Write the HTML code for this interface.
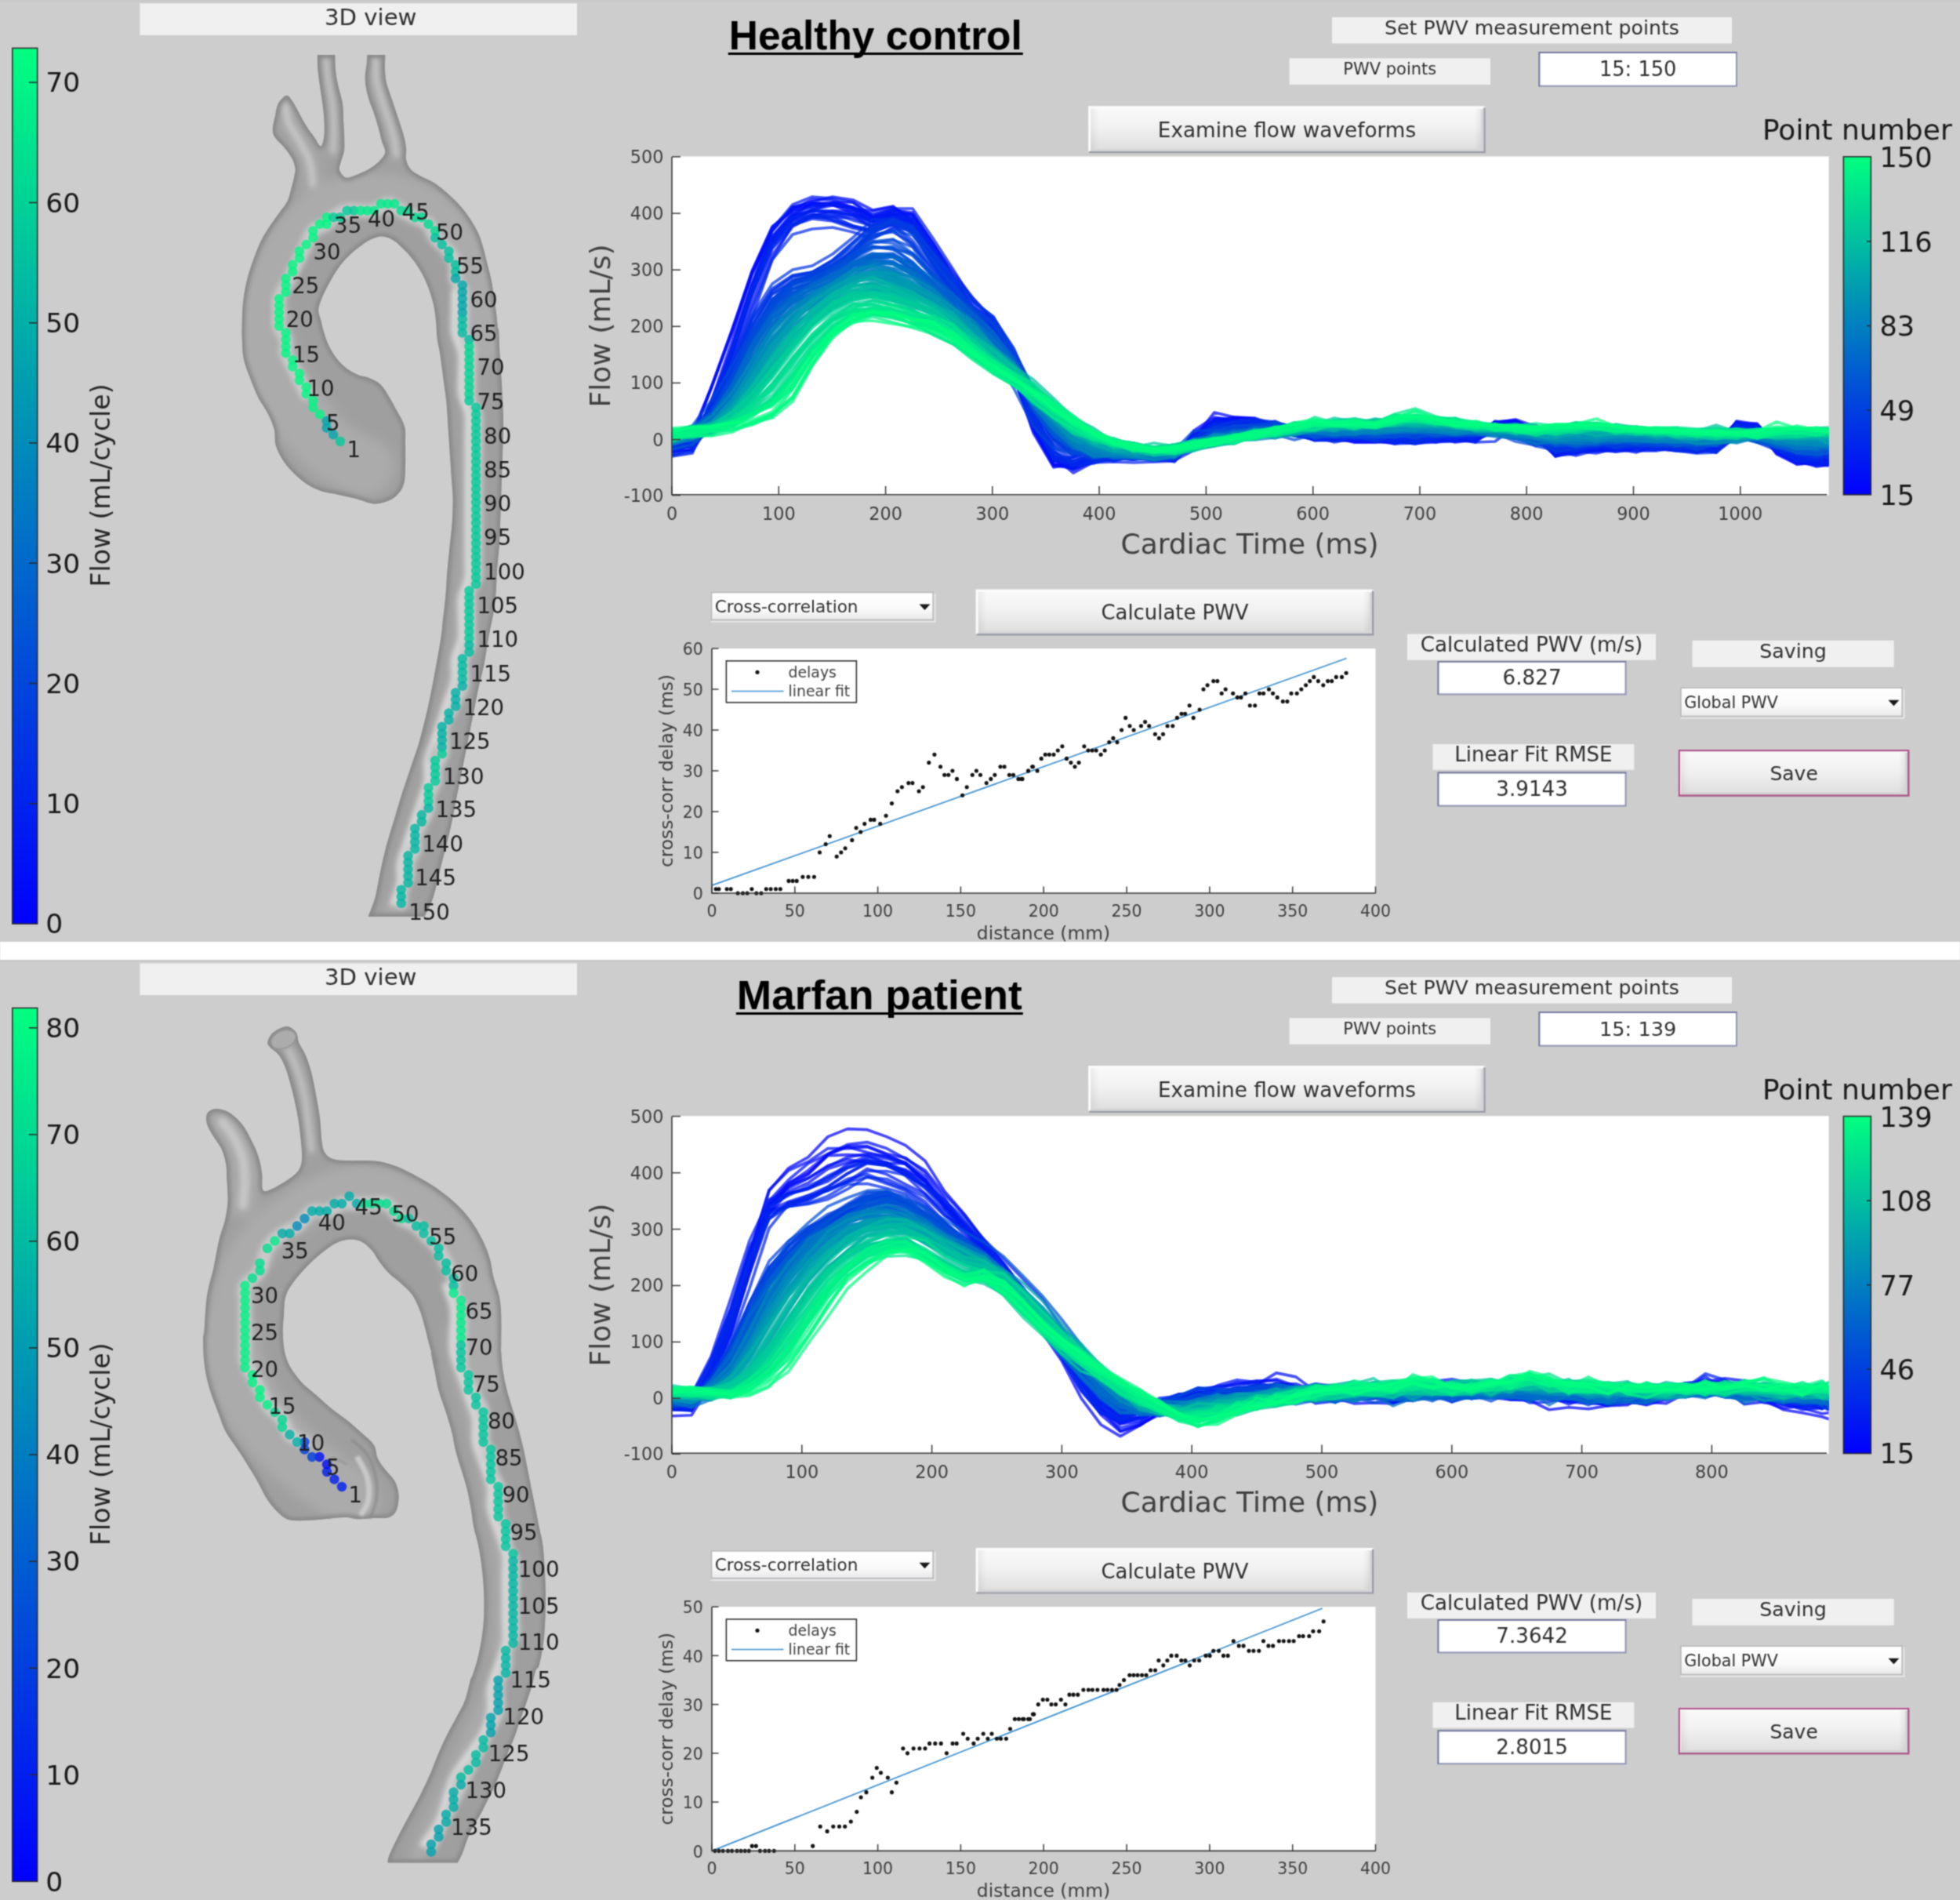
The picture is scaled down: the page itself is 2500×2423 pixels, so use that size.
<!DOCTYPE html>
<html><head><meta charset="utf-8"><title>PWV analysis</title>
<style>html,body{margin:0;padding:0;background:#cdcdcd}svg{display:block}text{font-family:"DejaVu Sans","Liberation Sans",sans-serif}</style></head><body>
<svg width="2500" height="2423" viewBox="0 0 2500 2423">
<defs>
<linearGradient id="winter" x1="0" y1="1" x2="0" y2="0"><stop offset="0" stop-color="#0000ff"/><stop offset="1" stop-color="#00ff80"/></linearGradient>
<linearGradient id="btn" x1="0" y1="0" x2="0" y2="1"><stop offset="0" stop-color="#fafafa"/><stop offset="0.45" stop-color="#f1f1f1"/><stop offset="1" stop-color="#dcdcdc"/></linearGradient>
<linearGradient id="btnl" x1="0" y1="0" x2="1" y2="0"><stop offset="0" stop-color="#000" stop-opacity="0.07"/><stop offset="1" stop-color="#000" stop-opacity="0"/></linearGradient>
<linearGradient id="btnr" x1="0" y1="0" x2="1" y2="0"><stop offset="0" stop-color="#000" stop-opacity="0"/><stop offset="1" stop-color="#000" stop-opacity="0.1"/></linearGradient>
<linearGradient id="pop" x1="0" y1="0" x2="0" y2="1"><stop offset="0" stop-color="#ffffff"/><stop offset="0.6" stop-color="#fafafa"/><stop offset="1" stop-color="#e9e9e9"/></linearGradient>
<filter id="blur6" x="-20%" y="-20%" width="140%" height="140%"><feGaussianBlur stdDeviation="7"/></filter>
<filter id="blur4" x="-20%" y="-20%" width="140%" height="140%"><feGaussianBlur stdDeviation="4"/></filter>
<filter id="blur3" x="-20%" y="-20%" width="140%" height="140%"><feGaussianBlur stdDeviation="3"/></filter>
<filter id="blur1" x="-20%" y="-20%" width="140%" height="140%"><feGaussianBlur stdDeviation="1.6"/></filter>
<filter id="blur2" x="-20%" y="-20%" width="140%" height="140%"><feGaussianBlur stdDeviation="2.5"/></filter>
<clipPath id="clipA"><rect x="856.5" y="199.5" width="1476.1" height="431"/></clipPath>
<filter id="soft" filterUnits="userSpaceOnUse" x="-10" y="-10" width="2520" height="2443" color-interpolation-filters="sRGB"><feConvolveMatrix order="3" kernelMatrix="0.0484 0.1232 0.0484 0.1232 0.3136 0.1232 0.0484 0.1232 0.0484" edgeMode="duplicate" preserveAlpha="true"/></filter>
</defs>
<g filter="url(#soft)">
<rect x="-10" y="-10" width="2520" height="2443" fill="#cdcdcd"/>
<rect width="2500" height="2423" fill="#fff"/>
<rect x="0" y="0" width="2500" height="1201" fill="#cdcdcd"/>
<rect x="0" y="0" width="2500" height="2.2" fill="#c8c8c8"/>
<rect x="0" y="1224.2" width="2500" height="1200" fill="#cdcdcd"/>
<rect x="0" y="1224.2" width="2500" height="2.2" fill="#c6c6c6"/>
<clipPath id="ac1"><path d="M541.4 1169C543.3 1164.9 548.8 1156.1 552.5 1144.6C556.2 1133.2 559.9 1115.2 563.5 1100.4C567.2 1085.7 571.3 1071 574.6 1056.2C577.9 1041.5 580.5 1026.8 583.4 1012C586.4 997.3 589.3 982.6 592.3 967.8C595.2 953.1 598.2 938.4 601.1 923.6C604.1 908.9 607.2 892.3 609.9 879.4C612.7 866.6 615.5 857.3 617.7 846.3C619.9 835.2 620.9 826 623.2 813.1C625.5 800.3 629.6 783.5 631.4 769.4C633.2 755.3 633.1 740.3 634 728.4C634.9 716.4 636 707.9 636.7 697.6C637.4 687.3 637.7 677.1 638.1 666.8C638.5 656.5 638.8 646.3 639.2 636C639.5 625.8 639.8 615.5 640.2 605.2C640.5 595 640.9 584.7 641.2 574.4C641.6 564.2 642.2 553.9 642.2 543.7C642.2 533.4 641.7 523.1 641.2 512.9C640.8 502.6 640.2 492.4 639.6 482.1C639 471.8 638.1 461.6 637.5 451.3C636.9 441 636.5 425.8 636.1 420.5C635.7 415.2 635.6 423 635.1 419.4C634.5 415.8 633.9 405.7 633 398.9C632.1 392.1 630.9 385.2 629.9 378.4C628.9 371.5 628.2 364.7 626.8 357.9C625.5 351 623.4 344.2 621.7 337.3C620 330.5 618.5 323.3 616.6 316.8C614.7 310.3 613.2 304.5 610.4 298.3C607.7 292.2 603.9 285.7 600.2 279.9C596.4 274 592.6 268.9 587.9 263.4C583.1 258 577.2 252.2 571.4 247C565.6 241.9 558.8 236.4 553 232.7C547.1 228.9 541.3 227.2 536.5 224.4C531.8 221.7 527.3 219.7 524.2 216.2C521.1 212.8 519.1 208.4 518.1 203.9C517 199.5 518.6 194.7 518.1 189.6C517.6 184.4 516.4 178.6 515 173.1C513.6 167.7 511.7 162.5 509.9 156.7C508 150.9 505.8 144.4 503.7 138.3C501.7 132.1 499.4 125.6 497.5 119.8C495.7 114 493.5 108.8 492.4 103.4C491.3 97.9 491.2 92.5 491 86.9C490.8 81.4 491.3 72.7 491.4 69.9L468.4 69.9C468.3 71.7 468.2 76.2 467.8 80.8C467.3 85.3 465.9 92.1 465.7 97.2C465.6 102.3 465.9 106.4 466.8 111.6C467.6 116.7 469.2 122.5 470.9 128C472.6 133.5 475 138.3 477 144.4C479.1 150.6 481.5 158.8 483.2 164.9C484.9 171.1 485.9 176.6 487.3 181.3C488.7 186.1 491.7 189.9 491.4 193.7C491 197.4 488.3 200.5 485.2 203.9C482.2 207.3 477.4 211.3 472.9 214.2C468.5 217.1 463.3 219.3 458.6 221.4C453.8 223.4 447.6 226 444.2 226.5C440.8 227 439.9 226.2 438 224.4C436.1 222.7 433.4 219.3 432.9 216.2C432.4 213.2 433.9 210.1 435 206C436 201.9 438.4 197.1 439.1 191.6C439.7 186.1 439.2 179.6 439.1 173.1C438.9 166.6 438.4 159.5 438 152.6C437.7 145.8 438 138.9 437 132.1C436 125.3 433.3 118.4 431.9 111.6C430.4 104.7 428.9 98 428.2 91C427.4 84.1 427.5 73.4 427.4 69.9L404.8 69.9C404.9 73.4 405 84.1 405.6 91C406.2 98 407.3 104.7 408.3 111.6C409.2 118.4 410.5 125.3 411.3 132.1C412.2 138.9 413.1 145.8 413.4 152.6C413.7 159.5 414.1 167.5 413.4 173.1C412.7 178.8 411.3 186.1 409.3 186.5C407.2 186.8 404.2 179.5 401.1 175.2C398 170.9 394.2 166.3 390.8 160.8C387.4 155.4 383.6 147.8 380.6 142.4C377.5 136.9 374.9 131.4 372.4 128C369.8 124.6 368.1 121.1 365.2 121.8C362.3 122.5 357.3 127.6 354.9 132.1C352.5 136.5 352 143 350.8 148.5C349.6 154 347.7 160.5 347.7 164.9C347.7 169.4 348.4 171.4 350.8 175.2C353.2 179 358.5 183.1 362.1 187.5C365.7 192 370 197.4 372.4 201.9C374.7 206.3 375.9 210.4 376.5 214.2C377 217.9 376.3 220 375.4 224.4C374.6 228.9 372.9 235.4 371.3 240.9C369.8 246.3 368.8 252.2 366.2 257.3C363.6 262.4 360 265.8 355.9 271.7C351.8 277.5 345.7 285.7 341.6 292.2C337.5 298.7 334.7 303.1 331.3 310.6C327.9 318.2 324 328.8 321 337.3C318.1 345.9 315.7 353.4 313.9 362C312 370.5 310.6 379.7 309.8 388.6C308.9 397.5 308.9 408.3 308.7 415.3C308.6 422.3 308.4 423.8 308.7 430.8C309.1 437.8 309.1 448.9 310.8 457.5C312.5 466 315.9 473.9 319 482.1C322.1 490.3 325.5 499.2 329.3 506.7C333 514.2 338.1 520.4 341.6 527.2C345 534.1 348.1 540.9 349.8 547.8C351.5 554.6 349.8 561.5 351.8 568.3C353.9 575.1 357.6 582.3 362.1 588.8C366.5 595.3 373 602.2 378.5 607.3C384 612.4 389.5 616.4 394.9 619.6C400.4 622.8 405.2 624.9 411.3 626.8C417.5 628.7 424.7 629.3 431.9 630.9C439.1 632.4 447.3 634.1 454.4 636C461.6 637.9 468.8 641.5 475 642.2C481.1 642.9 486.3 641.8 491.4 640.1C496.5 638.4 501.8 635.7 505.8 631.9C509.7 628.2 513.1 623.7 515 617.5C516.9 611.4 516.7 603.9 517 595C517.4 586.1 517.2 572.7 517 564.2C516.9 555.6 517.9 550.5 516 543.7C514.1 536.8 509.2 529.6 505.8 523.1C502.3 516.6 498.9 510.1 495.5 504.7C492.1 499.2 489.3 494.1 485.2 490.3C481.1 486.5 475.7 484.1 470.9 482.1C466.1 480 461.3 480 456.5 478C451.7 475.9 446.6 473.2 442.1 469.8C437.7 466.4 433.6 462.3 429.8 457.5C426.1 452.7 422.3 446.5 419.6 441C416.8 435.6 415.1 430.1 413.4 424.6C411.7 419.2 410.5 413.2 409.3 408.2C408.1 403.2 405.9 399.8 406.2 394.8C406.6 389.8 408.8 384.5 411.3 378.4C413.9 372.2 418.2 364 421.6 357.9C425 351.7 428.1 346.6 431.9 341.4C435.6 336.3 439.7 331.5 444.2 327.1C448.6 322.6 453.8 318.3 458.6 314.8C463.3 311.2 468.1 307.7 472.9 305.5C477.7 303.3 482.5 301.2 487.3 301.4C492.1 301.6 496.9 303.6 501.7 306.5C506.4 309.4 511.6 314.4 516 318.9C520.5 323.3 524.6 328.1 528.3 333.2C532.1 338.4 535.5 343.8 538.6 349.6C541.7 355.5 544.4 361.6 546.8 368.1C549.2 374.6 551.4 381.8 553 388.6C554.5 395.5 555.3 402.1 556 409.2C556.8 416.2 556.6 423.8 557.5 430.8C558.3 437.8 559.9 442.8 561.2 451.3C562.5 459.9 563.9 471.8 565.3 482.1C566.6 492.4 568.4 502.6 569.4 512.9C570.4 523.1 570.7 533.4 571.4 543.7C572.1 553.9 572.8 564.2 573.5 574.4C574.2 584.7 574.9 595 575.5 605.2C576.2 615.5 577.4 625.8 577.6 636C577.8 646.3 577.2 656.5 576.6 666.8C575.9 677.1 574.5 687.3 573.5 697.6C572.5 707.9 571.3 718.1 570.4 728.4C569.6 738.6 569.3 748.3 568.4 759.2C567.4 770 565.6 784.3 564.6 793.3C563.7 802.3 564.1 802.5 562.4 813.1C560.8 823.8 557.5 842.6 554.7 857.3C551.9 872.1 549.2 886.8 545.9 901.5C542.5 916.3 538.5 932.9 534.8 945.7C531.1 958.6 527.4 967.8 523.8 978.9C520.1 989.9 516.2 1001 512.7 1012C509.2 1023.1 506.1 1034.1 502.8 1045.2C499.4 1056.2 495.8 1067.3 492.8 1078.3C489.9 1089.4 487.5 1100.4 485.1 1111.5C482.7 1122.5 481 1135.1 478.5 1144.6C475.9 1154.2 471.1 1164.9 469.6 1169Z"/></clipPath>
<g clip-path="url(#ac1)">
<path d="M541.4 1169C543.3 1164.9 548.8 1156.1 552.5 1144.6C556.2 1133.2 559.9 1115.2 563.5 1100.4C567.2 1085.7 571.3 1071 574.6 1056.2C577.9 1041.5 580.5 1026.8 583.4 1012C586.4 997.3 589.3 982.6 592.3 967.8C595.2 953.1 598.2 938.4 601.1 923.6C604.1 908.9 607.2 892.3 609.9 879.4C612.7 866.6 615.5 857.3 617.7 846.3C619.9 835.2 620.9 826 623.2 813.1C625.5 800.3 629.6 783.5 631.4 769.4C633.2 755.3 633.1 740.3 634 728.4C634.9 716.4 636 707.9 636.7 697.6C637.4 687.3 637.7 677.1 638.1 666.8C638.5 656.5 638.8 646.3 639.2 636C639.5 625.8 639.8 615.5 640.2 605.2C640.5 595 640.9 584.7 641.2 574.4C641.6 564.2 642.2 553.9 642.2 543.7C642.2 533.4 641.7 523.1 641.2 512.9C640.8 502.6 640.2 492.4 639.6 482.1C639 471.8 638.1 461.6 637.5 451.3C636.9 441 636.5 425.8 636.1 420.5C635.7 415.2 635.6 423 635.1 419.4C634.5 415.8 633.9 405.7 633 398.9C632.1 392.1 630.9 385.2 629.9 378.4C628.9 371.5 628.2 364.7 626.8 357.9C625.5 351 623.4 344.2 621.7 337.3C620 330.5 618.5 323.3 616.6 316.8C614.7 310.3 613.2 304.5 610.4 298.3C607.7 292.2 603.9 285.7 600.2 279.9C596.4 274 592.6 268.9 587.9 263.4C583.1 258 577.2 252.2 571.4 247C565.6 241.9 558.8 236.4 553 232.7C547.1 228.9 541.3 227.2 536.5 224.4C531.8 221.7 527.3 219.7 524.2 216.2C521.1 212.8 519.1 208.4 518.1 203.9C517 199.5 518.6 194.7 518.1 189.6C517.6 184.4 516.4 178.6 515 173.1C513.6 167.7 511.7 162.5 509.9 156.7C508 150.9 505.8 144.4 503.7 138.3C501.7 132.1 499.4 125.6 497.5 119.8C495.7 114 493.5 108.8 492.4 103.4C491.3 97.9 491.2 92.5 491 86.9C490.8 81.4 491.3 72.7 491.4 69.9L468.4 69.9C468.3 71.7 468.2 76.2 467.8 80.8C467.3 85.3 465.9 92.1 465.7 97.2C465.6 102.3 465.9 106.4 466.8 111.6C467.6 116.7 469.2 122.5 470.9 128C472.6 133.5 475 138.3 477 144.4C479.1 150.6 481.5 158.8 483.2 164.9C484.9 171.1 485.9 176.6 487.3 181.3C488.7 186.1 491.7 189.9 491.4 193.7C491 197.4 488.3 200.5 485.2 203.9C482.2 207.3 477.4 211.3 472.9 214.2C468.5 217.1 463.3 219.3 458.6 221.4C453.8 223.4 447.6 226 444.2 226.5C440.8 227 439.9 226.2 438 224.4C436.1 222.7 433.4 219.3 432.9 216.2C432.4 213.2 433.9 210.1 435 206C436 201.9 438.4 197.1 439.1 191.6C439.7 186.1 439.2 179.6 439.1 173.1C438.9 166.6 438.4 159.5 438 152.6C437.7 145.8 438 138.9 437 132.1C436 125.3 433.3 118.4 431.9 111.6C430.4 104.7 428.9 98 428.2 91C427.4 84.1 427.5 73.4 427.4 69.9L404.8 69.9C404.9 73.4 405 84.1 405.6 91C406.2 98 407.3 104.7 408.3 111.6C409.2 118.4 410.5 125.3 411.3 132.1C412.2 138.9 413.1 145.8 413.4 152.6C413.7 159.5 414.1 167.5 413.4 173.1C412.7 178.8 411.3 186.1 409.3 186.5C407.2 186.8 404.2 179.5 401.1 175.2C398 170.9 394.2 166.3 390.8 160.8C387.4 155.4 383.6 147.8 380.6 142.4C377.5 136.9 374.9 131.4 372.4 128C369.8 124.6 368.1 121.1 365.2 121.8C362.3 122.5 357.3 127.6 354.9 132.1C352.5 136.5 352 143 350.8 148.5C349.6 154 347.7 160.5 347.7 164.9C347.7 169.4 348.4 171.4 350.8 175.2C353.2 179 358.5 183.1 362.1 187.5C365.7 192 370 197.4 372.4 201.9C374.7 206.3 375.9 210.4 376.5 214.2C377 217.9 376.3 220 375.4 224.4C374.6 228.9 372.9 235.4 371.3 240.9C369.8 246.3 368.8 252.2 366.2 257.3C363.6 262.4 360 265.8 355.9 271.7C351.8 277.5 345.7 285.7 341.6 292.2C337.5 298.7 334.7 303.1 331.3 310.6C327.9 318.2 324 328.8 321 337.3C318.1 345.9 315.7 353.4 313.9 362C312 370.5 310.6 379.7 309.8 388.6C308.9 397.5 308.9 408.3 308.7 415.3C308.6 422.3 308.4 423.8 308.7 430.8C309.1 437.8 309.1 448.9 310.8 457.5C312.5 466 315.9 473.9 319 482.1C322.1 490.3 325.5 499.2 329.3 506.7C333 514.2 338.1 520.4 341.6 527.2C345 534.1 348.1 540.9 349.8 547.8C351.5 554.6 349.8 561.5 351.8 568.3C353.9 575.1 357.6 582.3 362.1 588.8C366.5 595.3 373 602.2 378.5 607.3C384 612.4 389.5 616.4 394.9 619.6C400.4 622.8 405.2 624.9 411.3 626.8C417.5 628.7 424.7 629.3 431.9 630.9C439.1 632.4 447.3 634.1 454.4 636C461.6 637.9 468.8 641.5 475 642.2C481.1 642.9 486.3 641.8 491.4 640.1C496.5 638.4 501.8 635.7 505.8 631.9C509.7 628.2 513.1 623.7 515 617.5C516.9 611.4 516.7 603.9 517 595C517.4 586.1 517.2 572.7 517 564.2C516.9 555.6 517.9 550.5 516 543.7C514.1 536.8 509.2 529.6 505.8 523.1C502.3 516.6 498.9 510.1 495.5 504.7C492.1 499.2 489.3 494.1 485.2 490.3C481.1 486.5 475.7 484.1 470.9 482.1C466.1 480 461.3 480 456.5 478C451.7 475.9 446.6 473.2 442.1 469.8C437.7 466.4 433.6 462.3 429.8 457.5C426.1 452.7 422.3 446.5 419.6 441C416.8 435.6 415.1 430.1 413.4 424.6C411.7 419.2 410.5 413.2 409.3 408.2C408.1 403.2 405.9 399.8 406.2 394.8C406.6 389.8 408.8 384.5 411.3 378.4C413.9 372.2 418.2 364 421.6 357.9C425 351.7 428.1 346.6 431.9 341.4C435.6 336.3 439.7 331.5 444.2 327.1C448.6 322.6 453.8 318.3 458.6 314.8C463.3 311.2 468.1 307.7 472.9 305.5C477.7 303.3 482.5 301.2 487.3 301.4C492.1 301.6 496.9 303.6 501.7 306.5C506.4 309.4 511.6 314.4 516 318.9C520.5 323.3 524.6 328.1 528.3 333.2C532.1 338.4 535.5 343.8 538.6 349.6C541.7 355.5 544.4 361.6 546.8 368.1C549.2 374.6 551.4 381.8 553 388.6C554.5 395.5 555.3 402.1 556 409.2C556.8 416.2 556.6 423.8 557.5 430.8C558.3 437.8 559.9 442.8 561.2 451.3C562.5 459.9 563.9 471.8 565.3 482.1C566.6 492.4 568.4 502.6 569.4 512.9C570.4 523.1 570.7 533.4 571.4 543.7C572.1 553.9 572.8 564.2 573.5 574.4C574.2 584.7 574.9 595 575.5 605.2C576.2 615.5 577.4 625.8 577.6 636C577.8 646.3 577.2 656.5 576.6 666.8C575.9 677.1 574.5 687.3 573.5 697.6C572.5 707.9 571.3 718.1 570.4 728.4C569.6 738.6 569.3 748.3 568.4 759.2C567.4 770 565.6 784.3 564.6 793.3C563.7 802.3 564.1 802.5 562.4 813.1C560.8 823.8 557.5 842.6 554.7 857.3C551.9 872.1 549.2 886.8 545.9 901.5C542.5 916.3 538.5 932.9 534.8 945.7C531.1 958.6 527.4 967.8 523.8 978.9C520.1 989.9 516.2 1001 512.7 1012C509.2 1023.1 506.1 1034.1 502.8 1045.2C499.4 1056.2 495.8 1067.3 492.8 1078.3C489.9 1089.4 487.5 1100.4 485.1 1111.5C482.7 1122.5 481 1135.1 478.5 1144.6C475.9 1154.2 471.1 1164.9 469.6 1169Z" fill="#9f9f9f"/>
<g filter="url(#blur6)" fill="none" stroke-linecap="round" stroke-linejoin="round">
<path d="M587.9 400C589.2 410.3 594 441 596.1 461.6C598.1 482.1 599.3 502.6 600.2 523.1C601 543.7 601.2 564.2 601.2 584.7C601.2 605.2 600.8 625.8 600.2 646.3C599.5 666.8 598.5 687.3 597.1 707.9C595.7 728.4 593.5 751.9 592 769.4C590.4 787 590.4 794.8 587.8 813.1C585.3 831.5 581.2 857.3 576.8 879.4C572.4 901.5 566.9 923.6 561.3 945.7C555.8 967.8 549.9 989.9 543.6 1012C537.4 1034.1 530 1056.2 523.8 1078.3C517.5 1100.4 510.5 1129.5 506.1 1144.6C501.7 1159.7 498.7 1164.9 497.2 1169" stroke="#ababab" stroke-width="20"/>
<path d="M331.3 439.9C331.7 433.1 331.7 412.6 333.4 398.9C335.1 385.2 337.5 370.8 341.6 357.9C345.7 344.9 351.8 331.9 358 320.9C364.1 310 371 301.1 378.5 292.2C386 283.3 393.6 274.4 403.1 267.5C412.7 260.7 424 254.9 436 251.1C447.9 247.4 461.6 245 475 245C488.3 245 503.4 247.4 516 251.1C528.7 254.9 541 260.7 550.9 267.5C560.8 274.4 568.7 283.3 575.5 292.2C582.4 301.1 587.2 310 592 320.9C596.7 331.9 600.8 344.9 604.3 357.9C607.7 370.8 610.4 385.2 612.5 398.9C614.5 412.6 615.9 433.1 616.6 439.9" stroke="#ababab" stroke-width="50"/>
<path d="M331.3 400C332.3 406.8 333 425.7 337.5 441C341.9 456.4 349.8 477 358 492.4C366.2 507.7 375.8 519.7 386.7 533.4C397.7 547.1 410.7 564.2 423.7 574.4C436.7 584.7 457.9 591.6 464.7 595" stroke="#ababab" stroke-width="75"/>
<path d="M415.9 72.6C416.3 77.4 417.2 91.4 418.5 101.3C419.8 111.2 422.5 121.8 423.7 132.1C424.9 142.4 425.5 152.6 425.7 162.9C425.9 173.1 424.9 188.5 424.7 193.7" stroke="#ababab" stroke-width="15"/>
<path d="M479.1 72.6C479.2 77.4 478.7 92.1 480.1 101.3C481.5 110.5 484.7 119.4 487.3 128C489.9 136.5 492.9 144.4 495.5 152.6C498.1 160.8 501 169.7 502.7 177.2C504.4 184.8 505.2 194.3 505.8 197.8" stroke="#ababab" stroke-width="17.5"/>
<path d="M364.1 136.2C364.8 139.6 365.2 149.2 368.3 156.7C371.3 164.2 378.2 173.1 382.6 181.3C387.1 189.6 392.2 197.1 394.9 206C397.7 214.9 398.4 229.9 399 234.7" stroke="#ababab" stroke-width="22.5"/>
</g>
<g filter="url(#blur3)" fill="none" stroke-linecap="round" stroke-linejoin="round">
<path d="M415.9 72.6C416.3 77.4 417.2 91.4 418.5 101.3C419.8 111.2 422.5 121.8 423.7 132.1C424.9 142.4 425.5 152.6 425.7 162.9C425.9 173.1 424.9 188.5 424.7 193.7" stroke="#c6c6c6" stroke-width="5.4"/>
<path d="M479.1 72.6C479.2 77.4 478.7 92.1 480.1 101.3C481.5 110.5 484.7 119.4 487.3 128C489.9 136.5 492.9 144.4 495.5 152.6C498.1 160.8 501 169.7 502.7 177.2C504.4 184.8 505.2 194.3 505.8 197.8" stroke="#c6c6c6" stroke-width="6.3"/>
<path d="M364.1 136.2C364.8 139.6 365.2 149.2 368.3 156.7C371.3 164.2 378.2 173.1 382.6 181.3C387.1 189.6 392.2 197.1 394.9 206C397.7 214.9 398.4 229.9 399 234.7" stroke="#c6c6c6" stroke-width="8.1"/>
<path d="M390.6 502.4C389.2 499.5 384.8 490.8 381.9 485.1C379.1 479.3 376.2 473.5 373.3 467.7C370.4 462 366.1 456.2 364.6 450.4C363.2 444.6 366.1 438.9 364.6 433.1C363.2 427.3 357.4 421.6 356 415.8C354.5 410 356 404.2 356 398.5C356 392.7 354.5 386.9 356 381.1C357.4 375.4 361.7 369.6 364.6 363.8C367.5 358 370.4 352.3 373.3 346.5C376.2 340.7 379.1 335 381.9 329.2C384.8 323.4 387.7 317.6 390.6 311.9C393.5 306.1 394.9 298.9 399.3 294.5C403.6 290.2 412.2 288.8 416.6 285.9C420.9 283 420.9 280.1 425.2 277.2C429.6 274.3 436.8 270 442.6 268.6C448.3 267.1 454.1 268.6 459.9 268.6C465.7 268.6 471.4 270 477.2 268.6C483 267.1 488.7 259.9 494.5 259.9C500.3 259.9 506.1 265.7 511.8 268.6C517.6 271.4 523.4 274.3 529.2 277.2C534.9 280.1 542.1 281.6 546.5 285.9C550.8 290.2 550.8 297.4 555.1 303.2C559.5 309 568.1 314.7 572.5 320.5C576.8 326.3 579.7 332.1 581.1 337.8C582.6 343.6 579.7 349.4 581.1 355.2C582.6 360.9 588.3 366.7 589.8 372.5C591.2 378.3 589.8 384 589.8 389.8C589.8 395.6 589.8 401.3 589.8 407.1C589.8 412.9 588.3 418.7 589.8 424.4C591.2 430.2 597 436 598.4 441.8C599.9 447.5 598.4 453.3 598.4 459.1C598.4 464.9 598.4 470.6 598.4 476.4C598.4 482.2 598.4 487.9 598.4 493.7C598.4 499.5 597 505.3 598.4 511C599.9 516.8 605.7 522.6 607.1 528.4C608.5 534.1 607.1 539.9 607.1 545.7C607.1 551.5 607.1 557.2 607.1 563C607.1 568.8 607.1 574.5 607.1 580.3C607.1 586.1 607.1 591.9 607.1 597.6C607.1 603.4 607.1 609.2 607.1 615C607.1 620.7 607.1 626.5 607.1 632.3C607.1 638.1 607.1 643.8 607.1 649.6C607.1 655.4 607.1 661.1 607.1 666.9C607.1 672.7 607.1 678.5 607.1 684.2C607.1 690 607.1 695.8 607.1 701.6C607.1 707.3 607.1 713.1 607.1 718.9C607.1 724.7 608.5 730.4 607.1 736.2C605.7 742 599.9 747.7 598.4 753.5C597 759.3 598.4 765.1 598.4 770.8C598.4 776.6 598.4 782.4 598.4 788.2C598.4 793.9 598.4 799.7 598.4 805.5C598.4 811.3 599.9 817 598.4 822.8C597 828.6 591.2 834.3 589.8 840.1C588.3 845.9 589.8 851.7 589.8 857.4C589.8 863.2 591.2 869 589.8 874.8C588.3 880.5 584 886.3 581.1 892.1C578.2 897.9 575.3 903.6 572.5 909.4C569.6 915.2 565.2 920.9 563.8 926.7C562.4 932.5 563.8 938.3 563.8 944C563.8 949.8 565.2 955.6 563.8 961.4C562.4 967.1 556.6 972.9 555.1 978.7C553.7 984.5 556.6 990.2 555.1 996C553.7 1001.8 547.9 1007.5 546.5 1013.3C545 1019.1 547.9 1024.9 546.5 1030.6C545 1036.4 540.7 1042.2 537.8 1048C534.9 1053.7 530.6 1059.5 529.2 1065.3C527.7 1071.1 530.6 1076.8 529.2 1082.6C527.7 1088.4 521.9 1094.1 520.5 1099.9C519.1 1105.7 521.9 1111.5 520.5 1117.2C519.1 1123 513.3 1128.8 511.8 1134.6C510.4 1140.3 511.8 1149 511.8 1151.9" stroke="#c9c9c9" stroke-width="17"/>
<path d="M578.8 372.5C578.8 376.8 578.8 389.8 578.8 398.5C578.8 407.1 577.3 415.8 578.8 424.4C580.2 433.1 586 441.8 587.4 450.4C588.9 459.1 587.4 467.7 587.4 476.4C587.4 485.1 586 493.7 587.4 502.4C588.9 511 594.7 519.7 596.1 528.4C597.5 537 596.1 545.7 596.1 554.3C596.1 563 596.1 571.7 596.1 580.3C596.1 589 596.1 597.6 596.1 606.3C596.1 615 596.1 623.6 596.1 632.3C596.1 640.9 596.1 649.6 596.1 658.3C596.1 666.9 596.1 675.6 596.1 684.2C596.1 692.9 596.1 701.6 596.1 710.2C596.1 718.9 597.5 727.5 596.1 736.2C594.7 744.9 588.9 753.5 587.4 762.2C586 770.8 587.4 779.5 587.4 788.2C587.4 796.8 588.9 805.5 587.4 814.1C586 822.8 580.2 831.5 578.8 840.1C577.3 848.8 580.2 857.4 578.8 866.1C577.3 874.8 573 883.4 570.1 892.1C567.2 900.7 564.3 909.4 561.5 918.1C558.6 926.7 555.7 935.4 552.8 944C549.9 952.7 545.6 961.4 544.1 970C542.7 978.7 545.6 987.3 544.1 996C542.7 1004.7 538.4 1013.3 535.5 1022C532.6 1030.6 529.7 1039.3 526.8 1048C523.9 1056.6 521 1065.3 518.2 1073.9C515.3 1082.6 510.9 1091.3 509.5 1099.9C508.1 1108.6 510.9 1117.2 509.5 1125.9C508.1 1134.6 502.3 1147.6 500.8 1151.9" stroke="#dadada" stroke-width="7"/>
</g>
<path d="M541.4 1169C543.3 1164.9 548.8 1156.1 552.5 1144.6C556.2 1133.2 559.9 1115.2 563.5 1100.4C567.2 1085.7 571.3 1071 574.6 1056.2C577.9 1041.5 580.5 1026.8 583.4 1012C586.4 997.3 589.3 982.6 592.3 967.8C595.2 953.1 598.2 938.4 601.1 923.6C604.1 908.9 607.2 892.3 609.9 879.4C612.7 866.6 615.5 857.3 617.7 846.3C619.9 835.2 620.9 826 623.2 813.1C625.5 800.3 629.6 783.5 631.4 769.4C633.2 755.3 633.1 740.3 634 728.4C634.9 716.4 636 707.9 636.7 697.6C637.4 687.3 637.7 677.1 638.1 666.8C638.5 656.5 638.8 646.3 639.2 636C639.5 625.8 639.8 615.5 640.2 605.2C640.5 595 640.9 584.7 641.2 574.4C641.6 564.2 642.2 553.9 642.2 543.7C642.2 533.4 641.7 523.1 641.2 512.9C640.8 502.6 640.2 492.4 639.6 482.1C639 471.8 638.1 461.6 637.5 451.3C636.9 441 636.5 425.8 636.1 420.5C635.7 415.2 635.6 423 635.1 419.4C634.5 415.8 633.9 405.7 633 398.9C632.1 392.1 630.9 385.2 629.9 378.4C628.9 371.5 628.2 364.7 626.8 357.9C625.5 351 623.4 344.2 621.7 337.3C620 330.5 618.5 323.3 616.6 316.8C614.7 310.3 613.2 304.5 610.4 298.3C607.7 292.2 603.9 285.7 600.2 279.9C596.4 274 592.6 268.9 587.9 263.4C583.1 258 577.2 252.2 571.4 247C565.6 241.9 558.8 236.4 553 232.7C547.1 228.9 541.3 227.2 536.5 224.4C531.8 221.7 527.3 219.7 524.2 216.2C521.1 212.8 519.1 208.4 518.1 203.9C517 199.5 518.6 194.7 518.1 189.6C517.6 184.4 516.4 178.6 515 173.1C513.6 167.7 511.7 162.5 509.9 156.7C508 150.9 505.8 144.4 503.7 138.3C501.7 132.1 499.4 125.6 497.5 119.8C495.7 114 493.5 108.8 492.4 103.4C491.3 97.9 491.2 92.5 491 86.9C490.8 81.4 491.3 72.7 491.4 69.9L468.4 69.9C468.3 71.7 468.2 76.2 467.8 80.8C467.3 85.3 465.9 92.1 465.7 97.2C465.6 102.3 465.9 106.4 466.8 111.6C467.6 116.7 469.2 122.5 470.9 128C472.6 133.5 475 138.3 477 144.4C479.1 150.6 481.5 158.8 483.2 164.9C484.9 171.1 485.9 176.6 487.3 181.3C488.7 186.1 491.7 189.9 491.4 193.7C491 197.4 488.3 200.5 485.2 203.9C482.2 207.3 477.4 211.3 472.9 214.2C468.5 217.1 463.3 219.3 458.6 221.4C453.8 223.4 447.6 226 444.2 226.5C440.8 227 439.9 226.2 438 224.4C436.1 222.7 433.4 219.3 432.9 216.2C432.4 213.2 433.9 210.1 435 206C436 201.9 438.4 197.1 439.1 191.6C439.7 186.1 439.2 179.6 439.1 173.1C438.9 166.6 438.4 159.5 438 152.6C437.7 145.8 438 138.9 437 132.1C436 125.3 433.3 118.4 431.9 111.6C430.4 104.7 428.9 98 428.2 91C427.4 84.1 427.5 73.4 427.4 69.9L404.8 69.9C404.9 73.4 405 84.1 405.6 91C406.2 98 407.3 104.7 408.3 111.6C409.2 118.4 410.5 125.3 411.3 132.1C412.2 138.9 413.1 145.8 413.4 152.6C413.7 159.5 414.1 167.5 413.4 173.1C412.7 178.8 411.3 186.1 409.3 186.5C407.2 186.8 404.2 179.5 401.1 175.2C398 170.9 394.2 166.3 390.8 160.8C387.4 155.4 383.6 147.8 380.6 142.4C377.5 136.9 374.9 131.4 372.4 128C369.8 124.6 368.1 121.1 365.2 121.8C362.3 122.5 357.3 127.6 354.9 132.1C352.5 136.5 352 143 350.8 148.5C349.6 154 347.7 160.5 347.7 164.9C347.7 169.4 348.4 171.4 350.8 175.2C353.2 179 358.5 183.1 362.1 187.5C365.7 192 370 197.4 372.4 201.9C374.7 206.3 375.9 210.4 376.5 214.2C377 217.9 376.3 220 375.4 224.4C374.6 228.9 372.9 235.4 371.3 240.9C369.8 246.3 368.8 252.2 366.2 257.3C363.6 262.4 360 265.8 355.9 271.7C351.8 277.5 345.7 285.7 341.6 292.2C337.5 298.7 334.7 303.1 331.3 310.6C327.9 318.2 324 328.8 321 337.3C318.1 345.9 315.7 353.4 313.9 362C312 370.5 310.6 379.7 309.8 388.6C308.9 397.5 308.9 408.3 308.7 415.3C308.6 422.3 308.4 423.8 308.7 430.8C309.1 437.8 309.1 448.9 310.8 457.5C312.5 466 315.9 473.9 319 482.1C322.1 490.3 325.5 499.2 329.3 506.7C333 514.2 338.1 520.4 341.6 527.2C345 534.1 348.1 540.9 349.8 547.8C351.5 554.6 349.8 561.5 351.8 568.3C353.9 575.1 357.6 582.3 362.1 588.8C366.5 595.3 373 602.2 378.5 607.3C384 612.4 389.5 616.4 394.9 619.6C400.4 622.8 405.2 624.9 411.3 626.8C417.5 628.7 424.7 629.3 431.9 630.9C439.1 632.4 447.3 634.1 454.4 636C461.6 637.9 468.8 641.5 475 642.2C481.1 642.9 486.3 641.8 491.4 640.1C496.5 638.4 501.8 635.7 505.8 631.9C509.7 628.2 513.1 623.7 515 617.5C516.9 611.4 516.7 603.9 517 595C517.4 586.1 517.2 572.7 517 564.2C516.9 555.6 517.9 550.5 516 543.7C514.1 536.8 509.2 529.6 505.8 523.1C502.3 516.6 498.9 510.1 495.5 504.7C492.1 499.2 489.3 494.1 485.2 490.3C481.1 486.5 475.7 484.1 470.9 482.1C466.1 480 461.3 480 456.5 478C451.7 475.9 446.6 473.2 442.1 469.8C437.7 466.4 433.6 462.3 429.8 457.5C426.1 452.7 422.3 446.5 419.6 441C416.8 435.6 415.1 430.1 413.4 424.6C411.7 419.2 410.5 413.2 409.3 408.2C408.1 403.2 405.9 399.8 406.2 394.8C406.6 389.8 408.8 384.5 411.3 378.4C413.9 372.2 418.2 364 421.6 357.9C425 351.7 428.1 346.6 431.9 341.4C435.6 336.3 439.7 331.5 444.2 327.1C448.6 322.6 453.8 318.3 458.6 314.8C463.3 311.2 468.1 307.7 472.9 305.5C477.7 303.3 482.5 301.2 487.3 301.4C492.1 301.6 496.9 303.6 501.7 306.5C506.4 309.4 511.6 314.4 516 318.9C520.5 323.3 524.6 328.1 528.3 333.2C532.1 338.4 535.5 343.8 538.6 349.6C541.7 355.5 544.4 361.6 546.8 368.1C549.2 374.6 551.4 381.8 553 388.6C554.5 395.5 555.3 402.1 556 409.2C556.8 416.2 556.6 423.8 557.5 430.8C558.3 437.8 559.9 442.8 561.2 451.3C562.5 459.9 563.9 471.8 565.3 482.1C566.6 492.4 568.4 502.6 569.4 512.9C570.4 523.1 570.7 533.4 571.4 543.7C572.1 553.9 572.8 564.2 573.5 574.4C574.2 584.7 574.9 595 575.5 605.2C576.2 615.5 577.4 625.8 577.6 636C577.8 646.3 577.2 656.5 576.6 666.8C575.9 677.1 574.5 687.3 573.5 697.6C572.5 707.9 571.3 718.1 570.4 728.4C569.6 738.6 569.3 748.3 568.4 759.2C567.4 770 565.6 784.3 564.6 793.3C563.7 802.3 564.1 802.5 562.4 813.1C560.8 823.8 557.5 842.6 554.7 857.3C551.9 872.1 549.2 886.8 545.9 901.5C542.5 916.3 538.5 932.9 534.8 945.7C531.1 958.6 527.4 967.8 523.8 978.9C520.1 989.9 516.2 1001 512.7 1012C509.2 1023.1 506.1 1034.1 502.8 1045.2C499.4 1056.2 495.8 1067.3 492.8 1078.3C489.9 1089.4 487.5 1100.4 485.1 1111.5C482.7 1122.5 481 1135.1 478.5 1144.6C475.9 1154.2 471.1 1164.9 469.6 1169Z" fill="none" stroke="#898989" stroke-width="8" filter="url(#blur2)"/>
</g>
<g fill-opacity="0.8">
<circle cx="433.9" cy="563" r="6.2" fill="#00cc99"/>
<circle cx="425.2" cy="554.3" r="6.2" fill="#00a8ab"/>
<circle cx="416.6" cy="545.7" r="6.2" fill="#00a8ab"/>
<circle cx="416.6" cy="537" r="6.2" fill="#00a8ab"/>
<circle cx="407.9" cy="528.4" r="6.2" fill="#00f783"/>
<circle cx="399.3" cy="519.7" r="6.2" fill="#00f783"/>
<circle cx="399.3" cy="511" r="6.2" fill="#00f783"/>
<circle cx="390.6" cy="502.4" r="6.2" fill="#00f783"/>
<circle cx="390.6" cy="493.7" r="6.2" fill="#00f783"/>
<circle cx="381.9" cy="485.1" r="6.2" fill="#00f783"/>
<circle cx="381.9" cy="476.4" r="6.2" fill="#00f783"/>
<circle cx="373.3" cy="467.7" r="6.2" fill="#00f783"/>
<circle cx="373.3" cy="459.1" r="6.2" fill="#00f783"/>
<circle cx="364.6" cy="450.4" r="6.2" fill="#00f783"/>
<circle cx="364.6" cy="441.8" r="6.2" fill="#00f783"/>
<circle cx="364.6" cy="433.1" r="6.2" fill="#00f783"/>
<circle cx="364.6" cy="424.4" r="6.2" fill="#00f783"/>
<circle cx="356" cy="415.8" r="6.2" fill="#00f783"/>
<circle cx="356" cy="407.1" r="6.2" fill="#00f783"/>
<circle cx="356" cy="398.5" r="6.2" fill="#00f783"/>
<circle cx="356" cy="389.8" r="6.2" fill="#00f783"/>
<circle cx="356" cy="381.1" r="6.2" fill="#00f783"/>
<circle cx="364.6" cy="372.5" r="6.2" fill="#00f783"/>
<circle cx="364.6" cy="363.8" r="6.2" fill="#00f783"/>
<circle cx="364.6" cy="355.2" r="6.2" fill="#00f783"/>
<circle cx="373.3" cy="346.5" r="6.2" fill="#00f783"/>
<circle cx="373.3" cy="337.8" r="6.2" fill="#00f783"/>
<circle cx="381.9" cy="329.2" r="6.2" fill="#00f783"/>
<circle cx="381.9" cy="320.5" r="6.2" fill="#00f783"/>
<circle cx="390.6" cy="311.9" r="6.2" fill="#00f783"/>
<circle cx="399.3" cy="303.2" r="6.2" fill="#00f783"/>
<circle cx="399.3" cy="294.5" r="6.2" fill="#00f783"/>
<circle cx="407.9" cy="285.9" r="6.2" fill="#00f783"/>
<circle cx="416.6" cy="285.9" r="6.2" fill="#00f783"/>
<circle cx="416.6" cy="277.2" r="6.2" fill="#00f783"/>
<circle cx="425.2" cy="277.2" r="6.2" fill="#00cc99"/>
<circle cx="433.9" cy="277.2" r="6.2" fill="#00cc99"/>
<circle cx="442.6" cy="268.6" r="6.2" fill="#00cc99"/>
<circle cx="451.2" cy="268.6" r="6.2" fill="#00cc99"/>
<circle cx="459.9" cy="268.6" r="6.2" fill="#00eb8a"/>
<circle cx="468.5" cy="268.6" r="6.2" fill="#00eb8a"/>
<circle cx="477.2" cy="268.6" r="6.2" fill="#00eb8a"/>
<circle cx="485.9" cy="259.9" r="6.2" fill="#00eb8a"/>
<circle cx="494.5" cy="259.9" r="6.2" fill="#00eb8a"/>
<circle cx="503.2" cy="259.9" r="6.2" fill="#00eb8a"/>
<circle cx="511.8" cy="268.6" r="6.2" fill="#00db91"/>
<circle cx="520.5" cy="268.6" r="6.2" fill="#00db91"/>
<circle cx="529.2" cy="277.2" r="6.2" fill="#00db91"/>
<circle cx="537.8" cy="277.2" r="6.2" fill="#00db91"/>
<circle cx="546.5" cy="285.9" r="6.2" fill="#00db91"/>
<circle cx="555.1" cy="294.5" r="6.2" fill="#00db91"/>
<circle cx="555.1" cy="303.2" r="6.2" fill="#00c29e"/>
<circle cx="563.8" cy="311.9" r="6.2" fill="#00c29e"/>
<circle cx="572.5" cy="320.5" r="6.2" fill="#00c29e"/>
<circle cx="572.5" cy="329.2" r="6.2" fill="#00c29e"/>
<circle cx="581.1" cy="337.8" r="6.2" fill="#00c29e"/>
<circle cx="581.1" cy="346.5" r="6.2" fill="#00c29e"/>
<circle cx="581.1" cy="355.2" r="6.2" fill="#00a8ab"/>
<circle cx="589.8" cy="363.8" r="6.2" fill="#00a8ab"/>
<circle cx="589.8" cy="372.5" r="6.2" fill="#00a8ab"/>
<circle cx="589.8" cy="381.1" r="6.2" fill="#00a8ab"/>
<circle cx="589.8" cy="389.8" r="6.2" fill="#00a8ab"/>
<circle cx="589.8" cy="398.5" r="6.2" fill="#00a8ab"/>
<circle cx="589.8" cy="407.1" r="6.2" fill="#00bda1"/>
<circle cx="589.8" cy="415.8" r="6.2" fill="#00bda1"/>
<circle cx="589.8" cy="424.4" r="6.2" fill="#00bda1"/>
<circle cx="598.4" cy="433.1" r="6.2" fill="#00bda1"/>
<circle cx="598.4" cy="441.8" r="6.2" fill="#00d694"/>
<circle cx="598.4" cy="450.4" r="6.2" fill="#00d694"/>
<circle cx="598.4" cy="459.1" r="6.2" fill="#00d694"/>
<circle cx="598.4" cy="467.7" r="6.2" fill="#00d694"/>
<circle cx="598.4" cy="476.4" r="6.2" fill="#00d694"/>
<circle cx="598.4" cy="485.1" r="6.2" fill="#00d694"/>
<circle cx="598.4" cy="493.7" r="6.2" fill="#00d694"/>
<circle cx="598.4" cy="502.4" r="6.2" fill="#00d694"/>
<circle cx="598.4" cy="511" r="6.2" fill="#00cc99"/>
<circle cx="607.1" cy="519.7" r="6.2" fill="#00cc99"/>
<circle cx="607.1" cy="528.4" r="6.2" fill="#00cc99"/>
<circle cx="607.1" cy="537" r="6.2" fill="#00cc99"/>
<circle cx="607.1" cy="545.7" r="6.2" fill="#00cc99"/>
<circle cx="607.1" cy="554.3" r="6.2" fill="#00cc99"/>
<circle cx="607.1" cy="563" r="6.2" fill="#00cc99"/>
<circle cx="607.1" cy="571.7" r="6.2" fill="#00cc99"/>
<circle cx="607.1" cy="580.3" r="6.2" fill="#00cc99"/>
<circle cx="607.1" cy="589" r="6.2" fill="#00cc99"/>
<circle cx="607.1" cy="597.6" r="6.2" fill="#00cc99"/>
<circle cx="607.1" cy="606.3" r="6.2" fill="#00cc99"/>
<circle cx="607.1" cy="615" r="6.2" fill="#00cc99"/>
<circle cx="607.1" cy="623.6" r="6.2" fill="#00cc99"/>
<circle cx="607.1" cy="632.3" r="6.2" fill="#00cc99"/>
<circle cx="607.1" cy="640.9" r="6.2" fill="#00cc99"/>
<circle cx="607.1" cy="649.6" r="6.2" fill="#00cc99"/>
<circle cx="607.1" cy="658.3" r="6.2" fill="#00cc99"/>
<circle cx="607.1" cy="666.9" r="6.2" fill="#00cc99"/>
<circle cx="607.1" cy="675.6" r="6.2" fill="#00cc99"/>
<circle cx="607.1" cy="684.2" r="6.2" fill="#00cc99"/>
<circle cx="607.1" cy="692.9" r="6.2" fill="#00cc99"/>
<circle cx="607.1" cy="701.6" r="6.2" fill="#00cc99"/>
<circle cx="607.1" cy="710.2" r="6.2" fill="#00cc99"/>
<circle cx="607.1" cy="718.9" r="6.2" fill="#00cc99"/>
<circle cx="607.1" cy="727.5" r="6.2" fill="#00cc99"/>
<circle cx="607.1" cy="736.2" r="6.2" fill="#00cc99"/>
<circle cx="607.1" cy="744.9" r="6.2" fill="#00cc99"/>
<circle cx="598.4" cy="753.5" r="6.2" fill="#00cc99"/>
<circle cx="598.4" cy="762.2" r="6.2" fill="#00cc99"/>
<circle cx="598.4" cy="770.8" r="6.2" fill="#00cc99"/>
<circle cx="598.4" cy="779.5" r="6.2" fill="#00cc99"/>
<circle cx="598.4" cy="788.2" r="6.2" fill="#00cc99"/>
<circle cx="598.4" cy="796.8" r="6.2" fill="#00cc99"/>
<circle cx="598.4" cy="805.5" r="6.2" fill="#00cc99"/>
<circle cx="598.4" cy="814.1" r="6.2" fill="#00cc99"/>
<circle cx="598.4" cy="822.8" r="6.2" fill="#00bda1"/>
<circle cx="598.4" cy="831.5" r="6.2" fill="#00bda1"/>
<circle cx="589.8" cy="840.1" r="6.2" fill="#00bda1"/>
<circle cx="589.8" cy="848.8" r="6.2" fill="#00bda1"/>
<circle cx="589.8" cy="857.4" r="6.2" fill="#00bda1"/>
<circle cx="589.8" cy="866.1" r="6.2" fill="#00bda1"/>
<circle cx="589.8" cy="874.8" r="6.2" fill="#00b2a6"/>
<circle cx="581.1" cy="883.4" r="6.2" fill="#00b2a6"/>
<circle cx="581.1" cy="892.1" r="6.2" fill="#00b2a6"/>
<circle cx="581.1" cy="900.7" r="6.2" fill="#00b2a6"/>
<circle cx="572.5" cy="909.4" r="6.2" fill="#00b2a6"/>
<circle cx="572.5" cy="918.1" r="6.2" fill="#00b2a6"/>
<circle cx="563.8" cy="926.7" r="6.2" fill="#00b2a6"/>
<circle cx="563.8" cy="935.4" r="6.2" fill="#00b2a6"/>
<circle cx="563.8" cy="944" r="6.2" fill="#00b2a6"/>
<circle cx="563.8" cy="952.7" r="6.2" fill="#00b2a6"/>
<circle cx="563.8" cy="961.4" r="6.2" fill="#00cc99"/>
<circle cx="555.1" cy="970" r="6.2" fill="#00cc99"/>
<circle cx="555.1" cy="978.7" r="6.2" fill="#00cc99"/>
<circle cx="555.1" cy="987.3" r="6.2" fill="#00cc99"/>
<circle cx="555.1" cy="996" r="6.2" fill="#00cc99"/>
<circle cx="546.5" cy="1004.7" r="6.2" fill="#00cc99"/>
<circle cx="546.5" cy="1013.3" r="6.2" fill="#00cc99"/>
<circle cx="546.5" cy="1022" r="6.2" fill="#00cc99"/>
<circle cx="546.5" cy="1030.6" r="6.2" fill="#00b8a3"/>
<circle cx="537.8" cy="1039.3" r="6.2" fill="#00b8a3"/>
<circle cx="537.8" cy="1048" r="6.2" fill="#00b8a3"/>
<circle cx="529.2" cy="1056.6" r="6.2" fill="#00b8a3"/>
<circle cx="529.2" cy="1065.3" r="6.2" fill="#00b8a3"/>
<circle cx="529.2" cy="1073.9" r="6.2" fill="#00b8a3"/>
<circle cx="529.2" cy="1082.6" r="6.2" fill="#00b8a3"/>
<circle cx="520.5" cy="1091.3" r="6.2" fill="#00b8a3"/>
<circle cx="520.5" cy="1099.9" r="6.2" fill="#00b8a3"/>
<circle cx="520.5" cy="1108.6" r="6.2" fill="#00b8a3"/>
<circle cx="520.5" cy="1117.2" r="6.2" fill="#00b8a3"/>
<circle cx="520.5" cy="1125.9" r="6.2" fill="#00b8a3"/>
<circle cx="511.8" cy="1134.6" r="6.2" fill="#00b8a3"/>
<circle cx="511.8" cy="1143.2" r="6.2" fill="#00b8a3"/>
<circle cx="511.8" cy="1151.9" r="6.2" fill="#00b8a3"/>
</g>
<g font-size="27.6" fill="#1f1f1f">
<text x="442.4" y="583.2">1</text>
<text x="415.9" y="548.5">5</text>
<text x="391.4" y="504.8">10</text>
<text x="373" y="461.5">15</text>
<text x="364.8" y="417">20</text>
<text x="372.2" y="374.2">25</text>
<text x="399.5" y="330.9">30</text>
<text x="426.1" y="296.7">35</text>
<text x="468.9" y="288.5">40</text>
<text x="512.6" y="279.9">45</text>
<text x="555.9" y="305.7">50</text>
<text x="582" y="348.5">55</text>
<text x="599.5" y="392.1">60</text>
<text x="599.5" y="435.4">65</text>
<text x="608.5" y="478.3">70</text>
<text x="608.5" y="521.9">75</text>
<text x="617.1" y="565.6">80</text>
<text x="617.1" y="608.9">85</text>
<text x="617.1" y="652.1">90</text>
<text x="617.1" y="695.4">95</text>
<text x="617.1" y="738.7">100</text>
<text x="608.5" y="781.9">105</text>
<text x="608.5" y="825.2">110</text>
<text x="599.5" y="868.5">115</text>
<text x="590.5" y="912.1">120</text>
<text x="573" y="955.4">125</text>
<text x="564.8" y="999.5">130</text>
<text x="555.5" y="1042.4">135</text>
<text x="538.3" y="1086">140</text>
<text x="529.3" y="1129.3">145</text>
<text x="521.2" y="1173">150</text>
</g>
<clipPath id="ac2"><path d="M583.9 2375.4C584.9 2373.4 587.8 2368.3 589.8 2363.5C591.8 2358.7 593.5 2352.2 595.8 2346.5C598 2340.8 600.4 2335.2 603.4 2329.5C606.4 2323.8 610.5 2318.2 613.6 2312.5C616.7 2306.8 619.3 2301.2 622.1 2295.5C624.9 2289.8 627.8 2284.7 630.6 2278.5C633.4 2272.3 636.3 2265.2 639.1 2258.1C641.9 2251 644.8 2243.1 647.6 2236C650.4 2228.9 653.6 2222.4 656.1 2215.6C658.7 2208.8 660.4 2202.6 662.9 2195.2C665.5 2187.8 668.9 2178.8 671.4 2171.4C674 2164 676.2 2157.8 678.2 2151C680.2 2144.2 681.7 2135.1 683.3 2130.6C684.9 2126.1 686.1 2128.9 687.6 2123.7C689.2 2118.5 691.3 2107.6 692.5 2099.5C693.7 2091.4 694.3 2085.4 694.9 2075.3C695.5 2065.2 696.1 2051.1 696.1 2039C696.1 2026.9 695.5 2014 694.9 2002.7C694.3 1991.4 693.7 1980.5 692.5 1971.2C691.3 1961.9 689.2 1955 687.6 1947C686 1938.9 684.4 1930.8 682.8 1922.8C681.2 1914.7 679.6 1906.6 677.9 1898.5C676.3 1890.5 674.7 1882.4 673.1 1874.3C671.5 1866.3 670.3 1859 668.3 1850.1C666.2 1841.2 663.4 1829.9 661 1821.1C658.6 1812.2 656.2 1804.9 653.7 1796.9C651.3 1788.8 648.5 1780.7 646.5 1772.6C644.4 1764.6 642.8 1756.5 641.6 1748.4C640.4 1740.4 639.6 1730 639.2 1724.2C638.8 1718.4 639.2 1721.5 639.2 1713.7C639.2 1705.9 639.6 1687.5 639.2 1677.4C638.8 1667.3 638.4 1661.3 636.8 1653.2C635.2 1645.1 631.5 1637.1 629.5 1629C627.5 1620.9 627.1 1612.8 624.7 1604.8C622.3 1596.7 619 1588.6 615 1580.6C611 1572.5 606.1 1564 600.5 1556.3C594.8 1548.7 588.4 1541.4 581.1 1534.6C573.8 1527.7 564.9 1520.8 556.9 1515.2C548.8 1509.5 540.7 1505.1 532.7 1500.7C524.6 1496.2 516.5 1491.8 508.5 1488.5C500.4 1485.3 491.9 1482.7 484.2 1481.3C476.6 1479.9 469.3 1480.3 462.4 1480.1C455.6 1479.9 449.5 1480.5 443.1 1480.1C436.6 1479.7 428.5 1479.5 423.7 1477.7C418.9 1475.8 416.2 1473 414 1469.2C411.8 1465.3 411.4 1461.9 410.4 1454.6C409.4 1447.4 409.2 1435.3 408 1425.6C406.8 1415.9 404.9 1406.2 403.1 1396.5C401.3 1386.9 399.3 1376 397.1 1367.5C394.9 1359 392.4 1351.9 389.8 1345.7C387.2 1339.4 383.3 1334.8 381.3 1330C379.3 1325.1 380.3 1320.1 377.7 1316.6C375.1 1313.1 370.4 1308.9 365.6 1308.9C360.8 1308.9 352.7 1313.3 348.6 1316.6C344.6 1319.9 342 1325.5 341.4 1328.7C340.8 1332 342.6 1333.2 345 1336C347.4 1338.8 352.7 1341.3 355.9 1345.7C359.1 1350.1 361.6 1355 364.4 1362.6C367.2 1370.3 370.2 1381.2 372.9 1391.7C375.5 1402.2 378.3 1415.1 380.1 1425.6C381.9 1436.1 382.9 1445.8 383.8 1454.6C384.6 1463.5 385.6 1472.4 385 1478.9C384.4 1485.3 383.3 1489 380.1 1493.4C376.9 1497.8 371.2 1501.7 365.6 1505.5C359.9 1509.3 351.3 1514.4 346.2 1516.4C341.2 1518.4 337.3 1521 335.3 1517.6C333.3 1514.2 335.1 1503.1 334.1 1495.8C333.1 1488.5 331.5 1480.9 329.3 1474C327.1 1467.2 324 1461.1 320.8 1454.6C317.6 1448.2 314.1 1440.9 309.9 1435.3C305.7 1429.6 300 1424.2 295.4 1420.8C290.7 1417.3 286.1 1415.7 282.1 1414.7C278 1413.7 274.2 1413.7 271.2 1414.7C268.1 1415.7 265.1 1417.7 263.9 1420.8C262.7 1423.8 262.7 1428.4 263.9 1432.9C265.1 1437.3 268.1 1442.1 271.2 1447.4C274.2 1452.6 279.2 1458.3 282.1 1464.3C284.9 1470.4 286.9 1477.2 288.1 1483.7C289.3 1490.2 288.9 1495 289.3 1503.1C289.7 1511.1 290.9 1523.3 290.5 1532.1C290.1 1541 288.7 1548.3 286.9 1556.3C285.1 1564.4 282.1 1570.5 279.6 1580.6C277.2 1590.6 275 1604.8 272.4 1616.9C269.7 1629 265.9 1639.1 263.9 1653.2C261.9 1667.3 261.1 1693.8 260.3 1701.6C259.5 1709.4 259.1 1694.2 259.1 1700C259.1 1705.8 259.1 1725 260.3 1736.3C261.5 1747.6 263.3 1756.9 266.3 1767.8C269.3 1778.7 274.8 1792 278.4 1801.7C282.1 1811.4 283.3 1817 288.1 1825.9C293 1834.8 301 1844.9 307.5 1855C313.9 1865.1 321.2 1876.8 326.9 1886.4C332.5 1896.1 336.5 1905.8 341.4 1913.1C346.2 1920.3 351.1 1925.8 355.9 1930C360.8 1934.3 363.2 1937.1 370.4 1938.5C377.7 1939.9 388.2 1939.1 399.5 1938.5C410.8 1937.9 428.5 1935.1 438.2 1934.9C447.9 1934.7 451.1 1937.1 457.6 1937.3C464.1 1937.5 470.5 1936.5 477 1936.1C483.4 1935.7 491.5 1936.7 496.3 1934.9C501.2 1933.1 504 1930 506 1925.2C508 1920.3 508.9 1911.9 508.5 1905.8C508 1899.8 506.4 1894.1 503.6 1888.9C500.8 1883.6 495.1 1879.2 491.5 1874.3C487.9 1869.5 484.2 1865.1 481.8 1859.8C479.4 1854.6 480.2 1848.1 477 1842.9C473.7 1837.6 468.1 1833.6 462.4 1828.3C456.8 1823.1 449.5 1816.6 443.1 1811.4C436.6 1806.1 430.2 1802.1 423.7 1796.9C417.2 1791.6 410.8 1785.6 404.3 1779.9C397.9 1774.3 390.6 1769 385 1763C379.3 1756.9 374.1 1750 370.4 1743.6C366.8 1737.1 364.8 1731.5 363.2 1724.2C361.6 1716.9 361 1707.8 360.8 1700C360.5 1692.2 361.4 1685.2 362 1677.4C362.6 1669.6 362.2 1660.5 364.4 1653.2C366.6 1645.9 370.2 1640.7 375.3 1633.8C380.3 1627 388.2 1618.5 394.6 1612C401.1 1605.6 408 1599.7 414 1595.1C420.1 1590.4 425.3 1586.6 431 1584.2C436.6 1581.8 442.7 1580.6 447.9 1580.6C453.2 1580.6 458 1581.8 462.4 1584.2C466.9 1586.6 470.9 1590.8 474.6 1595.1C478.2 1599.3 480.6 1604.8 484.2 1609.6C487.9 1614.5 491.9 1619.7 496.3 1624.1C500.8 1628.6 506 1631.8 510.9 1636.2C515.7 1640.7 521.4 1645.1 525.4 1650.8C529.4 1656.4 532.5 1663.7 535.1 1670.1C537.7 1676.6 539.1 1682.3 541.1 1689.5C543.2 1696.8 545 1705.7 547.2 1713.7C549.4 1721.8 554.1 1736.2 554.5 1737.9C554.9 1739.7 549.6 1722.5 549.6 1724.2C549.6 1726 552.8 1740.4 554.5 1748.4C556.1 1756.5 556.9 1763.8 559.3 1772.6C561.7 1781.5 566.2 1792.8 569 1801.7C571.8 1810.6 574.2 1817.8 576.2 1825.9C578.3 1834 579.1 1842.1 581.1 1850.1C583.1 1858.2 585.9 1866.3 588.4 1874.3C590.8 1882.4 593.6 1890.5 595.6 1898.5C597.6 1906.6 599 1914.7 600.5 1922.8C601.9 1930.8 602.5 1938.9 604.1 1947C605.7 1955 608.3 1961.9 610.1 1971.2C612 1980.5 613.8 1991.4 615 2002.7C616.2 2014 617.2 2026.9 617.4 2039C617.6 2051.1 617.4 2063.2 616.2 2075.3C615 2087.4 612.4 2101.5 610.1 2111.6C607.9 2121.7 604.6 2130.7 602.9 2135.8C601.2 2141 601.6 2137.1 600 2142.5C598.4 2147.9 596 2160.4 593.2 2168C590.4 2175.7 586.7 2181.3 583 2188.4C579.3 2195.5 575.1 2202.6 571.1 2210.5C567.1 2218.4 562.9 2227.5 559.2 2236C555.5 2244.5 552.7 2253 549 2261.5C545.3 2270 541.4 2278.5 537.1 2287C532.9 2295.5 527.8 2304.6 523.5 2312.5C519.3 2320.4 515.3 2327.5 511.6 2334.6C507.9 2341.7 504.1 2349.3 501.4 2355C498.7 2360.7 496.6 2365.2 495.5 2368.6C494.3 2372 494.7 2374.3 494.6 2375.4Z"/></clipPath>
<g clip-path="url(#ac2)">
<path d="M583.9 2375.4C584.9 2373.4 587.8 2368.3 589.8 2363.5C591.8 2358.7 593.5 2352.2 595.8 2346.5C598 2340.8 600.4 2335.2 603.4 2329.5C606.4 2323.8 610.5 2318.2 613.6 2312.5C616.7 2306.8 619.3 2301.2 622.1 2295.5C624.9 2289.8 627.8 2284.7 630.6 2278.5C633.4 2272.3 636.3 2265.2 639.1 2258.1C641.9 2251 644.8 2243.1 647.6 2236C650.4 2228.9 653.6 2222.4 656.1 2215.6C658.7 2208.8 660.4 2202.6 662.9 2195.2C665.5 2187.8 668.9 2178.8 671.4 2171.4C674 2164 676.2 2157.8 678.2 2151C680.2 2144.2 681.7 2135.1 683.3 2130.6C684.9 2126.1 686.1 2128.9 687.6 2123.7C689.2 2118.5 691.3 2107.6 692.5 2099.5C693.7 2091.4 694.3 2085.4 694.9 2075.3C695.5 2065.2 696.1 2051.1 696.1 2039C696.1 2026.9 695.5 2014 694.9 2002.7C694.3 1991.4 693.7 1980.5 692.5 1971.2C691.3 1961.9 689.2 1955 687.6 1947C686 1938.9 684.4 1930.8 682.8 1922.8C681.2 1914.7 679.6 1906.6 677.9 1898.5C676.3 1890.5 674.7 1882.4 673.1 1874.3C671.5 1866.3 670.3 1859 668.3 1850.1C666.2 1841.2 663.4 1829.9 661 1821.1C658.6 1812.2 656.2 1804.9 653.7 1796.9C651.3 1788.8 648.5 1780.7 646.5 1772.6C644.4 1764.6 642.8 1756.5 641.6 1748.4C640.4 1740.4 639.6 1730 639.2 1724.2C638.8 1718.4 639.2 1721.5 639.2 1713.7C639.2 1705.9 639.6 1687.5 639.2 1677.4C638.8 1667.3 638.4 1661.3 636.8 1653.2C635.2 1645.1 631.5 1637.1 629.5 1629C627.5 1620.9 627.1 1612.8 624.7 1604.8C622.3 1596.7 619 1588.6 615 1580.6C611 1572.5 606.1 1564 600.5 1556.3C594.8 1548.7 588.4 1541.4 581.1 1534.6C573.8 1527.7 564.9 1520.8 556.9 1515.2C548.8 1509.5 540.7 1505.1 532.7 1500.7C524.6 1496.2 516.5 1491.8 508.5 1488.5C500.4 1485.3 491.9 1482.7 484.2 1481.3C476.6 1479.9 469.3 1480.3 462.4 1480.1C455.6 1479.9 449.5 1480.5 443.1 1480.1C436.6 1479.7 428.5 1479.5 423.7 1477.7C418.9 1475.8 416.2 1473 414 1469.2C411.8 1465.3 411.4 1461.9 410.4 1454.6C409.4 1447.4 409.2 1435.3 408 1425.6C406.8 1415.9 404.9 1406.2 403.1 1396.5C401.3 1386.9 399.3 1376 397.1 1367.5C394.9 1359 392.4 1351.9 389.8 1345.7C387.2 1339.4 383.3 1334.8 381.3 1330C379.3 1325.1 380.3 1320.1 377.7 1316.6C375.1 1313.1 370.4 1308.9 365.6 1308.9C360.8 1308.9 352.7 1313.3 348.6 1316.6C344.6 1319.9 342 1325.5 341.4 1328.7C340.8 1332 342.6 1333.2 345 1336C347.4 1338.8 352.7 1341.3 355.9 1345.7C359.1 1350.1 361.6 1355 364.4 1362.6C367.2 1370.3 370.2 1381.2 372.9 1391.7C375.5 1402.2 378.3 1415.1 380.1 1425.6C381.9 1436.1 382.9 1445.8 383.8 1454.6C384.6 1463.5 385.6 1472.4 385 1478.9C384.4 1485.3 383.3 1489 380.1 1493.4C376.9 1497.8 371.2 1501.7 365.6 1505.5C359.9 1509.3 351.3 1514.4 346.2 1516.4C341.2 1518.4 337.3 1521 335.3 1517.6C333.3 1514.2 335.1 1503.1 334.1 1495.8C333.1 1488.5 331.5 1480.9 329.3 1474C327.1 1467.2 324 1461.1 320.8 1454.6C317.6 1448.2 314.1 1440.9 309.9 1435.3C305.7 1429.6 300 1424.2 295.4 1420.8C290.7 1417.3 286.1 1415.7 282.1 1414.7C278 1413.7 274.2 1413.7 271.2 1414.7C268.1 1415.7 265.1 1417.7 263.9 1420.8C262.7 1423.8 262.7 1428.4 263.9 1432.9C265.1 1437.3 268.1 1442.1 271.2 1447.4C274.2 1452.6 279.2 1458.3 282.1 1464.3C284.9 1470.4 286.9 1477.2 288.1 1483.7C289.3 1490.2 288.9 1495 289.3 1503.1C289.7 1511.1 290.9 1523.3 290.5 1532.1C290.1 1541 288.7 1548.3 286.9 1556.3C285.1 1564.4 282.1 1570.5 279.6 1580.6C277.2 1590.6 275 1604.8 272.4 1616.9C269.7 1629 265.9 1639.1 263.9 1653.2C261.9 1667.3 261.1 1693.8 260.3 1701.6C259.5 1709.4 259.1 1694.2 259.1 1700C259.1 1705.8 259.1 1725 260.3 1736.3C261.5 1747.6 263.3 1756.9 266.3 1767.8C269.3 1778.7 274.8 1792 278.4 1801.7C282.1 1811.4 283.3 1817 288.1 1825.9C293 1834.8 301 1844.9 307.5 1855C313.9 1865.1 321.2 1876.8 326.9 1886.4C332.5 1896.1 336.5 1905.8 341.4 1913.1C346.2 1920.3 351.1 1925.8 355.9 1930C360.8 1934.3 363.2 1937.1 370.4 1938.5C377.7 1939.9 388.2 1939.1 399.5 1938.5C410.8 1937.9 428.5 1935.1 438.2 1934.9C447.9 1934.7 451.1 1937.1 457.6 1937.3C464.1 1937.5 470.5 1936.5 477 1936.1C483.4 1935.7 491.5 1936.7 496.3 1934.9C501.2 1933.1 504 1930 506 1925.2C508 1920.3 508.9 1911.9 508.5 1905.8C508 1899.8 506.4 1894.1 503.6 1888.9C500.8 1883.6 495.1 1879.2 491.5 1874.3C487.9 1869.5 484.2 1865.1 481.8 1859.8C479.4 1854.6 480.2 1848.1 477 1842.9C473.7 1837.6 468.1 1833.6 462.4 1828.3C456.8 1823.1 449.5 1816.6 443.1 1811.4C436.6 1806.1 430.2 1802.1 423.7 1796.9C417.2 1791.6 410.8 1785.6 404.3 1779.9C397.9 1774.3 390.6 1769 385 1763C379.3 1756.9 374.1 1750 370.4 1743.6C366.8 1737.1 364.8 1731.5 363.2 1724.2C361.6 1716.9 361 1707.8 360.8 1700C360.5 1692.2 361.4 1685.2 362 1677.4C362.6 1669.6 362.2 1660.5 364.4 1653.2C366.6 1645.9 370.2 1640.7 375.3 1633.8C380.3 1627 388.2 1618.5 394.6 1612C401.1 1605.6 408 1599.7 414 1595.1C420.1 1590.4 425.3 1586.6 431 1584.2C436.6 1581.8 442.7 1580.6 447.9 1580.6C453.2 1580.6 458 1581.8 462.4 1584.2C466.9 1586.6 470.9 1590.8 474.6 1595.1C478.2 1599.3 480.6 1604.8 484.2 1609.6C487.9 1614.5 491.9 1619.7 496.3 1624.1C500.8 1628.6 506 1631.8 510.9 1636.2C515.7 1640.7 521.4 1645.1 525.4 1650.8C529.4 1656.4 532.5 1663.7 535.1 1670.1C537.7 1676.6 539.1 1682.3 541.1 1689.5C543.2 1696.8 545 1705.7 547.2 1713.7C549.4 1721.8 554.1 1736.2 554.5 1737.9C554.9 1739.7 549.6 1722.5 549.6 1724.2C549.6 1726 552.8 1740.4 554.5 1748.4C556.1 1756.5 556.9 1763.8 559.3 1772.6C561.7 1781.5 566.2 1792.8 569 1801.7C571.8 1810.6 574.2 1817.8 576.2 1825.9C578.3 1834 579.1 1842.1 581.1 1850.1C583.1 1858.2 585.9 1866.3 588.4 1874.3C590.8 1882.4 593.6 1890.5 595.6 1898.5C597.6 1906.6 599 1914.7 600.5 1922.8C601.9 1930.8 602.5 1938.9 604.1 1947C605.7 1955 608.3 1961.9 610.1 1971.2C612 1980.5 613.8 1991.4 615 2002.7C616.2 2014 617.2 2026.9 617.4 2039C617.6 2051.1 617.4 2063.2 616.2 2075.3C615 2087.4 612.4 2101.5 610.1 2111.6C607.9 2121.7 604.6 2130.7 602.9 2135.8C601.2 2141 601.6 2137.1 600 2142.5C598.4 2147.9 596 2160.4 593.2 2168C590.4 2175.7 586.7 2181.3 583 2188.4C579.3 2195.5 575.1 2202.6 571.1 2210.5C567.1 2218.4 562.9 2227.5 559.2 2236C555.5 2244.5 552.7 2253 549 2261.5C545.3 2270 541.4 2278.5 537.1 2287C532.9 2295.5 527.8 2304.6 523.5 2312.5C519.3 2320.4 515.3 2327.5 511.6 2334.6C507.9 2341.7 504.1 2349.3 501.4 2355C498.7 2360.7 496.6 2365.2 495.5 2368.6C494.3 2372 494.7 2374.3 494.6 2375.4Z" fill="#9f9f9f"/>
<g filter="url(#blur6)" fill="none" stroke-linecap="round" stroke-linejoin="round">
<path d="M578.7 1700C579.9 1708.1 581.9 1730.3 585.9 1748.4C590 1766.6 597.6 1788.8 602.9 1809C608.1 1829.1 613 1849.3 617.4 1869.5C621.8 1889.7 625.9 1909.8 629.5 1930C633.1 1950.2 637.2 1970.4 639.2 1990.6C641.2 2010.7 642 2030.9 641.6 2051.1C641.2 2071.3 637.2 2101.8 636.8 2111.6C636.4 2121.5 641 2102.2 639.1 2110.2C637.2 2118.2 631.5 2142.8 625.5 2159.5C619.6 2176.2 611.1 2193.5 603.4 2210.5C595.8 2227.5 587.5 2244.5 579.6 2261.5C571.7 2278.5 562.6 2297.5 555.8 2312.5C549 2327.5 542.8 2341.4 538.8 2351.6C534.8 2361.8 533.1 2370 532 2373.7" stroke="#ababab" stroke-width="20"/>
<path d="M290.5 1750C290.5 1742 289.3 1717.8 290.5 1701.6C291.7 1685.5 294.2 1668.1 297.8 1653.2C301.4 1638.3 305.5 1624.9 312.3 1612C319.2 1599.1 328.5 1586.6 339 1575.7C349.5 1564.8 362 1555.5 375.3 1546.7C388.6 1537.8 404.7 1528.1 418.9 1522.4C433 1516.8 446.3 1513.2 460 1512.8C473.7 1512.4 487.9 1515.6 501.2 1520C514.5 1524.5 528.6 1531.3 539.9 1539.4C551.2 1547.5 560.9 1557.6 569 1568.5C577.1 1579.3 582.7 1592.7 588.4 1604.8C594 1616.9 598.8 1629 602.9 1641.1C606.9 1653.2 610.1 1665.3 612.6 1677.4C615 1689.5 616.2 1701.6 617.4 1713.7C618.6 1725.8 619.4 1744 619.8 1750" stroke="#ababab" stroke-width="55"/>
<path d="M290.5 1700C291.7 1706.1 293.4 1722.2 297.8 1736.3C302.2 1750.4 309.1 1769.8 317.2 1784.7C325.2 1799.7 334.9 1812.6 346.2 1825.9C357.5 1839.2 372.1 1853.3 385 1864.6C397.9 1875.9 413.2 1885.6 423.7 1893.7C434.2 1901.8 443.9 1909.8 447.9 1913.1" stroke="#ababab" stroke-width="75"/>
<path d="M368 1338.4C370 1343.3 376.7 1357.4 380.1 1367.5C383.6 1377.6 386.4 1387.7 388.6 1399C390.8 1410.3 392 1424 393.4 1435.3C394.9 1446.6 396.5 1461.5 397.1 1466.8" stroke="#ababab" stroke-width="15"/>
<path d="M283.3 1430.4C285.7 1433.7 293.4 1441.7 297.8 1449.8C302.2 1457.9 307.5 1469.2 309.9 1478.9C312.3 1488.5 312.3 1498.2 312.3 1507.9C312.3 1517.6 310.3 1532.1 309.9 1537" stroke="#ababab" stroke-width="32.5"/>
</g>
<g filter="url(#blur3)" fill="none" stroke-linecap="round" stroke-linejoin="round">
<path d="M368 1338.4C370 1343.3 376.7 1357.4 380.1 1367.5C383.6 1377.6 386.4 1387.7 388.6 1399C390.8 1410.3 392 1424 393.4 1435.3C394.9 1446.6 396.5 1461.5 397.1 1466.8" stroke="#c6c6c6" stroke-width="5.4"/>
<path d="M283.3 1430.4C285.7 1433.7 293.4 1441.7 297.8 1449.8C302.2 1457.9 307.5 1469.2 309.9 1478.9C312.3 1488.5 312.3 1498.2 312.3 1507.9C312.3 1517.6 310.3 1532.1 309.9 1537" stroke="#c6c6c6" stroke-width="11.7"/>
<path d="M388.5 1839C385.3 1837.4 374.2 1834.2 369.5 1829.5C364.8 1824.8 364.8 1816.8 360 1810.5C355.2 1804.2 345.8 1797.8 341 1791.5C336.2 1785.2 334.7 1778.8 331.5 1772.5C328.3 1766.2 325.2 1759.8 322 1753.5C318.8 1747.2 314.1 1740.8 312.5 1734.5C310.9 1728.2 312.5 1721.8 312.5 1715.5C312.5 1709.2 312.5 1702.8 312.5 1696.5C312.5 1690.2 312.5 1683.8 312.5 1677.5C312.5 1671.2 312.5 1664.8 312.5 1658.5C312.5 1652.2 309.3 1645.8 312.5 1639.5C315.7 1633.2 326.8 1628.4 331.5 1620.5C336.2 1612.6 336.2 1599.9 341 1592C345.8 1584.1 353.7 1577.8 360 1573C366.3 1568.2 372.7 1568.2 379 1563.5C385.3 1558.8 391.7 1547.7 398 1544.5C404.3 1541.3 410.7 1546.1 417 1544.5C423.3 1542.9 429.7 1536.6 436 1535C442.3 1533.4 448.7 1535 455 1535C461.3 1535 467.7 1535 474 1535C480.3 1535 486.7 1531.8 493 1535C499.3 1538.2 505.7 1549.2 512 1554C518.3 1558.8 526.2 1560.3 531 1563.5C535.8 1566.7 535.8 1568.2 540.5 1573C545.2 1577.8 554.8 1585.7 559.5 1592C564.2 1598.3 565.8 1604.7 569 1611C572.2 1617.3 576.9 1623.7 578.5 1630C580.1 1636.3 576.9 1642.7 578.5 1649C580.1 1655.3 586.4 1661.7 588 1668C589.6 1674.3 588 1680.7 588 1687C588 1693.3 588 1699.7 588 1706C588 1712.3 588 1718.7 588 1725C588 1731.3 586.4 1737.7 588 1744C589.6 1750.3 594.3 1756.7 597.5 1763C600.7 1769.3 603.8 1775.7 607 1782C610.2 1788.3 614.9 1794.7 616.5 1801C618.1 1807.3 616.5 1813.7 616.5 1820C616.5 1826.3 614.9 1832.7 616.5 1839C618.1 1845.3 624.4 1851.7 626 1858C627.6 1864.3 624.4 1870.7 626 1877C627.6 1883.3 633.9 1889.7 635.5 1896C637.1 1902.3 635.5 1908.7 635.5 1915C635.5 1921.3 633.9 1927.7 635.5 1934C637.1 1940.3 643.4 1946.7 645 1953C646.6 1959.3 643.4 1965.7 645 1972C646.6 1978.3 652.9 1984.7 654.5 1991C656.1 1997.3 654.5 2003.7 654.5 2010C654.5 2016.3 654.5 2022.7 654.5 2029C654.5 2035.3 654.5 2041.7 654.5 2048C654.5 2054.3 654.5 2060.7 654.5 2067C654.5 2073.3 656.1 2079.7 654.5 2086C652.9 2092.3 646.6 2098.7 645 2105C643.4 2111.3 646.6 2117.7 645 2124C643.4 2130.3 637.1 2136.7 635.5 2143C633.9 2149.3 635.5 2155.7 635.5 2162C635.5 2168.3 637.1 2174.7 635.5 2181C633.9 2187.3 629.2 2193.7 626 2200C622.8 2206.3 619.7 2212.7 616.5 2219C613.3 2225.3 610.2 2231.7 607 2238C603.8 2244.3 600.7 2250.7 597.5 2257C594.3 2263.3 591.2 2269.7 588 2276C584.8 2282.3 581.7 2288.7 578.5 2295C575.3 2301.3 572.2 2307.7 569 2314C565.8 2320.3 562.7 2326.7 559.5 2333C556.3 2339.3 551.6 2348.8 550 2352" stroke="#c9c9c9" stroke-width="17"/>
<path d="M567.5 1639.5C569.1 1644.2 575.4 1658.5 577 1668C578.6 1677.5 577 1687 577 1696.5C577 1706 575.4 1715.5 577 1725C578.6 1734.5 583.3 1744 586.5 1753.5C589.7 1763 592.8 1772.5 596 1782C599.2 1791.5 603.9 1801 605.5 1810.5C607.1 1820 603.9 1829.5 605.5 1839C607.1 1848.5 611.8 1858 615 1867.5C618.2 1877 622.9 1886.5 624.5 1896C626.1 1905.5 622.9 1915 624.5 1924.5C626.1 1934 630.8 1943.5 634 1953C637.2 1962.5 641.9 1972 643.5 1981.5C645.1 1991 643.5 2000.5 643.5 2010C643.5 2019.5 643.5 2029 643.5 2038.5C643.5 2048 643.5 2057.5 643.5 2067C643.5 2076.5 645.1 2086 643.5 2095.5C641.9 2105 637.2 2114.5 634 2124C630.8 2133.5 626.1 2143 624.5 2152.5C622.9 2162 626.1 2171.5 624.5 2181C622.9 2190.5 619.8 2200 615 2209.5C610.2 2219 602.3 2228.5 596 2238C589.7 2247.5 581.8 2257 577 2266.5C572.2 2276 570.7 2285.5 567.5 2295C564.3 2304.5 562.8 2314 558 2323.5C553.2 2333 542.2 2347.2 539 2352" stroke="#dadada" stroke-width="7"/>
</g>
<path d="M583.9 2375.4C584.9 2373.4 587.8 2368.3 589.8 2363.5C591.8 2358.7 593.5 2352.2 595.8 2346.5C598 2340.8 600.4 2335.2 603.4 2329.5C606.4 2323.8 610.5 2318.2 613.6 2312.5C616.7 2306.8 619.3 2301.2 622.1 2295.5C624.9 2289.8 627.8 2284.7 630.6 2278.5C633.4 2272.3 636.3 2265.2 639.1 2258.1C641.9 2251 644.8 2243.1 647.6 2236C650.4 2228.9 653.6 2222.4 656.1 2215.6C658.7 2208.8 660.4 2202.6 662.9 2195.2C665.5 2187.8 668.9 2178.8 671.4 2171.4C674 2164 676.2 2157.8 678.2 2151C680.2 2144.2 681.7 2135.1 683.3 2130.6C684.9 2126.1 686.1 2128.9 687.6 2123.7C689.2 2118.5 691.3 2107.6 692.5 2099.5C693.7 2091.4 694.3 2085.4 694.9 2075.3C695.5 2065.2 696.1 2051.1 696.1 2039C696.1 2026.9 695.5 2014 694.9 2002.7C694.3 1991.4 693.7 1980.5 692.5 1971.2C691.3 1961.9 689.2 1955 687.6 1947C686 1938.9 684.4 1930.8 682.8 1922.8C681.2 1914.7 679.6 1906.6 677.9 1898.5C676.3 1890.5 674.7 1882.4 673.1 1874.3C671.5 1866.3 670.3 1859 668.3 1850.1C666.2 1841.2 663.4 1829.9 661 1821.1C658.6 1812.2 656.2 1804.9 653.7 1796.9C651.3 1788.8 648.5 1780.7 646.5 1772.6C644.4 1764.6 642.8 1756.5 641.6 1748.4C640.4 1740.4 639.6 1730 639.2 1724.2C638.8 1718.4 639.2 1721.5 639.2 1713.7C639.2 1705.9 639.6 1687.5 639.2 1677.4C638.8 1667.3 638.4 1661.3 636.8 1653.2C635.2 1645.1 631.5 1637.1 629.5 1629C627.5 1620.9 627.1 1612.8 624.7 1604.8C622.3 1596.7 619 1588.6 615 1580.6C611 1572.5 606.1 1564 600.5 1556.3C594.8 1548.7 588.4 1541.4 581.1 1534.6C573.8 1527.7 564.9 1520.8 556.9 1515.2C548.8 1509.5 540.7 1505.1 532.7 1500.7C524.6 1496.2 516.5 1491.8 508.5 1488.5C500.4 1485.3 491.9 1482.7 484.2 1481.3C476.6 1479.9 469.3 1480.3 462.4 1480.1C455.6 1479.9 449.5 1480.5 443.1 1480.1C436.6 1479.7 428.5 1479.5 423.7 1477.7C418.9 1475.8 416.2 1473 414 1469.2C411.8 1465.3 411.4 1461.9 410.4 1454.6C409.4 1447.4 409.2 1435.3 408 1425.6C406.8 1415.9 404.9 1406.2 403.1 1396.5C401.3 1386.9 399.3 1376 397.1 1367.5C394.9 1359 392.4 1351.9 389.8 1345.7C387.2 1339.4 383.3 1334.8 381.3 1330C379.3 1325.1 380.3 1320.1 377.7 1316.6C375.1 1313.1 370.4 1308.9 365.6 1308.9C360.8 1308.9 352.7 1313.3 348.6 1316.6C344.6 1319.9 342 1325.5 341.4 1328.7C340.8 1332 342.6 1333.2 345 1336C347.4 1338.8 352.7 1341.3 355.9 1345.7C359.1 1350.1 361.6 1355 364.4 1362.6C367.2 1370.3 370.2 1381.2 372.9 1391.7C375.5 1402.2 378.3 1415.1 380.1 1425.6C381.9 1436.1 382.9 1445.8 383.8 1454.6C384.6 1463.5 385.6 1472.4 385 1478.9C384.4 1485.3 383.3 1489 380.1 1493.4C376.9 1497.8 371.2 1501.7 365.6 1505.5C359.9 1509.3 351.3 1514.4 346.2 1516.4C341.2 1518.4 337.3 1521 335.3 1517.6C333.3 1514.2 335.1 1503.1 334.1 1495.8C333.1 1488.5 331.5 1480.9 329.3 1474C327.1 1467.2 324 1461.1 320.8 1454.6C317.6 1448.2 314.1 1440.9 309.9 1435.3C305.7 1429.6 300 1424.2 295.4 1420.8C290.7 1417.3 286.1 1415.7 282.1 1414.7C278 1413.7 274.2 1413.7 271.2 1414.7C268.1 1415.7 265.1 1417.7 263.9 1420.8C262.7 1423.8 262.7 1428.4 263.9 1432.9C265.1 1437.3 268.1 1442.1 271.2 1447.4C274.2 1452.6 279.2 1458.3 282.1 1464.3C284.9 1470.4 286.9 1477.2 288.1 1483.7C289.3 1490.2 288.9 1495 289.3 1503.1C289.7 1511.1 290.9 1523.3 290.5 1532.1C290.1 1541 288.7 1548.3 286.9 1556.3C285.1 1564.4 282.1 1570.5 279.6 1580.6C277.2 1590.6 275 1604.8 272.4 1616.9C269.7 1629 265.9 1639.1 263.9 1653.2C261.9 1667.3 261.1 1693.8 260.3 1701.6C259.5 1709.4 259.1 1694.2 259.1 1700C259.1 1705.8 259.1 1725 260.3 1736.3C261.5 1747.6 263.3 1756.9 266.3 1767.8C269.3 1778.7 274.8 1792 278.4 1801.7C282.1 1811.4 283.3 1817 288.1 1825.9C293 1834.8 301 1844.9 307.5 1855C313.9 1865.1 321.2 1876.8 326.9 1886.4C332.5 1896.1 336.5 1905.8 341.4 1913.1C346.2 1920.3 351.1 1925.8 355.9 1930C360.8 1934.3 363.2 1937.1 370.4 1938.5C377.7 1939.9 388.2 1939.1 399.5 1938.5C410.8 1937.9 428.5 1935.1 438.2 1934.9C447.9 1934.7 451.1 1937.1 457.6 1937.3C464.1 1937.5 470.5 1936.5 477 1936.1C483.4 1935.7 491.5 1936.7 496.3 1934.9C501.2 1933.1 504 1930 506 1925.2C508 1920.3 508.9 1911.9 508.5 1905.8C508 1899.8 506.4 1894.1 503.6 1888.9C500.8 1883.6 495.1 1879.2 491.5 1874.3C487.9 1869.5 484.2 1865.1 481.8 1859.8C479.4 1854.6 480.2 1848.1 477 1842.9C473.7 1837.6 468.1 1833.6 462.4 1828.3C456.8 1823.1 449.5 1816.6 443.1 1811.4C436.6 1806.1 430.2 1802.1 423.7 1796.9C417.2 1791.6 410.8 1785.6 404.3 1779.9C397.9 1774.3 390.6 1769 385 1763C379.3 1756.9 374.1 1750 370.4 1743.6C366.8 1737.1 364.8 1731.5 363.2 1724.2C361.6 1716.9 361 1707.8 360.8 1700C360.5 1692.2 361.4 1685.2 362 1677.4C362.6 1669.6 362.2 1660.5 364.4 1653.2C366.6 1645.9 370.2 1640.7 375.3 1633.8C380.3 1627 388.2 1618.5 394.6 1612C401.1 1605.6 408 1599.7 414 1595.1C420.1 1590.4 425.3 1586.6 431 1584.2C436.6 1581.8 442.7 1580.6 447.9 1580.6C453.2 1580.6 458 1581.8 462.4 1584.2C466.9 1586.6 470.9 1590.8 474.6 1595.1C478.2 1599.3 480.6 1604.8 484.2 1609.6C487.9 1614.5 491.9 1619.7 496.3 1624.1C500.8 1628.6 506 1631.8 510.9 1636.2C515.7 1640.7 521.4 1645.1 525.4 1650.8C529.4 1656.4 532.5 1663.7 535.1 1670.1C537.7 1676.6 539.1 1682.3 541.1 1689.5C543.2 1696.8 545 1705.7 547.2 1713.7C549.4 1721.8 554.1 1736.2 554.5 1737.9C554.9 1739.7 549.6 1722.5 549.6 1724.2C549.6 1726 552.8 1740.4 554.5 1748.4C556.1 1756.5 556.9 1763.8 559.3 1772.6C561.7 1781.5 566.2 1792.8 569 1801.7C571.8 1810.6 574.2 1817.8 576.2 1825.9C578.3 1834 579.1 1842.1 581.1 1850.1C583.1 1858.2 585.9 1866.3 588.4 1874.3C590.8 1882.4 593.6 1890.5 595.6 1898.5C597.6 1906.6 599 1914.7 600.5 1922.8C601.9 1930.8 602.5 1938.9 604.1 1947C605.7 1955 608.3 1961.9 610.1 1971.2C612 1980.5 613.8 1991.4 615 2002.7C616.2 2014 617.2 2026.9 617.4 2039C617.6 2051.1 617.4 2063.2 616.2 2075.3C615 2087.4 612.4 2101.5 610.1 2111.6C607.9 2121.7 604.6 2130.7 602.9 2135.8C601.2 2141 601.6 2137.1 600 2142.5C598.4 2147.9 596 2160.4 593.2 2168C590.4 2175.7 586.7 2181.3 583 2188.4C579.3 2195.5 575.1 2202.6 571.1 2210.5C567.1 2218.4 562.9 2227.5 559.2 2236C555.5 2244.5 552.7 2253 549 2261.5C545.3 2270 541.4 2278.5 537.1 2287C532.9 2295.5 527.8 2304.6 523.5 2312.5C519.3 2320.4 515.3 2327.5 511.6 2334.6C507.9 2341.7 504.1 2349.3 501.4 2355C498.7 2360.7 496.6 2365.2 495.5 2368.6C494.3 2372 494.7 2374.3 494.6 2375.4Z" fill="none" stroke="#898989" stroke-width="8" filter="url(#blur2)"/>
</g>
<ellipse cx="361.5" cy="1325.5" rx="16.5" ry="11" transform="rotate(-24 361.5 1325.5)" fill="#acacac" stroke="#979797" stroke-width="1.5"/>
<g fill="none" filter="url(#blur1)"><path d="M447.9 1835.6C451.3 1838.8 463.3 1846.9 468.5 1855C473.7 1863 477.5 1874.3 479.4 1884C481.3 1893.7 481.1 1904.5 479.9 1913.1C478.7 1921.6 473.4 1931.6 472.1 1935.4" stroke="#8a8a8a" stroke-width="3"/><path d="M455.2 1857.4C457.4 1861.8 466.1 1874.7 468.5 1884C470.9 1893.3 471.1 1905 469.7 1913.1C468.3 1921.1 461.6 1929.2 460 1932.4" stroke="#c9c9c9" stroke-width="7"/><path d="M423.7 1858.6C425.3 1859.3 430.2 1861.2 433.4 1862.7C436.6 1864.2 441.5 1866.7 443.1 1867.6" stroke="#909090" stroke-width="2"/></g>
<g fill-opacity="0.8">
<circle cx="436" cy="1896" r="6.2" fill="#001ff0"/>
<circle cx="426.5" cy="1886.5" r="6.2" fill="#001ff0"/>
<circle cx="417" cy="1877" r="6.2" fill="#001ff0"/>
<circle cx="417" cy="1867.5" r="6.2" fill="#000df9"/>
<circle cx="407.5" cy="1858" r="6.2" fill="#000df9"/>
<circle cx="398" cy="1858" r="6.2" fill="#0040df"/>
<circle cx="388.5" cy="1848.5" r="6.2" fill="#0040df"/>
<circle cx="388.5" cy="1839" r="6.2" fill="#0040df"/>
<circle cx="379" cy="1839" r="6.2" fill="#00b2a6"/>
<circle cx="369.5" cy="1829.5" r="6.2" fill="#00b2a6"/>
<circle cx="360" cy="1820" r="6.2" fill="#00d993"/>
<circle cx="360" cy="1810.5" r="6.2" fill="#00d993"/>
<circle cx="350.5" cy="1801" r="6.2" fill="#00d993"/>
<circle cx="341" cy="1791.5" r="6.2" fill="#00f286"/>
<circle cx="331.5" cy="1782" r="6.2" fill="#00f286"/>
<circle cx="331.5" cy="1772.5" r="6.2" fill="#00f286"/>
<circle cx="322" cy="1763" r="6.2" fill="#00f286"/>
<circle cx="322" cy="1753.5" r="6.2" fill="#00f286"/>
<circle cx="312.5" cy="1744" r="6.2" fill="#00f286"/>
<circle cx="312.5" cy="1734.5" r="6.2" fill="#00f286"/>
<circle cx="312.5" cy="1725" r="6.2" fill="#00f286"/>
<circle cx="312.5" cy="1715.5" r="6.2" fill="#00f286"/>
<circle cx="312.5" cy="1706" r="6.2" fill="#00f286"/>
<circle cx="312.5" cy="1696.5" r="6.2" fill="#00f286"/>
<circle cx="312.5" cy="1687" r="6.2" fill="#00f286"/>
<circle cx="312.5" cy="1677.5" r="6.2" fill="#00f286"/>
<circle cx="312.5" cy="1668" r="6.2" fill="#00f286"/>
<circle cx="312.5" cy="1658.5" r="6.2" fill="#00f286"/>
<circle cx="312.5" cy="1649" r="6.2" fill="#00f286"/>
<circle cx="312.5" cy="1639.5" r="6.2" fill="#00f286"/>
<circle cx="322" cy="1630" r="6.2" fill="#00e08f"/>
<circle cx="331.5" cy="1620.5" r="6.2" fill="#00e08f"/>
<circle cx="331.5" cy="1611" r="6.2" fill="#00e08f"/>
<circle cx="341" cy="1592" r="6.2" fill="#00e08f"/>
<circle cx="350.5" cy="1582.5" r="6.2" fill="#00eb8a"/>
<circle cx="360" cy="1573" r="6.2" fill="#00ada8"/>
<circle cx="369.5" cy="1573" r="6.2" fill="#00ada8"/>
<circle cx="379" cy="1563.5" r="6.2" fill="#008cb9"/>
<circle cx="388.5" cy="1554" r="6.2" fill="#008cb9"/>
<circle cx="398" cy="1544.5" r="6.2" fill="#00ada8"/>
<circle cx="407.5" cy="1544.5" r="6.2" fill="#00ada8"/>
<circle cx="417" cy="1544.5" r="6.2" fill="#00ada8"/>
<circle cx="426.5" cy="1535" r="6.2" fill="#00ada8"/>
<circle cx="436" cy="1535" r="6.2" fill="#00ada8"/>
<circle cx="445.5" cy="1525.5" r="6.2" fill="#00ada8"/>
<circle cx="455" cy="1535" r="6.2" fill="#00ada8"/>
<circle cx="464.5" cy="1535" r="6.2" fill="#00e08f"/>
<circle cx="474" cy="1535" r="6.2" fill="#00e08f"/>
<circle cx="483.5" cy="1535" r="6.2" fill="#00e08f"/>
<circle cx="493" cy="1535" r="6.2" fill="#00e08f"/>
<circle cx="502.5" cy="1544.5" r="6.2" fill="#00e08f"/>
<circle cx="512" cy="1554" r="6.2" fill="#00e08f"/>
<circle cx="521.5" cy="1554" r="6.2" fill="#00bf9f"/>
<circle cx="531" cy="1563.5" r="6.2" fill="#00bf9f"/>
<circle cx="540.5" cy="1563.5" r="6.2" fill="#00bf9f"/>
<circle cx="540.5" cy="1573" r="6.2" fill="#00bf9f"/>
<circle cx="550" cy="1582.5" r="6.2" fill="#00bf9f"/>
<circle cx="559.5" cy="1592" r="6.2" fill="#00bf9f"/>
<circle cx="559.5" cy="1601.5" r="6.2" fill="#00bf9f"/>
<circle cx="569" cy="1611" r="6.2" fill="#00bf9f"/>
<circle cx="569" cy="1620.5" r="6.2" fill="#00bf9f"/>
<circle cx="578.5" cy="1630" r="6.2" fill="#00bf9f"/>
<circle cx="578.5" cy="1639.5" r="6.2" fill="#00bf9f"/>
<circle cx="578.5" cy="1649" r="6.2" fill="#00ed88"/>
<circle cx="588" cy="1658.5" r="6.2" fill="#00ed88"/>
<circle cx="588" cy="1668" r="6.2" fill="#00ed88"/>
<circle cx="588" cy="1677.5" r="6.2" fill="#00ed88"/>
<circle cx="588" cy="1687" r="6.2" fill="#00ed88"/>
<circle cx="588" cy="1696.5" r="6.2" fill="#00ed88"/>
<circle cx="588" cy="1706" r="6.2" fill="#00ed88"/>
<circle cx="588" cy="1715.5" r="6.2" fill="#00c79c"/>
<circle cx="588" cy="1725" r="6.2" fill="#00c79c"/>
<circle cx="588" cy="1734.5" r="6.2" fill="#00c79c"/>
<circle cx="588" cy="1744" r="6.2" fill="#00c79c"/>
<circle cx="597.5" cy="1753.5" r="6.2" fill="#00c79c"/>
<circle cx="597.5" cy="1763" r="6.2" fill="#00c79c"/>
<circle cx="597.5" cy="1772.5" r="6.2" fill="#00c79c"/>
<circle cx="607" cy="1782" r="6.2" fill="#00c79c"/>
<circle cx="607" cy="1791.5" r="6.2" fill="#00c79c"/>
<circle cx="616.5" cy="1801" r="6.2" fill="#00c79c"/>
<circle cx="616.5" cy="1810.5" r="6.2" fill="#00c79c"/>
<circle cx="616.5" cy="1820" r="6.2" fill="#00c79c"/>
<circle cx="616.5" cy="1829.5" r="6.2" fill="#00c79c"/>
<circle cx="616.5" cy="1839" r="6.2" fill="#00c79c"/>
<circle cx="626" cy="1848.5" r="6.2" fill="#00c79c"/>
<circle cx="626" cy="1858" r="6.2" fill="#00c79c"/>
<circle cx="626" cy="1867.5" r="6.2" fill="#00c79c"/>
<circle cx="626" cy="1877" r="6.2" fill="#00c79c"/>
<circle cx="626" cy="1886.5" r="6.2" fill="#00c79c"/>
<circle cx="635.5" cy="1896" r="6.2" fill="#00c79c"/>
<circle cx="635.5" cy="1905.5" r="6.2" fill="#00c79c"/>
<circle cx="635.5" cy="1915" r="6.2" fill="#00c79c"/>
<circle cx="635.5" cy="1924.5" r="6.2" fill="#00c79c"/>
<circle cx="635.5" cy="1934" r="6.2" fill="#00c79c"/>
<circle cx="645" cy="1943.5" r="6.2" fill="#00c79c"/>
<circle cx="645" cy="1953" r="6.2" fill="#00c79c"/>
<circle cx="645" cy="1962.5" r="6.2" fill="#00c79c"/>
<circle cx="645" cy="1972" r="6.2" fill="#00c79c"/>
<circle cx="654.5" cy="1981.5" r="6.2" fill="#00c79c"/>
<circle cx="654.5" cy="1991" r="6.2" fill="#00b8a3"/>
<circle cx="654.5" cy="2000.5" r="6.2" fill="#00b8a3"/>
<circle cx="654.5" cy="2010" r="6.2" fill="#00b8a3"/>
<circle cx="654.5" cy="2019.5" r="6.2" fill="#00b8a3"/>
<circle cx="654.5" cy="2029" r="6.2" fill="#00b8a3"/>
<circle cx="654.5" cy="2038.5" r="6.2" fill="#00b8a3"/>
<circle cx="654.5" cy="2048" r="6.2" fill="#00b8a3"/>
<circle cx="654.5" cy="2057.5" r="6.2" fill="#00b8a3"/>
<circle cx="654.5" cy="2067" r="6.2" fill="#00b8a3"/>
<circle cx="654.5" cy="2076.5" r="6.2" fill="#00b8a3"/>
<circle cx="654.5" cy="2086" r="6.2" fill="#00b8a3"/>
<circle cx="654.5" cy="2095.5" r="6.2" fill="#00b8a3"/>
<circle cx="645" cy="2105" r="6.2" fill="#00b8a3"/>
<circle cx="645" cy="2114.5" r="6.2" fill="#00b8a3"/>
<circle cx="645" cy="2124" r="6.2" fill="#00b8a3"/>
<circle cx="645" cy="2133.5" r="6.2" fill="#00b8a3"/>
<circle cx="635.5" cy="2143" r="6.2" fill="#00a3ad"/>
<circle cx="635.5" cy="2152.5" r="6.2" fill="#00a3ad"/>
<circle cx="635.5" cy="2162" r="6.2" fill="#00a3ad"/>
<circle cx="635.5" cy="2171.5" r="6.2" fill="#00a3ad"/>
<circle cx="635.5" cy="2181" r="6.2" fill="#00a3ad"/>
<circle cx="626" cy="2190.5" r="6.2" fill="#00a3ad"/>
<circle cx="626" cy="2200" r="6.2" fill="#00a3ad"/>
<circle cx="626" cy="2209.5" r="6.2" fill="#00a3ad"/>
<circle cx="616.5" cy="2219" r="6.2" fill="#00bda1"/>
<circle cx="616.5" cy="2228.5" r="6.2" fill="#00bda1"/>
<circle cx="607" cy="2238" r="6.2" fill="#00bda1"/>
<circle cx="607" cy="2247.5" r="6.2" fill="#00bda1"/>
<circle cx="597.5" cy="2257" r="6.2" fill="#00bda1"/>
<circle cx="588" cy="2266.5" r="6.2" fill="#00bda1"/>
<circle cx="588" cy="2276" r="6.2" fill="#00ada8"/>
<circle cx="578.5" cy="2285.5" r="6.2" fill="#00ada8"/>
<circle cx="578.5" cy="2295" r="6.2" fill="#00ada8"/>
<circle cx="578.5" cy="2304.5" r="6.2" fill="#00ada8"/>
<circle cx="569" cy="2314" r="6.2" fill="#00ada8"/>
<circle cx="569" cy="2323.5" r="6.2" fill="#00ada8"/>
<circle cx="559.5" cy="2333" r="6.2" fill="#00a3ad"/>
<circle cx="559.5" cy="2342.5" r="6.2" fill="#00a3ad"/>
<circle cx="550" cy="2352" r="6.2" fill="#00a3ad"/>
<circle cx="550" cy="2361.5" r="6.2" fill="#00a3ad"/>
</g>
<g font-size="27.6" fill="#1f1f1f">
<text x="444.5" y="1916.2">1</text>
<text x="415.9" y="1880.7">5</text>
<text x="379.1" y="1850.1">10</text>
<text x="342.4" y="1803.2">15</text>
<text x="319.9" y="1756.2">20</text>
<text x="319.9" y="1709.3">25</text>
<text x="319.9" y="1662.4">30</text>
<text x="358.7" y="1605.2">35</text>
<text x="405.7" y="1568.5">40</text>
<text x="452.6" y="1549.3">45</text>
<text x="499.5" y="1558.3">50</text>
<text x="547.3" y="1586.8">55</text>
<text x="575.1" y="1633.7">60</text>
<text x="593.4" y="1681.5">65</text>
<text x="593.4" y="1727.7">70</text>
<text x="602.8" y="1775.4">75</text>
<text x="622" y="1821.5">80</text>
<text x="631.4" y="1869.3">85</text>
<text x="640.4" y="1916.2">90</text>
<text x="650.5" y="1964">95</text>
<text x="660.8" y="2010.5">100</text>
<text x="660.8" y="2057.9">105</text>
<text x="660.8" y="2104.4">110</text>
<text x="650.5" y="2151.7">115</text>
<text x="641.5" y="2198.7">120</text>
<text x="622.8" y="2246.4">125</text>
<text x="593.4" y="2292.6">130</text>
<text x="575.1" y="2340.3">135</text>
</g>
<g>
<rect x="178.4" y="4.3" width="557.6" height="40.6" fill="#f0f0f0"/><text x="472.7" y="31.6" font-size="29.2" fill="#303030" text-anchor="middle">3D view</text>
<rect x="15.8" y="61.4" width="31.9" height="1116.7" fill="url(#winter)" stroke="#2a2a2a" stroke-width="1.5"/>
<text x="58.3" y="1190.4" font-size="34.6" fill="#1a1a1a" text-anchor="start">0</text>
<path d="M37 1024.8H47.7" stroke="#2a2a2a" stroke-width="1.5"/>
<text x="58.3" y="1037.1" font-size="34.6" fill="#1a1a1a" text-anchor="start">10</text>
<path d="M37 871.5H47.7" stroke="#2a2a2a" stroke-width="1.5"/>
<text x="58.3" y="883.8" font-size="34.6" fill="#1a1a1a" text-anchor="start">20</text>
<path d="M37 718.2H47.7" stroke="#2a2a2a" stroke-width="1.5"/>
<text x="58.3" y="730.5" font-size="34.6" fill="#1a1a1a" text-anchor="start">30</text>
<path d="M37 564.9H47.7" stroke="#2a2a2a" stroke-width="1.5"/>
<text x="58.3" y="577.2" font-size="34.6" fill="#1a1a1a" text-anchor="start">40</text>
<path d="M37 411.7H47.7" stroke="#2a2a2a" stroke-width="1.5"/>
<text x="58.3" y="424" font-size="34.6" fill="#1a1a1a" text-anchor="start">50</text>
<path d="M37 258.4H47.7" stroke="#2a2a2a" stroke-width="1.5"/>
<text x="58.3" y="270.7" font-size="34.6" fill="#1a1a1a" text-anchor="start">60</text>
<path d="M37 105.1H47.7" stroke="#2a2a2a" stroke-width="1.5"/>
<text x="58.3" y="117.4" font-size="34.6" fill="#1a1a1a" text-anchor="start">70</text>
<text transform="translate(139.5 619) rotate(-90)" font-size="33.1" fill="#262626" text-anchor="middle">Flow (mL/cycle)</text>
<text x="1116.8" y="62.5" style="font-family:'Liberation Sans',sans-serif" font-weight="bold" font-size="51.4" fill="#000" text-anchor="middle" textLength="374" lengthAdjust="spacingAndGlyphs">Healthy control</text>
<rect x="928.8" y="67" width="376" height="3" fill="#000"/>
<rect x="1699" y="22" width="510" height="33.4" fill="#f0f0f0"/><text x="1954" y="44.1" font-size="25.2" fill="#303030" text-anchor="middle">Set PWV measurement points</text>
<rect x="1644.6" y="74.3" width="256.4" height="33.6" fill="#f0f0f0"/><text x="1772.8" y="95" font-size="21" fill="#303030" text-anchor="middle">PWV points</text>
<rect x="1963.5" y="67" width="251.5" height="42.7" fill="#fff" stroke="#9094b4" stroke-width="2"/><path d="M1963.2 110.2V66.7H2215.5" fill="none" stroke="#6f7499" stroke-width="1.4"/><text x="2089.2" y="96.6" font-size="25.7" fill="#303030" text-anchor="middle">15: 150</text>
<rect x="1388.2" y="135.4" width="506.5" height="59.8" fill="url(#btn)"/><rect x="1388.2" y="135.4" width="14" height="59.8" fill="url(#btnl)"/><rect x="1880.7" y="135.4" width="14" height="59.8" fill="url(#btnr)"/><path d="M1389.7 193.2V136.9H1892.7" fill="none" stroke="#fbfbfb" stroke-width="3"/><path d="M1389.2 194H1893.5V137.4" fill="none" stroke="#9a9ca6" stroke-width="2.4"/><path d="M1391.2 191.4H1890.9V139.4" fill="none" stroke="#d4d4d6" stroke-width="3"/><text x="1641.5" y="174.8" font-size="26.3" fill="#303030" text-anchor="middle">Examine flow waveforms</text>
<rect x="856.5" y="199.5" width="1476.1" height="431.9" fill="#fff"/>
<g clip-path="url(#clipA)" fill="none" stroke-width="3.7" stroke-opacity="0.72" stroke-linejoin="round">
<polyline points="857,568 883,564 908,518 934,453 959,375 985,310 1011,275 1036,259 1062,262 1088,266 1113,282 1139,274 1164,277 1190,318 1216,356 1241,393 1267,418 1293,464 1318,530 1344,591 1369,598 1395,588 1421,584 1446,586 1472,583 1498,584 1523,559 1549,526 1574,532 1600,534 1626,544 1651,550 1677,556 1702,558 1728,558 1754,561 1779,565 1805,562 1831,562 1856,552 1882,554 1907,539 1933,535 1959,544 1984,577 2010,572 2036,569 2061,566 2087,569 2112,572 2138,575 2164,575 2189,576 2215,537 2241,541 2266,566 2292,583 2317,589 2333,587" stroke="#0000ff"/>
<polyline points="857,568 883,553 908,492 934,420 959,349 985,294 1011,264 1036,262 1062,261 1088,272 1113,281 1139,270 1164,286 1190,328 1216,367 1241,398 1267,429 1293,476 1318,549 1344,594 1369,594 1395,590 1421,585 1446,586 1472,582 1498,582 1523,554 1549,541 1574,538 1600,537 1626,539 1651,546 1677,560 1702,561 1728,561 1754,562 1779,566 1805,559 1831,555 1856,557 1882,560 1907,538 1933,536 1959,550 1984,577 2010,575 2036,570 2061,572 2087,567 2112,572 2138,572 2164,575 2189,564 2215,539 2241,548 2266,578 2292,590 2317,593 2333,592" stroke="#0002fe"/>
<polyline points="857,570 883,569 908,512 934,445 959,367 985,302 1011,271 1036,260 1062,258 1088,258 1113,277 1139,274 1164,284 1190,318 1216,358 1241,394 1267,412 1293,461 1318,520 1344,585 1369,597 1395,584 1421,585 1446,580 1472,584 1498,582 1523,567 1549,540 1574,532 1600,533 1626,542 1651,551 1677,556 1702,558 1728,564 1754,564 1779,564 1805,565 1831,564 1856,559 1882,560 1907,543 1933,543 1959,552 1984,582 2010,576 2036,574 2061,574 2087,569 2112,567 2138,567 2164,569 2189,572 2215,540 2241,540 2266,569 2292,587 2317,595 2333,593" stroke="#0004fd"/>
<polyline points="857,567 883,559 908,492 934,423 959,347 985,290 1011,268 1036,254 1062,255 1088,265 1113,277 1139,273 1164,286 1190,324 1216,367 1241,397 1267,430 1293,476 1318,544 1344,593 1369,591 1395,583 1421,581 1446,585 1472,584 1498,583 1523,549 1549,532 1574,536 1600,538 1626,540 1651,547 1677,556 1702,559 1728,564 1754,564 1779,558 1805,560 1831,560 1856,561 1882,561 1907,541 1933,542 1959,554 1984,577 2010,576 2036,573 2061,573 2087,570 2112,564 2138,571 2164,573 2189,569 2215,541 2241,546 2266,569 2292,586 2317,591 2333,592" stroke="#0006fc"/>
<polyline points="857,575 883,566 908,510 934,434 959,351 985,293 1011,265 1036,257 1062,251 1088,255 1113,268 1139,263 1164,284 1190,328 1216,368 1241,397 1267,426 1293,472 1318,544 1344,588 1369,583 1395,570 1421,576 1446,582 1472,582 1498,585 1523,552 1549,537 1574,540 1600,540 1626,541 1651,552 1677,556 1702,555 1728,555 1754,555 1779,556 1805,555 1831,558 1856,561 1882,556 1907,540 1933,540 1959,559 1984,579 2010,572 2036,571 2061,563 2087,565 2112,563 2138,566 2164,572 2189,566 2215,541 2241,546 2266,579 2292,592 2317,590 2333,591" stroke="#0008fb"/>
<polyline points="857,568 883,561 908,513 934,449 959,372 985,306 1011,275 1036,268 1062,259 1088,264 1113,277 1139,268 1164,271 1190,311 1216,348 1241,380 1267,408 1293,455 1318,520 1344,583 1369,597 1395,581 1421,583 1446,580 1472,579 1498,579 1523,559 1549,534 1574,533 1600,536 1626,541 1651,549 1677,556 1702,558 1728,558 1754,557 1779,553 1805,553 1831,554 1856,553 1882,552 1907,543 1933,537 1959,550 1984,577 2010,578 2036,568 2061,568 2087,565 2112,564 2138,562 2164,571 2189,576 2215,540 2241,544 2266,566 2292,586 2317,592 2333,594" stroke="#0009fa"/>
<polyline points="857,567 883,557 908,493 934,420 959,346 985,289 1011,268 1036,264 1062,259 1088,266 1113,269 1139,264 1164,280 1190,318 1216,361 1241,396 1267,425 1293,480 1318,552 1344,596 1369,591 1395,580 1421,577 1446,581 1472,582 1498,586 1523,557 1549,540 1574,538 1600,537 1626,547 1651,548 1677,555 1702,550 1728,554 1754,562 1779,559 1805,563 1831,559 1856,562 1882,558 1907,538 1933,538 1959,556 1984,580 2010,572 2036,568 2061,570 2087,572 2112,569 2138,568 2164,574 2189,566 2215,538 2241,553 2266,576 2292,592 2317,590 2333,588" stroke="#000bf9"/>
<polyline points="857,571 883,564 908,527 934,463 959,391 985,325 1011,289 1036,275 1062,269 1088,269 1113,282 1139,273 1164,273 1190,311 1216,353 1241,392 1267,411 1293,460 1318,520 1344,582 1369,603 1395,589 1421,583 1446,577 1472,579 1498,582 1523,572 1549,542 1574,541 1600,545 1626,546 1651,549 1677,556 1702,557 1728,556 1754,556 1779,555 1805,559 1831,556 1856,564 1882,561 1907,549 1933,544 1959,546 1984,575 2010,575 2036,569 2061,569 2087,570 2112,564 2138,569 2164,572 2189,577 2215,550 2241,546 2266,570 2292,584 2317,586 2333,586" stroke="#000df8"/>
<polyline points="857,573 883,568 908,512 934,443 959,365 985,312 1011,281 1036,277 1062,277 1088,278 1113,288 1139,278 1164,294 1190,339 1216,376 1241,404 1267,431 1293,481 1318,547 1344,594 1369,597 1395,582 1421,581 1446,580 1472,582 1498,585 1523,558 1549,538 1574,536 1600,541 1626,544 1651,556 1677,559 1702,562 1728,560 1754,563 1779,563 1805,561 1831,562 1856,552 1882,556 1907,539 1933,542 1959,552 1984,574 2010,572 2036,574 2061,573 2087,571 2112,573 2138,574 2164,577 2189,570 2215,543 2241,552 2266,573 2292,578 2317,582 2333,587" stroke="#000ff7"/>
<polyline points="857,574 883,575 908,516 934,448 959,366 985,305 1011,275 1036,269 1062,271 1088,274 1113,284 1139,277 1164,291 1190,327 1216,366 1241,394 1267,416 1293,462 1318,533 1344,587 1369,596 1395,586 1421,581 1446,583 1472,588 1498,586 1523,558 1549,535 1574,535 1600,539 1626,543 1651,554 1677,561 1702,562 1728,562 1754,560 1779,560 1805,558 1831,555 1856,556 1882,556 1907,542 1933,545 1959,555 1984,576 2010,575 2036,565 2061,568 2087,566 2112,568 2138,571 2164,569 2189,574 2215,542 2241,552 2266,574 2292,588 2317,589 2333,585" stroke="#0011f6"/>
<polyline points="857,570 883,570 908,516 934,442 959,363 985,295 1011,264 1036,258 1062,261 1088,266 1113,277 1139,270 1164,274 1190,310 1216,353 1241,386 1267,414 1293,466 1318,535 1344,587 1369,593 1395,584 1421,588 1446,582 1472,585 1498,586 1523,560 1549,542 1574,540 1600,540 1626,539 1651,555 1677,560 1702,561 1728,557 1754,554 1779,558 1805,561 1831,560 1856,560 1882,563 1907,541 1933,542 1959,552 1984,582 2010,575 2036,578 2061,572 2087,577 2112,568 2138,570 2164,577 2189,572 2215,542 2241,551 2266,574 2292,584 2317,588 2333,592" stroke="#0013f6"/>
<polyline points="857,568 883,565 908,513 934,444 959,369 985,311 1011,280 1036,267 1062,262 1088,265 1113,273 1139,267 1164,274 1190,320 1216,361 1241,392 1267,414 1293,460 1318,526 1344,585 1369,593 1395,585 1421,585 1446,581 1472,576 1498,580 1523,561 1549,546 1574,541 1600,544 1626,543 1651,544 1677,553 1702,554 1728,557 1754,560 1779,560 1805,563 1831,555 1856,561 1882,559 1907,540 1933,540 1959,554 1984,575 2010,574 2036,573 2061,568 2087,567 2112,569 2138,567 2164,573 2189,576 2215,548 2241,552 2266,570 2292,579 2317,583 2333,581" stroke="#0015f5"/>
<polyline points="857,577 883,567 908,520 934,447 959,364 985,292 1011,261 1036,251 1062,253 1088,258 1113,275 1139,266 1164,266 1190,304 1216,344 1241,384 1267,404 1293,451 1318,520 1344,586 1369,599 1395,589 1421,580 1446,578 1472,578 1498,586 1523,560 1549,535 1574,538 1600,537 1626,541 1651,549 1677,559 1702,560 1728,560 1754,553 1779,560 1805,561 1831,563 1856,563 1882,561 1907,549 1933,539 1959,548 1984,570 2010,573 2036,565 2061,567 2087,566 2112,569 2138,570 2164,570 2189,577 2215,544 2241,546 2266,568 2292,585 2317,590 2333,590" stroke="#0017f4"/>
<polyline points="857,577 883,574 908,520 934,450 959,373 985,310 1011,278 1036,269 1062,270 1088,273 1113,282 1139,275 1164,281 1190,325 1216,362 1241,394 1267,419 1293,464 1318,531 1344,582 1369,594 1395,587 1421,582 1446,582 1472,583 1498,589 1523,563 1549,540 1574,543 1600,541 1626,542 1651,551 1677,562 1702,561 1728,557 1754,556 1779,556 1805,557 1831,560 1856,561 1882,564 1907,545 1933,539 1959,555 1984,581 2010,575 2036,572 2061,576 2087,574 2112,574 2138,565 2164,574 2189,570 2215,538 2241,543 2266,568 2292,583 2317,594 2333,591" stroke="#0019f3"/>
<polyline points="857,580 883,573 908,539 934,481 959,406 985,331 1011,286 1036,274 1062,275 1088,274 1113,291 1139,281 1164,280 1190,315 1216,358 1241,393 1267,405 1293,444 1318,503 1344,574 1369,598 1395,582 1421,577 1446,582 1472,584 1498,587 1523,574 1549,544 1574,541 1600,544 1626,547 1651,550 1677,556 1702,554 1728,560 1754,562 1779,559 1805,560 1831,559 1856,558 1882,564 1907,563 1933,543 1959,542 1984,574 2010,581 2036,574 2061,576 2087,571 2112,571 2138,569 2164,577 2189,573 2215,552 2241,542 2266,563 2292,587 2317,592 2333,592" stroke="#001af2"/>
<polyline points="857,576 883,572 908,516 934,447 959,366 985,306 1011,280 1036,272 1062,281 1088,289 1113,295 1139,284 1164,287 1190,325 1216,363 1241,402 1267,427 1293,469 1318,536 1344,583 1369,588 1395,583 1421,584 1446,584 1472,583 1498,586 1523,559 1549,538 1574,543 1600,545 1626,545 1651,555 1677,561 1702,555 1728,557 1754,559 1779,557 1805,555 1831,564 1856,562 1882,558 1907,543 1933,538 1959,555 1984,580 2010,576 2036,576 2061,574 2087,571 2112,564 2138,574 2164,574 2189,568 2215,544 2241,547 2266,571 2292,583 2317,586 2333,587" stroke="#001cf1"/>
<polyline points="857,582 883,578 908,522 934,449 959,366 985,302 1011,273 1036,263 1062,259 1088,268 1113,280 1139,271 1164,279 1190,318 1216,362 1241,392 1267,413 1293,457 1318,529 1344,587 1369,594 1395,590 1421,589 1446,590 1472,589 1498,588 1523,558 1549,540 1574,537 1600,540 1626,543 1651,551 1677,557 1702,560 1728,559 1754,563 1779,563 1805,566 1831,560 1856,563 1882,555 1907,544 1933,544 1959,560 1984,581 2010,579 2036,571 2061,573 2087,575 2112,575 2138,571 2164,576 2189,574 2215,544 2241,552 2266,574 2292,588 2317,591 2333,590" stroke="#001ef0"/>
<polyline points="857,572 883,568 908,520 934,459 959,382 985,317 1011,287 1036,279 1062,282 1088,291 1113,296 1139,284 1164,282 1190,317 1216,358 1241,395 1267,417 1293,459 1318,524 1344,576 1369,589 1395,583 1421,584 1446,586 1472,585 1498,585 1523,561 1549,540 1574,539 1600,541 1626,541 1651,546 1677,552 1702,554 1728,560 1754,555 1779,557 1805,559 1831,557 1856,558 1882,560 1907,552 1933,546 1959,554 1984,578 2010,577 2036,570 2061,568 2087,568 2112,566 2138,566 2164,571 2189,569 2215,544 2241,548 2266,563 2292,581 2317,587 2333,590" stroke="#0020ef"/>
<polyline points="857,569 883,563 908,514 934,449 959,372 985,311 1011,278 1036,268 1062,269 1088,275 1113,283 1139,277 1164,285 1190,328 1216,364 1241,396 1267,424 1293,472 1318,539 1344,583 1369,583 1395,574 1421,572 1446,578 1472,579 1498,582 1523,560 1549,543 1574,542 1600,540 1626,539 1651,547 1677,555 1702,555 1728,556 1754,557 1779,557 1805,564 1831,557 1856,560 1882,561 1907,544 1933,541 1959,551 1984,571 2010,566 2036,569 2061,567 2087,571 2112,573 2138,570 2164,571 2189,564 2215,543 2241,545 2266,569 2292,581 2317,584 2333,581" stroke="#0022ee"/>
<polyline points="857,570 883,567 908,516 934,446 959,368 985,308 1011,277 1036,275 1062,272 1088,281 1113,288 1139,276 1164,279 1190,316 1216,354 1241,381 1267,409 1293,460 1318,528 1344,578 1369,590 1395,586 1421,587 1446,582 1472,579 1498,586 1523,564 1549,541 1574,542 1600,543 1626,544 1651,552 1677,554 1702,552 1728,553 1754,555 1779,552 1805,556 1831,556 1856,560 1882,557 1907,542 1933,542 1959,556 1984,576 2010,574 2036,569 2061,568 2087,567 2112,569 2138,570 2164,570 2189,566 2215,541 2241,544 2266,566 2292,580 2317,582 2333,583" stroke="#0024ed"/>
<polyline points="857,575 883,566 908,509 934,449 959,375 985,316 1011,287 1036,277 1062,279 1088,288 1113,295 1139,287 1164,293 1190,331 1216,364 1241,395 1267,425 1293,472 1318,540 1344,585 1369,588 1395,580 1421,576 1446,578 1472,581 1498,582 1523,556 1549,540 1574,539 1600,538 1626,545 1651,555 1677,559 1702,562 1728,559 1754,563 1779,562 1805,566 1831,562 1856,556 1882,556 1907,543 1933,539 1959,557 1984,572 2010,572 2036,570 2061,563 2087,569 2112,568 2138,568 2164,577 2189,569 2215,547 2241,551 2266,574 2292,589 2317,587 2333,583" stroke="#0026ec"/>
<polyline points="857,571 883,562 908,513 934,444 959,369 985,311 1011,284 1036,276 1062,276 1088,288 1113,293 1139,279 1164,287 1190,324 1216,367 1241,399 1267,422 1293,467 1318,539 1344,586 1369,593 1395,588 1421,586 1446,579 1472,584 1498,580 1523,557 1549,543 1574,540 1600,539 1626,540 1651,553 1677,559 1702,556 1728,556 1754,556 1779,558 1805,559 1831,560 1856,551 1882,558 1907,537 1933,542 1959,556 1984,576 2010,573 2036,565 2061,567 2087,569 2112,570 2138,570 2164,575 2189,568 2215,546 2241,551 2266,572 2292,587 2317,584 2333,579" stroke="#0028eb"/>
<polyline points="857,581 883,576 908,535 934,473 959,396 985,331 1011,299 1036,292 1062,290 1088,296 1113,305 1139,290 1164,286 1190,324 1216,363 1241,398 1267,421 1293,464 1318,527 1344,579 1369,594 1395,591 1421,580 1446,578 1472,576 1498,583 1523,564 1549,543 1574,543 1600,541 1626,544 1651,553 1677,561 1702,560 1728,555 1754,556 1779,566 1805,565 1831,559 1856,559 1882,558 1907,545 1933,543 1959,550 1984,573 2010,576 2036,569 2061,573 2087,569 2112,569 2138,570 2164,572 2189,575 2215,552 2241,550 2266,567 2292,583 2317,587 2333,580" stroke="#002aea"/>
<polyline points="857,572 883,564 908,537 934,483 959,417 985,375 1011,358 1036,351 1062,337 1088,320 1113,294 1139,283 1164,298 1190,335 1216,372 1241,403 1267,429 1293,472 1318,530 1344,571 1369,586 1395,583 1421,580 1446,582 1472,579 1498,580 1523,564 1549,548 1574,543 1600,551 1626,549 1651,553 1677,557 1702,564 1728,559 1754,557 1779,557 1805,565 1831,555 1856,553 1882,548 1907,547 1933,555 1959,563 1984,568 2010,568 2036,570 2061,568 2087,568 2112,571 2138,575 2164,578 2189,577 2215,556 2241,564 2266,574 2292,583 2317,581 2333,584" stroke="#002be9"/>
<polyline points="857,569 883,568 908,546 934,497 959,436 985,390 1011,368 1036,362 1062,351 1088,328 1113,302 1139,292 1164,293 1190,334 1216,372 1241,402 1267,428 1293,465 1318,513 1344,561 1369,581 1395,589 1421,586 1446,581 1472,584 1498,577 1523,568 1549,544 1574,546 1600,544 1626,546 1651,547 1677,557 1702,556 1728,554 1754,562 1779,560 1805,560 1831,560 1856,555 1882,548 1907,545 1933,552 1959,561 1984,572 2010,569 2036,564 2061,564 2087,569 2112,573 2138,573 2164,573 2189,576 2215,557 2241,559 2266,566 2292,577 2317,581 2333,585" stroke="#002de8"/>
<polyline points="857,561 883,550 908,523 934,467 959,408 985,370 1011,352 1036,347 1062,332 1088,310 1113,287 1139,287 1164,312 1190,348 1216,378 1241,401 1267,433 1293,479 1318,538 1344,567 1369,578 1395,580 1421,581 1446,579 1472,582 1498,582 1523,560 1549,548 1574,543 1600,541 1626,541 1651,553 1677,553 1702,557 1728,553 1754,560 1779,558 1805,562 1831,553 1856,551 1882,545 1907,549 1933,552 1959,564 1984,563 2010,569 2036,571 2061,567 2087,568 2112,568 2138,573 2164,573 2189,564 2215,553 2241,557 2266,573 2292,578 2317,580 2333,574" stroke="#002fe7"/>
<polyline points="857,566 883,562 908,533 934,475 959,416 985,372 1011,353 1036,348 1062,332 1088,316 1113,297 1139,285 1164,307 1190,337 1216,372 1241,403 1267,431 1293,481 1318,537 1344,577 1369,589 1395,580 1421,584 1446,580 1472,583 1498,582 1523,565 1549,548 1574,549 1600,539 1626,541 1651,550 1677,552 1702,554 1728,550 1754,555 1779,554 1805,555 1831,554 1856,555 1882,555 1907,551 1933,557 1959,569 1984,574 2010,570 2036,565 2061,569 2087,571 2112,566 2138,566 2164,563 2189,561 2215,543 2241,559 2266,565 2292,579 2317,584 2333,580" stroke="#0031e6"/>
<polyline points="857,555 883,548 908,521 934,467 959,408 985,368 1011,351 1036,347 1062,332 1088,309 1113,287 1139,278 1164,295 1190,328 1216,364 1241,393 1267,416 1293,459 1318,524 1344,561 1369,575 1395,576 1421,576 1446,581 1472,586 1498,583 1523,561 1549,547 1574,544 1600,545 1626,537 1651,549 1677,553 1702,548 1728,551 1754,552 1779,554 1805,552 1831,551 1856,553 1882,547 1907,549 1933,559 1959,561 1984,571 2010,574 2036,567 2061,566 2087,562 2112,563 2138,566 2164,567 2189,561 2215,552 2241,559 2266,571 2292,579 2317,578 2333,579" stroke="#0033e6"/>
<polyline points="857,556 883,547 908,519 934,461 959,403 985,362 1011,344 1036,339 1062,324 1088,303 1113,280 1139,280 1164,297 1190,336 1216,368 1241,394 1267,422 1293,475 1318,533 1344,569 1369,581 1395,580 1421,577 1446,578 1472,581 1498,578 1523,558 1549,544 1574,538 1600,535 1626,538 1651,545 1677,552 1702,554 1728,550 1754,554 1779,558 1805,551 1831,551 1856,547 1882,548 1907,553 1933,559 1959,566 1984,572 2010,566 2036,568 2061,566 2087,565 2112,567 2138,570 2164,571 2189,567 2215,548 2241,556 2266,564 2292,577 2317,576 2333,577" stroke="#0035e5"/>
<polyline points="857,564 883,557 908,538 934,493 959,426 985,386 1011,360 1036,350 1062,339 1088,324 1113,295 1139,280 1164,292 1190,331 1216,364 1241,392 1267,411 1293,456 1318,514 1344,560 1369,575 1395,579 1421,575 1446,577 1472,579 1498,581 1523,563 1549,547 1574,544 1600,547 1626,547 1651,553 1677,555 1702,556 1728,554 1754,555 1779,557 1805,555 1831,552 1856,548 1882,548 1907,545 1933,551 1959,557 1984,562 2010,568 2036,566 2061,559 2087,559 2112,565 2138,564 2164,571 2189,566 2215,555 2241,559 2266,565 2292,579 2317,583 2333,579" stroke="#0037e4"/>
<polyline points="857,560 883,551 908,526 934,471 959,415 985,375 1011,361 1036,352 1062,339 1088,321 1113,300 1139,294 1164,314 1190,342 1216,378 1241,400 1267,427 1293,465 1318,525 1344,564 1369,576 1395,583 1421,584 1446,582 1472,581 1498,584 1523,563 1549,549 1574,544 1600,542 1626,541 1651,548 1677,551 1702,554 1728,552 1754,554 1779,556 1805,554 1831,558 1856,556 1882,553 1907,548 1933,557 1959,563 1984,571 2010,567 2036,568 2061,561 2087,563 2112,569 2138,565 2164,571 2189,565 2215,557 2241,558 2266,564 2292,576 2317,578 2333,576" stroke="#0039e3"/>
<polyline points="857,560 883,555 908,538 934,494 959,436 985,388 1011,362 1036,350 1062,341 1088,319 1113,297 1139,281 1164,292 1190,322 1216,352 1241,384 1267,404 1293,446 1318,496 1344,546 1369,567 1395,572 1421,575 1446,576 1472,576 1498,580 1523,567 1549,545 1574,545 1600,544 1626,544 1651,549 1677,548 1702,547 1728,555 1754,548 1779,555 1805,550 1831,556 1856,547 1882,546 1907,546 1933,548 1959,556 1984,564 2010,562 2036,562 2061,567 2087,561 2112,560 2138,562 2164,559 2189,568 2215,549 2241,553 2266,560 2292,574 2317,581 2333,577" stroke="#003be2"/>
<polyline points="857,569 883,558 908,535 934,485 959,422 985,383 1011,362 1036,355 1062,344 1088,322 1113,299 1139,296 1164,310 1190,344 1216,371 1241,398 1267,422 1293,460 1318,512 1344,559 1369,578 1395,586 1421,581 1446,582 1472,580 1498,581 1523,562 1549,549 1574,549 1600,545 1626,549 1651,547 1677,553 1702,556 1728,555 1754,563 1779,553 1805,556 1831,550 1856,543 1882,551 1907,548 1933,555 1959,563 1984,576 2010,572 2036,565 2061,567 2087,564 2112,569 2138,569 2164,572 2189,566 2215,548 2241,558 2266,568 2292,578 2317,580 2333,580" stroke="#003ce1"/>
<polyline points="857,554 883,549 908,537 934,500 959,448 985,393 1011,364 1036,351 1062,338 1088,320 1113,290 1139,280 1164,289 1190,323 1216,358 1241,392 1267,411 1293,448 1318,495 1344,549 1369,570 1395,573 1421,575 1446,573 1472,576 1498,578 1523,571 1549,553 1574,543 1600,543 1626,546 1651,546 1677,548 1702,550 1728,548 1754,546 1779,556 1805,556 1831,553 1856,551 1882,552 1907,545 1933,545 1959,557 1984,563 2010,562 2036,563 2061,559 2087,561 2112,563 2138,564 2164,568 2189,568 2215,554 2241,551 2266,564 2292,567 2317,573 2333,570" stroke="#003ee0"/>
<polyline points="857,562 883,558 908,541 934,493 959,427 985,382 1011,357 1036,347 1062,336 1088,311 1113,293 1139,283 1164,297 1190,336 1216,363 1241,391 1267,412 1293,455 1318,511 1344,557 1369,578 1395,581 1421,581 1446,577 1472,578 1498,583 1523,564 1549,553 1574,543 1600,544 1626,543 1651,544 1677,551 1702,551 1728,548 1754,552 1779,554 1805,552 1831,552 1856,555 1882,549 1907,545 1933,553 1959,562 1984,569 2010,567 2036,566 2061,560 2087,564 2112,563 2138,560 2164,568 2189,565 2215,553 2241,556 2266,566 2292,574 2317,579 2333,572" stroke="#0040df"/>
<polyline points="857,565 883,557 908,535 934,486 959,430 985,382 1011,360 1036,350 1062,339 1088,326 1113,310 1139,306 1164,315 1190,354 1216,382 1241,399 1267,422 1293,458 1318,512 1344,551 1369,568 1395,574 1421,580 1446,581 1472,581 1498,582 1523,571 1549,550 1574,547 1600,546 1626,545 1651,542 1677,552 1702,551 1728,559 1754,559 1779,556 1805,556 1831,557 1856,555 1882,548 1907,543 1933,550 1959,558 1984,568 2010,567 2036,566 2061,564 2087,568 2112,569 2138,567 2164,567 2189,563 2215,554 2241,563 2266,565 2292,565 2317,570 2333,573" stroke="#0042de"/>
<polyline points="857,563 883,562 908,543 934,499 959,440 985,388 1011,360 1036,355 1062,344 1088,327 1113,303 1139,294 1164,300 1190,331 1216,366 1241,396 1267,414 1293,451 1318,496 1344,544 1369,571 1395,582 1421,581 1446,581 1472,582 1498,582 1523,573 1549,551 1574,551 1600,557 1626,550 1651,550 1677,552 1702,553 1728,555 1754,554 1779,553 1805,554 1831,547 1856,549 1882,550 1907,547 1933,556 1959,560 1984,568 2010,566 2036,564 2061,571 2087,565 2112,567 2138,568 2164,566 2189,567 2215,555 2241,560 2266,564 2292,572 2317,581 2333,577" stroke="#0044dd"/>
<polyline points="857,561 883,548 908,523 934,478 959,423 985,382 1011,368 1036,361 1062,346 1088,331 1113,308 1139,310 1164,324 1190,352 1216,376 1241,405 1267,430 1293,473 1318,518 1344,556 1369,569 1395,578 1421,582 1446,582 1472,579 1498,583 1523,562 1549,551 1574,548 1600,546 1626,540 1651,549 1677,549 1702,549 1728,553 1754,557 1779,551 1805,552 1831,555 1856,554 1882,547 1907,546 1933,554 1959,559 1984,569 2010,565 2036,566 2061,566 2087,562 2112,565 2138,563 2164,574 2189,566 2215,554 2241,555 2266,562 2292,572 2317,573 2333,573" stroke="#0046dc"/>
<polyline points="857,551 883,543 908,510 934,466 959,423 985,388 1011,374 1036,359 1062,340 1088,327 1113,315 1139,316 1164,335 1190,359 1216,389 1241,414 1267,454 1293,495 1318,544 1344,572 1369,578 1395,577 1421,576 1446,576 1472,580 1498,574 1523,549 1549,549 1574,549 1600,553 1626,554 1651,561 1677,554 1702,557 1728,554 1754,554 1779,549 1805,549 1831,548 1856,549 1882,552 1907,552 1933,563 1959,568 1984,566 2010,565 2036,562 2061,564 2087,560 2112,562 2138,563 2164,562 2189,563 2215,558 2241,564 2266,571 2292,577 2317,572 2333,574" stroke="#0048db"/>
<polyline points="857,563 883,554 908,534 934,488 959,429 985,387 1011,361 1036,356 1062,346 1088,330 1113,317 1139,314 1164,326 1190,353 1216,379 1241,406 1267,425 1293,466 1318,509 1344,547 1369,572 1395,577 1421,577 1446,580 1472,581 1498,578 1523,568 1549,550 1574,543 1600,542 1626,539 1651,544 1677,550 1702,548 1728,550 1754,555 1779,555 1805,554 1831,553 1856,553 1882,540 1907,546 1933,552 1959,557 1984,565 2010,561 2036,563 2061,563 2087,563 2112,568 2138,569 2164,566 2189,559 2215,549 2241,552 2266,563 2292,568 2317,572 2333,569" stroke="#004ada"/>
<polyline points="857,556 883,548 908,527 934,481 959,429 985,389 1011,372 1036,360 1062,344 1088,329 1113,314 1139,318 1164,334 1190,360 1216,391 1241,409 1267,434 1293,473 1318,521 1344,556 1369,575 1395,577 1421,574 1446,573 1472,579 1498,578 1523,564 1549,549 1574,548 1600,547 1626,542 1651,542 1677,555 1702,549 1728,555 1754,551 1779,552 1805,550 1831,552 1856,553 1882,551 1907,548 1933,558 1959,561 1984,566 2010,565 2036,565 2061,562 2087,561 2112,563 2138,563 2164,567 2189,562 2215,553 2241,555 2266,565 2292,572 2317,570 2333,567" stroke="#004cd9"/>
<polyline points="857,563 883,561 908,540 934,490 959,433 985,392 1011,364 1036,358 1062,343 1088,324 1113,308 1139,305 1164,323 1190,349 1216,375 1241,396 1267,423 1293,463 1318,513 1344,554 1369,574 1395,584 1421,580 1446,582 1472,580 1498,582 1523,569 1549,555 1574,551 1600,547 1626,548 1651,552 1677,553 1702,551 1728,552 1754,551 1779,554 1805,559 1831,552 1856,550 1882,547 1907,545 1933,557 1959,562 1984,569 2010,567 2036,564 2061,562 2087,567 2112,562 2138,566 2164,567 2189,565 2215,551 2241,560 2266,562 2292,572 2317,577 2333,571" stroke="#004dd8"/>
<polyline points="857,562 883,561 908,539 934,497 959,440 985,394 1011,369 1036,355 1062,343 1088,328 1113,315 1139,318 1164,323 1190,350 1216,376 1241,403 1267,430 1293,459 1318,504 1344,545 1369,568 1395,577 1421,578 1446,575 1472,579 1498,578 1523,568 1549,551 1574,550 1600,547 1626,548 1651,550 1677,552 1702,552 1728,552 1754,553 1779,552 1805,553 1831,551 1856,553 1882,551 1907,548 1933,551 1959,561 1984,565 2010,566 2036,565 2061,564 2087,561 2112,561 2138,563 2164,564 2189,567 2215,553 2241,554 2266,562 2292,573 2317,578 2333,571" stroke="#004fd7"/>
<polyline points="857,559 883,551 908,528 934,486 959,440 985,395 1011,374 1036,364 1062,353 1088,337 1113,324 1139,323 1164,338 1190,361 1216,383 1241,403 1267,432 1293,470 1318,512 1344,540 1369,560 1395,573 1421,576 1446,575 1472,576 1498,577 1523,566 1549,556 1574,548 1600,548 1626,545 1651,547 1677,559 1702,555 1728,550 1754,550 1779,551 1805,550 1831,551 1856,550 1882,545 1907,542 1933,549 1959,556 1984,565 2010,563 2036,554 2061,561 2087,563 2112,566 2138,567 2164,569 2189,564 2215,550 2241,564 2266,567 2292,570 2317,572 2333,568" stroke="#0051d6"/>
<polyline points="857,565 883,559 908,536 934,494 959,441 985,397 1011,376 1036,360 1062,350 1088,335 1113,325 1139,325 1164,341 1190,366 1216,388 1241,412 1267,435 1293,472 1318,516 1344,551 1369,571 1395,580 1421,582 1446,583 1472,581 1498,583 1523,567 1549,554 1574,549 1600,550 1626,550 1651,548 1677,555 1702,558 1728,557 1754,557 1779,558 1805,552 1831,547 1856,551 1882,551 1907,545 1933,554 1959,561 1984,565 2010,570 2036,567 2061,564 2087,562 2112,565 2138,565 2164,561 2189,564 2215,554 2241,557 2266,569 2292,574 2317,579 2333,571" stroke="#0053d5"/>
<polyline points="857,560 883,552 908,529 934,490 959,438 985,397 1011,374 1036,364 1062,345 1088,332 1113,323 1139,326 1164,345 1190,368 1216,393 1241,415 1267,445 1293,478 1318,523 1344,556 1369,572 1395,581 1421,583 1446,581 1472,583 1498,580 1523,563 1549,554 1574,550 1600,551 1626,550 1651,547 1677,554 1702,551 1728,551 1754,552 1779,551 1805,550 1831,543 1856,546 1882,543 1907,542 1933,551 1959,558 1984,567 2010,566 2036,561 2061,560 2087,565 2112,561 2138,565 2164,566 2189,563 2215,553 2241,564 2266,568 2292,572 2317,575 2333,571" stroke="#0055d4"/>
<polyline points="857,565 883,560 908,542 934,499 959,446 985,403 1011,378 1036,363 1062,352 1088,335 1113,326 1139,334 1164,350 1190,372 1216,399 1241,416 1267,447 1293,481 1318,520 1344,555 1369,571 1395,581 1421,579 1446,582 1472,579 1498,579 1523,570 1549,558 1574,557 1600,555 1626,550 1651,553 1677,552 1702,550 1728,550 1754,550 1779,552 1805,553 1831,551 1856,551 1882,550 1907,552 1933,559 1959,564 1984,564 2010,565 2036,560 2061,564 2087,560 2112,564 2138,564 2164,569 2189,565 2215,557 2241,562 2266,569 2292,577 2317,576 2333,572" stroke="#0057d4"/>
<polyline points="857,566 883,562 908,537 934,501 959,440 985,398 1011,377 1036,362 1062,351 1088,337 1113,325 1139,325 1164,337 1190,362 1216,385 1241,409 1267,437 1293,468 1318,516 1344,547 1369,568 1395,576 1421,576 1446,580 1472,581 1498,583 1523,569 1549,559 1574,552 1600,551 1626,552 1651,551 1677,558 1702,553 1728,552 1754,550 1779,550 1805,548 1831,550 1856,552 1882,549 1907,550 1933,554 1959,559 1984,567 2010,563 2036,568 2061,562 2087,564 2112,561 2138,563 2164,563 2189,563 2215,552 2241,560 2266,565 2292,573 2317,574 2333,571" stroke="#0059d3"/>
<polyline points="857,562 883,556 908,539 934,493 959,438 985,399 1011,380 1036,369 1062,360 1088,339 1113,327 1139,328 1164,343 1190,369 1216,391 1241,415 1267,440 1293,471 1318,514 1344,551 1369,569 1395,578 1421,581 1446,578 1472,576 1498,580 1523,566 1549,558 1574,549 1600,548 1626,548 1651,550 1677,553 1702,551 1728,551 1754,551 1779,550 1805,549 1831,551 1856,549 1882,552 1907,547 1933,553 1959,560 1984,564 2010,564 2036,562 2061,560 2087,561 2112,559 2138,561 2164,561 2189,563 2215,553 2241,552 2266,561 2292,571 2317,573 2333,571" stroke="#005bd2"/>
<polyline points="857,562 883,561 908,540 934,496 959,447 985,406 1011,387 1036,375 1062,363 1088,345 1113,329 1139,328 1164,343 1190,362 1216,384 1241,412 1267,441 1293,474 1318,516 1344,550 1369,567 1395,577 1421,585 1446,585 1472,586 1498,585 1523,567 1549,558 1574,551 1600,549 1626,548 1651,552 1677,550 1702,554 1728,550 1754,551 1779,550 1805,552 1831,554 1856,556 1882,555 1907,555 1933,559 1959,565 1984,565 2010,564 2036,563 2061,563 2087,562 2112,562 2138,565 2164,567 2189,561 2215,552 2241,558 2266,565 2292,578 2317,580 2333,577" stroke="#005dd1"/>
<polyline points="857,573 883,567 908,545 934,503 959,450 985,406 1011,385 1036,374 1062,361 1088,342 1113,331 1139,336 1164,343 1190,368 1216,391 1241,414 1267,434 1293,471 1318,507 1344,545 1369,564 1395,579 1421,583 1446,583 1472,587 1498,582 1523,574 1549,558 1574,555 1600,554 1626,551 1651,547 1677,551 1702,548 1728,552 1754,554 1779,553 1805,550 1831,556 1856,551 1882,551 1907,554 1933,554 1959,560 1984,564 2010,565 2036,561 2061,565 2087,562 2112,561 2138,569 2164,564 2189,569 2215,557 2241,560 2266,570 2292,573 2317,575 2333,572" stroke="#005ed0"/>
<polyline points="857,562 883,556 908,544 934,502 959,449 985,401 1011,382 1036,368 1062,356 1088,339 1113,329 1139,327 1164,336 1190,359 1216,380 1241,406 1267,428 1293,464 1318,507 1344,548 1369,570 1395,577 1421,584 1446,578 1472,582 1498,576 1523,570 1549,556 1574,552 1600,551 1626,554 1651,551 1677,554 1702,550 1728,551 1754,556 1779,551 1805,548 1831,550 1856,551 1882,552 1907,550 1933,556 1959,560 1984,566 2010,562 2036,566 2061,562 2087,565 2112,563 2138,563 2164,567 2189,568 2215,554 2241,557 2266,563 2292,568 2317,571 2333,569" stroke="#0060cf"/>
<polyline points="857,563 883,556 908,539 934,505 959,456 985,416 1011,394 1036,379 1062,366 1088,346 1113,339 1139,333 1164,350 1190,363 1216,382 1241,406 1267,430 1293,463 1318,507 1344,542 1369,564 1395,574 1421,583 1446,577 1472,580 1498,574 1523,569 1549,552 1574,551 1600,549 1626,551 1651,548 1677,551 1702,556 1728,547 1754,554 1779,549 1805,548 1831,547 1856,547 1882,545 1907,545 1933,549 1959,561 1984,562 2010,569 2036,560 2061,562 2087,557 2112,559 2138,560 2164,563 2189,558 2215,554 2241,552 2266,562 2292,570 2317,575 2333,573" stroke="#0062ce"/>
<polyline points="857,566 883,556 908,545 934,504 959,458 985,413 1011,385 1036,372 1062,357 1088,338 1113,329 1139,336 1164,345 1190,363 1216,389 1241,412 1267,438 1293,470 1318,505 1344,540 1369,559 1395,573 1421,573 1446,570 1472,579 1498,572 1523,570 1549,557 1574,549 1600,548 1626,547 1651,549 1677,550 1702,550 1728,550 1754,549 1779,550 1805,543 1831,548 1856,543 1882,545 1907,545 1933,553 1959,558 1984,564 2010,564 2036,562 2061,565 2087,560 2112,562 2138,563 2164,563 2189,564 2215,554 2241,551 2266,563 2292,568 2317,571 2333,568" stroke="#0064cd"/>
<polyline points="857,550 883,544 908,527 934,492 959,446 985,408 1011,383 1036,368 1062,359 1088,344 1113,333 1139,336 1164,351 1190,376 1216,396 1241,417 1267,434 1293,473 1318,510 1344,542 1369,556 1395,560 1421,569 1446,574 1472,574 1498,572 1523,561 1549,555 1574,556 1600,550 1626,548 1651,545 1677,546 1702,547 1728,552 1754,548 1779,547 1805,552 1831,545 1856,545 1882,543 1907,540 1933,550 1959,557 1984,557 2010,556 2036,554 2061,559 2087,555 2112,556 2138,557 2164,560 2189,560 2215,558 2241,554 2266,561 2292,565 2317,571 2333,568" stroke="#0066cc"/>
<polyline points="857,563 883,555 908,531 934,490 959,440 985,402 1011,378 1036,362 1062,350 1088,338 1113,337 1139,342 1164,348 1190,370 1216,391 1241,415 1267,443 1293,475 1318,515 1344,542 1369,562 1395,573 1421,577 1446,575 1472,576 1498,577 1523,564 1549,558 1574,553 1600,546 1626,550 1651,545 1677,546 1702,548 1728,548 1754,546 1779,549 1805,549 1831,550 1856,550 1882,545 1907,544 1933,556 1959,558 1984,565 2010,563 2036,560 2061,559 2087,561 2112,557 2138,560 2164,565 2189,557 2215,550 2241,556 2266,557 2292,571 2317,569 2333,565" stroke="#0068cb"/>
<polyline points="857,557 883,549 908,540 934,506 959,459 985,414 1011,383 1036,364 1062,352 1088,335 1113,324 1139,327 1164,337 1190,355 1216,376 1241,400 1267,424 1293,457 1318,500 1344,533 1369,559 1395,569 1421,573 1446,576 1472,581 1498,581 1523,573 1549,557 1574,552 1600,553 1626,546 1651,545 1677,549 1702,547 1728,546 1754,548 1779,546 1805,545 1831,548 1856,549 1882,549 1907,544 1933,550 1959,555 1984,562 2010,559 2036,560 2061,559 2087,554 2112,554 2138,560 2164,561 2189,559 2215,556 2241,552 2266,561 2292,562 2317,571 2333,572" stroke="#006aca"/>
<polyline points="857,558 883,548 908,532 934,497 959,449 985,412 1011,385 1036,367 1062,355 1088,335 1113,333 1139,335 1164,346 1190,366 1216,389 1241,412 1267,437 1293,473 1318,511 1344,544 1369,565 1395,571 1421,576 1446,574 1472,576 1498,580 1523,563 1549,559 1574,552 1600,551 1626,547 1651,546 1677,546 1702,544 1728,543 1754,541 1779,542 1805,541 1831,549 1856,547 1882,545 1907,550 1933,553 1959,556 1984,558 2010,559 2036,558 2061,558 2087,556 2112,557 2138,557 2164,559 2189,556 2215,551 2241,553 2266,558 2292,565 2317,566 2333,565" stroke="#006cc9"/>
<polyline points="857,558 883,560 908,544 934,511 959,465 985,418 1011,389 1036,374 1062,362 1088,345 1113,340 1139,345 1164,359 1190,377 1216,400 1241,421 1267,443 1293,467 1318,503 1344,533 1369,558 1395,570 1421,576 1446,577 1472,580 1498,575 1523,567 1549,559 1574,554 1600,545 1626,545 1651,544 1677,544 1702,549 1728,548 1754,548 1779,549 1805,548 1831,549 1856,554 1882,547 1907,541 1933,546 1959,547 1984,560 2010,559 2036,563 2061,563 2087,561 2112,557 2138,557 2164,563 2189,557 2215,550 2241,550 2266,560 2292,565 2317,568 2333,571" stroke="#006ec8"/>
<polyline points="857,556 883,548 908,534 934,505 959,458 985,419 1011,392 1036,373 1062,358 1088,344 1113,344 1139,346 1164,353 1190,379 1216,400 1241,423 1267,445 1293,479 1318,506 1344,534 1369,550 1395,565 1421,565 1446,575 1472,573 1498,576 1523,565 1549,560 1574,555 1600,547 1626,548 1651,539 1677,540 1702,543 1728,544 1754,543 1779,545 1805,543 1831,545 1856,551 1882,548 1907,546 1933,550 1959,552 1984,556 2010,557 2036,554 2061,552 2087,555 2112,554 2138,561 2164,558 2189,562 2215,554 2241,551 2266,558 2292,562 2317,561 2333,563" stroke="#006fc7"/>
<polyline points="857,556 883,550 908,537 934,513 959,466 985,422 1011,395 1036,374 1062,359 1088,344 1113,335 1139,337 1164,350 1190,369 1216,390 1241,409 1267,432 1293,461 1318,494 1344,528 1369,554 1395,564 1421,569 1446,571 1472,575 1498,576 1523,563 1549,557 1574,556 1600,550 1626,552 1651,550 1677,550 1702,546 1728,545 1754,544 1779,542 1805,545 1831,540 1856,550 1882,545 1907,544 1933,550 1959,552 1984,559 2010,556 2036,554 2061,557 2087,558 2112,557 2138,559 2164,559 2189,557 2215,554 2241,549 2266,555 2292,565 2317,569 2333,567" stroke="#0071c6"/>
<polyline points="857,563 883,557 908,541 934,507 959,458 985,418 1011,395 1036,377 1062,361 1088,344 1113,335 1139,337 1164,349 1190,367 1216,394 1241,418 1267,446 1293,472 1318,510 1344,542 1369,566 1395,578 1421,582 1446,580 1472,574 1498,575 1523,566 1549,561 1574,554 1600,553 1626,550 1651,546 1677,544 1702,545 1728,544 1754,550 1779,551 1805,551 1831,551 1856,550 1882,551 1907,549 1933,557 1959,554 1984,566 2010,557 2036,559 2061,556 2087,557 2112,557 2138,558 2164,562 2189,561 2215,557 2241,558 2266,565 2292,572 2317,571 2333,568" stroke="#0073c5"/>
<polyline points="857,563 883,561 908,551 934,514 959,468 985,432 1011,408 1036,387 1062,370 1088,354 1113,347 1139,352 1164,363 1190,378 1216,394 1241,418 1267,447 1293,475 1318,516 1344,542 1369,565 1395,574 1421,583 1446,583 1472,582 1498,577 1523,571 1549,561 1574,563 1600,554 1626,549 1651,546 1677,546 1702,552 1728,549 1754,549 1779,544 1805,546 1831,549 1856,550 1882,553 1907,557 1933,559 1959,566 1984,563 2010,566 2036,565 2061,558 2087,558 2112,559 2138,558 2164,566 2189,564 2215,555 2241,557 2266,562 2292,573 2317,571 2333,567" stroke="#0075c4"/>
<polyline points="857,563 883,559 908,547 934,519 959,472 985,435 1011,404 1036,391 1062,377 1088,362 1113,351 1139,360 1164,366 1190,386 1216,403 1241,431 1267,457 1293,483 1318,517 1344,547 1369,567 1395,581 1421,581 1446,581 1472,579 1498,576 1523,568 1549,565 1574,556 1600,560 1626,549 1651,548 1677,552 1702,548 1728,555 1754,548 1779,551 1805,550 1831,551 1856,554 1882,552 1907,555 1933,557 1959,560 1984,564 2010,565 2036,561 2061,559 2087,562 2112,558 2138,558 2164,563 2189,560 2215,565 2241,558 2266,567 2292,570 2317,573 2333,565" stroke="#0077c3"/>
<polyline points="857,560 883,555 908,541 934,504 959,458 985,420 1011,394 1036,379 1062,364 1088,349 1113,345 1139,351 1164,367 1190,383 1216,406 1241,428 1267,452 1293,483 1318,518 1344,548 1369,571 1395,579 1421,578 1446,576 1472,580 1498,583 1523,567 1549,559 1574,555 1600,555 1626,553 1651,547 1677,546 1702,537 1728,549 1754,549 1779,547 1805,548 1831,547 1856,544 1882,544 1907,553 1933,554 1959,557 1984,560 2010,557 2036,557 2061,563 2087,561 2112,561 2138,564 2164,563 2189,560 2215,559 2241,561 2266,559 2292,567 2317,565 2333,569" stroke="#0079c3"/>
<polyline points="857,560 883,557 908,545 934,518 959,467 985,424 1011,397 1036,380 1062,364 1088,352 1113,337 1139,343 1164,355 1190,372 1216,400 1241,420 1267,442 1293,473 1318,508 1344,543 1369,565 1395,580 1421,579 1446,576 1472,580 1498,578 1523,570 1549,564 1574,559 1600,554 1626,553 1651,553 1677,551 1702,549 1728,547 1754,547 1779,550 1805,545 1831,548 1856,547 1882,550 1907,545 1933,547 1959,557 1984,560 2010,562 2036,559 2061,559 2087,558 2112,562 2138,563 2164,565 2189,564 2215,557 2241,551 2266,564 2292,566 2317,564 2333,566" stroke="#007bc2"/>
<polyline points="857,564 883,553 908,538 934,512 959,470 985,430 1011,406 1036,387 1062,371 1088,353 1113,350 1139,355 1164,370 1190,383 1216,399 1241,418 1267,447 1293,474 1318,508 1344,537 1369,560 1395,570 1421,574 1446,578 1472,580 1498,577 1523,566 1549,560 1574,557 1600,548 1626,549 1651,546 1677,549 1702,548 1728,547 1754,547 1779,551 1805,546 1831,551 1856,553 1882,547 1907,550 1933,552 1959,560 1984,564 2010,563 2036,560 2061,558 2087,554 2112,559 2138,563 2164,558 2189,559 2215,560 2241,559 2266,564 2292,567 2317,566 2333,565" stroke="#007dc1"/>
<polyline points="857,560 883,558 908,553 934,521 959,477 985,436 1011,405 1036,389 1062,370 1088,360 1113,353 1139,356 1164,364 1190,377 1216,399 1241,426 1267,453 1293,478 1318,509 1344,539 1369,559 1395,571 1421,574 1446,580 1472,579 1498,581 1523,572 1549,563 1574,555 1600,554 1626,549 1651,551 1677,549 1702,551 1728,553 1754,552 1779,546 1805,541 1831,546 1856,549 1882,549 1907,552 1933,556 1959,557 1984,560 2010,562 2036,562 2061,557 2087,562 2112,563 2138,560 2164,560 2189,558 2215,553 2241,553 2266,562 2292,568 2317,567 2333,568" stroke="#007fc0"/>
<polyline points="857,563 883,556 908,549 934,523 959,481 985,435 1011,408 1036,387 1062,371 1088,356 1113,349 1139,349 1164,364 1190,381 1216,402 1241,422 1267,446 1293,477 1318,509 1344,539 1369,561 1395,573 1421,579 1446,576 1472,577 1498,576 1523,566 1549,564 1574,561 1600,558 1626,553 1651,552 1677,552 1702,555 1728,554 1754,547 1779,545 1805,549 1831,543 1856,550 1882,549 1907,549 1933,553 1959,559 1984,564 2010,560 2036,558 2061,562 2087,562 2112,564 2138,562 2164,561 2189,561 2215,558 2241,559 2266,559 2292,563 2317,567 2333,567" stroke="#0080bf"/>
<polyline points="857,559 883,555 908,545 934,520 959,477 985,432 1011,403 1036,377 1062,362 1088,344 1113,341 1139,349 1164,361 1190,384 1216,406 1241,429 1267,451 1293,476 1318,503 1344,530 1369,555 1395,567 1421,575 1446,579 1472,581 1498,577 1523,572 1549,562 1574,559 1600,556 1626,551 1651,548 1677,547 1702,545 1728,547 1754,548 1779,546 1805,542 1831,550 1856,554 1882,551 1907,554 1933,551 1959,556 1984,561 2010,558 2036,560 2061,558 2087,558 2112,559 2138,561 2164,563 2189,559 2215,555 2241,557 2266,556 2292,566 2317,568 2333,570" stroke="#0082be"/>
<polyline points="857,567 883,560 908,542 934,515 959,473 985,435 1011,407 1036,391 1062,368 1088,356 1113,351 1139,359 1164,375 1190,387 1216,409 1241,436 1267,460 1293,487 1318,516 1344,540 1369,567 1395,583 1421,581 1446,584 1472,584 1498,577 1523,569 1549,562 1574,557 1600,554 1626,559 1651,553 1677,548 1702,547 1728,551 1754,553 1779,551 1805,548 1831,551 1856,550 1882,552 1907,555 1933,557 1959,559 1984,559 2010,558 2036,563 2061,560 2087,560 2112,563 2138,564 2164,560 2189,564 2215,562 2241,560 2266,565 2292,567 2317,568 2333,566" stroke="#0084bd"/>
<polyline points="857,562 883,547 908,537 934,509 959,472 985,434 1011,404 1036,385 1062,368 1088,352 1113,349 1139,357 1164,371 1190,386 1216,404 1241,425 1267,450 1293,473 1318,504 1344,533 1369,557 1395,573 1421,578 1446,577 1472,577 1498,579 1523,570 1549,565 1574,561 1600,561 1626,558 1651,553 1677,549 1702,543 1728,543 1754,548 1779,542 1805,547 1831,547 1856,542 1882,551 1907,550 1933,555 1959,559 1984,562 2010,561 2036,555 2061,557 2087,556 2112,556 2138,559 2164,560 2189,556 2215,552 2241,553 2266,560 2292,567 2317,568 2333,568" stroke="#0086bc"/>
<polyline points="857,560 883,557 908,548 934,519 959,477 985,442 1011,407 1036,390 1062,367 1088,355 1113,347 1139,353 1164,364 1190,383 1216,405 1241,429 1267,451 1293,478 1318,506 1344,535 1369,557 1395,571 1421,576 1446,577 1472,575 1498,573 1523,570 1549,561 1574,560 1600,556 1626,553 1651,556 1677,549 1702,545 1728,550 1754,545 1779,545 1805,545 1831,543 1856,543 1882,546 1907,545 1933,549 1959,557 1984,560 2010,559 2036,556 2061,557 2087,556 2112,557 2138,557 2164,556 2189,559 2215,557 2241,557 2266,553 2292,564 2317,565 2333,565" stroke="#0088bb"/>
<polyline points="857,557 883,548 908,530 934,500 959,460 985,419 1011,394 1036,374 1062,361 1088,347 1113,348 1139,356 1164,366 1190,378 1216,401 1241,424 1267,447 1293,476 1318,509 1344,538 1369,562 1395,576 1421,579 1446,576 1472,578 1498,576 1523,567 1549,561 1574,551 1600,551 1626,548 1651,550 1677,546 1702,545 1728,545 1754,550 1779,547 1805,550 1831,540 1856,545 1882,543 1907,544 1933,549 1959,556 1984,558 2010,556 2036,563 2061,555 2087,554 2112,556 2138,560 2164,558 2189,560 2215,555 2241,555 2266,561 2292,561 2317,562 2333,567" stroke="#008aba"/>
<polyline points="857,561 883,551 908,539 934,511 959,472 985,434 1011,399 1036,379 1062,361 1088,344 1113,339 1139,347 1164,354 1190,369 1216,393 1241,409 1267,442 1293,467 1318,501 1344,530 1369,555 1395,572 1421,576 1446,575 1472,574 1498,575 1523,565 1549,558 1574,556 1600,556 1626,546 1651,549 1677,548 1702,546 1728,546 1754,546 1779,545 1805,542 1831,541 1856,548 1882,544 1907,546 1933,550 1959,554 1984,561 2010,560 2036,556 2061,557 2087,550 2112,552 2138,554 2164,558 2189,559 2215,555 2241,556 2266,560 2292,565 2317,567 2333,562" stroke="#008cb9"/>
<polyline points="857,561 883,554 908,548 934,526 959,490 985,447 1011,412 1036,386 1062,370 1088,359 1113,345 1139,349 1164,362 1190,377 1216,398 1241,419 1267,444 1293,470 1318,496 1344,529 1369,555 1395,571 1421,577 1446,577 1472,576 1498,579 1523,567 1549,568 1574,559 1600,553 1626,549 1651,547 1677,548 1702,546 1728,549 1754,545 1779,544 1805,547 1831,540 1856,549 1882,548 1907,548 1933,553 1959,557 1984,562 2010,560 2036,559 2061,556 2087,553 2112,554 2138,553 2164,557 2189,558 2215,563 2241,554 2266,557 2292,565 2317,564 2333,565" stroke="#008eb8"/>
<polyline points="857,557 883,549 908,540 934,514 959,477 985,436 1011,405 1036,384 1062,369 1088,355 1113,351 1139,354 1164,370 1190,383 1216,405 1241,428 1267,457 1293,475 1318,509 1344,533 1369,559 1395,570 1421,578 1446,582 1472,580 1498,576 1523,568 1549,566 1574,556 1600,554 1626,554 1651,545 1677,546 1702,543 1728,540 1754,543 1779,544 1805,541 1831,545 1856,546 1882,548 1907,550 1933,552 1959,557 1984,557 2010,558 2036,560 2061,555 2087,556 2112,558 2138,556 2164,558 2189,562 2215,551 2241,554 2266,561 2292,562 2317,561 2333,564" stroke="#0090b7"/>
<polyline points="857,565 883,556 908,545 934,522 959,484 985,443 1011,414 1036,398 1062,380 1088,370 1113,365 1139,369 1164,378 1190,386 1216,406 1241,428 1267,450 1293,475 1318,505 1344,531 1369,555 1395,570 1421,577 1446,581 1472,587 1498,582 1523,572 1549,567 1574,560 1600,553 1626,552 1651,547 1677,546 1702,546 1728,546 1754,548 1779,549 1805,545 1831,547 1856,551 1882,546 1907,549 1933,554 1959,556 1984,561 2010,557 2036,559 2061,553 2087,555 2112,560 2138,559 2164,566 2189,565 2215,564 2241,558 2266,559 2292,565 2317,561 2333,559" stroke="#0091b6"/>
<polyline points="857,552 883,552 908,538 934,510 959,469 985,427 1011,401 1036,388 1062,370 1088,359 1113,357 1139,364 1164,375 1190,391 1216,411 1241,433 1267,448 1293,474 1318,510 1344,535 1369,554 1395,565 1421,569 1446,578 1472,576 1498,583 1523,566 1549,561 1574,555 1600,551 1626,547 1651,548 1677,542 1702,542 1728,541 1754,544 1779,546 1805,539 1831,542 1856,545 1882,545 1907,554 1933,551 1959,549 1984,554 2010,554 2036,554 2061,550 2087,550 2112,552 2138,552 2164,559 2189,560 2215,556 2241,558 2266,557 2292,560 2317,562 2333,559" stroke="#0093b5"/>
<polyline points="857,562 883,553 908,539 934,515 959,475 985,439 1011,419 1036,397 1062,379 1088,364 1113,361 1139,373 1164,382 1190,403 1216,417 1241,433 1267,458 1293,483 1318,514 1344,537 1369,562 1395,568 1421,568 1446,576 1472,579 1498,577 1523,572 1549,564 1574,560 1600,556 1626,554 1651,546 1677,548 1702,547 1728,540 1754,541 1779,541 1805,543 1831,545 1856,547 1882,549 1907,549 1933,551 1959,557 1984,557 2010,556 2036,559 2061,557 2087,557 2112,557 2138,555 2164,559 2189,558 2215,554 2241,558 2266,556 2292,561 2317,560 2333,562" stroke="#0095b4"/>
<polyline points="857,559 883,558 908,551 934,521 959,483 985,441 1011,410 1036,385 1062,368 1088,355 1113,349 1139,351 1164,364 1190,384 1216,403 1241,426 1267,451 1293,475 1318,500 1344,532 1369,554 1395,567 1421,570 1446,576 1472,572 1498,571 1523,560 1549,558 1574,555 1600,550 1626,548 1651,549 1677,540 1702,549 1728,544 1754,544 1779,543 1805,538 1831,541 1856,541 1882,544 1907,549 1933,547 1959,552 1984,552 2010,554 2036,552 2061,553 2087,553 2112,559 2138,558 2164,557 2189,560 2215,555 2241,551 2266,556 2292,558 2317,559 2333,555" stroke="#0097b3"/>
<polyline points="857,553 883,550 908,548 934,520 959,481 985,442 1011,409 1036,381 1062,365 1088,351 1113,348 1139,357 1164,364 1190,378 1216,399 1241,416 1267,442 1293,467 1318,492 1344,523 1369,547 1395,560 1421,572 1446,572 1472,575 1498,573 1523,567 1549,562 1574,557 1600,556 1626,551 1651,551 1677,546 1702,544 1728,545 1754,540 1779,537 1805,537 1831,537 1856,543 1882,542 1907,545 1933,554 1959,550 1984,550 2010,550 2036,548 2061,549 2087,551 2112,555 2138,556 2164,561 2189,552 2215,554 2241,553 2266,554 2292,558 2317,560 2333,563" stroke="#0099b2"/>
<polyline points="857,557 883,555 908,548 934,524 959,485 985,449 1011,417 1036,394 1062,373 1088,358 1113,348 1139,355 1164,365 1190,381 1216,404 1241,424 1267,449 1293,476 1318,501 1344,527 1369,548 1395,564 1421,568 1446,570 1472,574 1498,571 1523,566 1549,554 1574,555 1600,551 1626,548 1651,548 1677,539 1702,544 1728,543 1754,544 1779,541 1805,541 1831,542 1856,541 1882,545 1907,543 1933,546 1959,545 1984,552 2010,552 2036,550 2061,549 2087,553 2112,555 2138,555 2164,557 2189,555 2215,557 2241,554 2266,554 2292,556 2317,553 2333,554" stroke="#009bb2"/>
<polyline points="857,555 883,549 908,542 934,521 959,483 985,443 1011,411 1036,387 1062,367 1088,354 1113,346 1139,349 1164,360 1190,375 1216,393 1241,414 1267,442 1293,463 1318,497 1344,523 1369,545 1395,559 1421,571 1446,579 1472,577 1498,578 1523,570 1549,563 1574,558 1600,553 1626,549 1651,546 1677,546 1702,540 1728,544 1754,536 1779,536 1805,536 1831,532 1856,536 1882,540 1907,545 1933,550 1959,551 1984,551 2010,554 2036,553 2061,555 2087,554 2112,552 2138,556 2164,551 2189,553 2215,547 2241,550 2266,550 2292,557 2317,550 2333,554" stroke="#009db1"/>
<polyline points="857,557 883,550 908,539 934,518 959,480 985,439 1011,409 1036,383 1062,371 1088,356 1113,351 1139,360 1164,368 1190,379 1216,399 1241,421 1267,445 1293,465 1318,499 1344,525 1369,548 1395,561 1421,568 1446,570 1472,570 1498,567 1523,561 1549,562 1574,558 1600,553 1626,551 1651,547 1677,542 1702,542 1728,542 1754,539 1779,541 1805,540 1831,541 1856,542 1882,544 1907,543 1933,546 1959,552 1984,548 2010,543 2036,547 2061,546 2087,548 2112,552 2138,550 2164,553 2189,553 2215,550 2241,551 2266,556 2292,561 2317,558 2333,559" stroke="#009fb0"/>
<polyline points="857,553 883,550 908,548 934,527 959,487 985,450 1011,415 1036,386 1062,367 1088,353 1113,355 1139,361 1164,374 1190,387 1216,407 1241,433 1267,459 1293,483 1318,505 1344,530 1369,550 1395,559 1421,569 1446,570 1472,573 1498,576 1523,572 1549,569 1574,559 1600,551 1626,551 1651,548 1677,542 1702,542 1728,542 1754,539 1779,537 1805,544 1831,541 1856,543 1882,549 1907,550 1933,553 1959,550 1984,553 2010,548 2036,547 2061,549 2087,552 2112,558 2138,553 2164,559 2189,560 2215,555 2241,555 2266,558 2292,556 2317,556 2333,555" stroke="#00a1af"/>
<polyline points="857,553 883,545 908,543 934,517 959,489 985,454 1011,424 1036,399 1062,380 1088,365 1113,361 1139,362 1164,374 1190,389 1216,404 1241,428 1267,449 1293,475 1318,501 1344,528 1369,548 1395,563 1421,572 1446,569 1472,571 1498,570 1523,564 1549,563 1574,558 1600,555 1626,551 1651,548 1677,543 1702,542 1728,539 1754,545 1779,537 1805,537 1831,541 1856,540 1882,545 1907,547 1933,548 1959,553 1984,558 2010,554 2036,548 2061,551 2087,545 2112,552 2138,558 2164,560 2189,557 2215,560 2241,553 2266,561 2292,555 2317,558 2333,554" stroke="#00a2ae"/>
<polyline points="857,559 883,552 908,549 934,533 959,500 985,463 1011,428 1036,406 1062,390 1088,379 1113,369 1139,371 1164,378 1190,388 1216,408 1241,429 1267,451 1293,476 1318,496 1344,521 1369,542 1395,560 1421,573 1446,571 1472,577 1498,577 1523,569 1549,562 1574,560 1600,552 1626,551 1651,548 1677,548 1702,540 1728,541 1754,539 1779,541 1805,541 1831,541 1856,543 1882,541 1907,546 1933,552 1959,552 1984,555 2010,554 2036,552 2061,551 2087,551 2112,553 2138,554 2164,556 2189,560 2215,560 2241,554 2266,553 2292,553 2317,554 2333,556" stroke="#00a4ad"/>
<polyline points="857,558 883,555 908,550 934,529 959,495 985,456 1011,423 1036,398 1062,378 1088,357 1113,356 1139,363 1164,374 1190,386 1216,404 1241,425 1267,452 1293,478 1318,509 1344,535 1369,554 1395,567 1421,576 1446,579 1472,579 1498,575 1523,563 1549,560 1574,556 1600,552 1626,548 1651,544 1677,540 1702,540 1728,544 1754,545 1779,543 1805,541 1831,541 1856,546 1882,549 1907,550 1933,550 1959,551 1984,555 2010,551 2036,549 2061,551 2087,548 2112,552 2138,554 2164,555 2189,557 2215,559 2241,554 2266,557 2292,559 2317,557 2333,559" stroke="#00a6ac"/>
<polyline points="857,553 883,547 908,542 934,521 959,489 985,452 1011,422 1036,396 1062,380 1088,365 1113,362 1139,367 1164,381 1190,390 1216,403 1241,430 1267,456 1293,480 1318,509 1344,534 1369,553 1395,566 1421,568 1446,569 1472,573 1498,573 1523,564 1549,564 1574,554 1600,557 1626,554 1651,550 1677,550 1702,546 1728,542 1754,540 1779,542 1805,544 1831,538 1856,545 1882,543 1907,546 1933,549 1959,556 1984,559 2010,548 2036,552 2061,554 2087,554 2112,553 2138,550 2164,553 2189,557 2215,557 2241,556 2266,557 2292,559 2317,559 2333,558" stroke="#00a8ab"/>
<polyline points="857,557 883,554 908,549 934,535 959,503 985,467 1011,434 1036,404 1062,392 1088,380 1113,377 1139,383 1164,389 1190,400 1216,415 1241,438 1267,461 1293,480 1318,502 1344,524 1369,547 1395,562 1421,571 1446,571 1472,577 1498,576 1523,570 1549,565 1574,561 1600,557 1626,552 1651,551 1677,547 1702,550 1728,541 1754,544 1779,542 1805,544 1831,544 1856,546 1882,546 1907,549 1933,549 1959,551 1984,555 2010,553 2036,548 2061,551 2087,550 2112,555 2138,552 2164,558 2189,556 2215,553 2241,556 2266,559 2292,559 2317,558 2333,566" stroke="#00aaaa"/>
<polyline points="857,564 883,555 908,547 934,534 959,507 985,467 1011,434 1036,407 1062,387 1088,375 1113,371 1139,372 1164,384 1190,400 1216,415 1241,433 1267,455 1293,478 1318,499 1344,530 1369,550 1395,562 1421,568 1446,569 1472,570 1498,574 1523,574 1549,569 1574,565 1600,554 1626,554 1651,548 1677,546 1702,545 1728,545 1754,541 1779,540 1805,537 1831,541 1856,545 1882,547 1907,548 1933,549 1959,552 1984,552 2010,546 2036,556 2061,551 2087,553 2112,553 2138,554 2164,556 2189,555 2215,559 2241,554 2266,557 2292,554 2317,557 2333,560" stroke="#00aca9"/>
<polyline points="857,562 883,551 908,546 934,535 959,502 985,467 1011,430 1036,405 1062,382 1088,375 1113,368 1139,369 1164,374 1190,387 1216,405 1241,428 1267,451 1293,469 1318,499 1344,522 1369,544 1395,567 1421,575 1446,575 1472,575 1498,574 1523,572 1549,562 1574,560 1600,558 1626,549 1651,548 1677,546 1702,546 1728,548 1754,544 1779,540 1805,542 1831,543 1856,543 1882,543 1907,546 1933,546 1959,552 1984,549 2010,548 2036,549 2061,549 2087,548 2112,552 2138,557 2164,555 2189,556 2215,554 2241,548 2266,554 2292,556 2317,553 2333,556" stroke="#00aea8"/>
<polyline points="857,559 883,553 908,547 934,537 959,506 985,470 1011,434 1036,407 1062,390 1088,380 1113,370 1139,370 1164,377 1190,390 1216,409 1241,431 1267,454 1293,478 1318,498 1344,523 1369,546 1395,560 1421,569 1446,572 1472,571 1498,575 1523,568 1549,563 1574,560 1600,557 1626,554 1651,552 1677,548 1702,543 1728,541 1754,542 1779,541 1805,539 1831,535 1856,542 1882,542 1907,546 1933,550 1959,550 1984,555 2010,551 2036,550 2061,548 2087,548 2112,554 2138,554 2164,556 2189,556 2215,556 2241,554 2266,558 2292,555 2317,552 2333,558" stroke="#00b0a7"/>
<polyline points="857,552 883,547 908,540 934,528 959,498 985,460 1011,420 1036,402 1062,382 1088,371 1113,370 1139,376 1164,384 1190,395 1216,419 1241,439 1267,455 1293,476 1318,498 1344,527 1369,550 1395,563 1421,565 1446,568 1472,574 1498,577 1523,573 1549,563 1574,561 1600,552 1626,557 1651,554 1677,548 1702,543 1728,541 1754,541 1779,538 1805,536 1831,538 1856,536 1882,545 1907,546 1933,549 1959,547 1984,552 2010,550 2036,556 2061,553 2087,553 2112,550 2138,559 2164,560 2189,557 2215,552 2241,554 2266,559 2292,559 2317,557 2333,557" stroke="#00b2a6"/>
<polyline points="857,557 883,551 908,549 934,535 959,504 985,468 1011,432 1036,404 1062,379 1088,365 1113,360 1139,367 1164,376 1190,388 1216,400 1241,427 1267,445 1293,468 1318,492 1344,512 1369,542 1395,556 1421,566 1446,572 1472,574 1498,574 1523,569 1549,564 1574,559 1600,555 1626,557 1651,551 1677,544 1702,541 1728,542 1754,535 1779,535 1805,535 1831,535 1856,538 1882,542 1907,545 1933,543 1959,549 1984,553 2010,552 2036,547 2061,549 2087,552 2112,550 2138,555 2164,552 2189,555 2215,555 2241,556 2266,555 2292,552 2317,556 2333,552" stroke="#00b3a5"/>
<polyline points="857,555 883,549 908,543 934,525 959,496 985,461 1011,423 1036,397 1062,374 1088,361 1113,353 1139,365 1164,372 1190,388 1216,410 1241,430 1267,453 1293,473 1318,501 1344,522 1369,544 1395,556 1421,566 1446,569 1472,576 1498,576 1523,573 1549,566 1574,564 1600,555 1626,552 1651,548 1677,540 1702,537 1728,537 1754,537 1779,538 1805,538 1831,543 1856,538 1882,548 1907,548 1933,550 1959,552 1984,550 2010,550 2036,548 2061,548 2087,554 2112,555 2138,553 2164,555 2189,558 2215,552 2241,556 2266,553 2292,553 2317,553 2333,554" stroke="#00b5a4"/>
<polyline points="857,554 883,553 908,547 934,527 959,494 985,456 1011,425 1036,394 1062,375 1088,363 1113,365 1139,370 1164,388 1190,397 1216,417 1241,436 1267,462 1293,478 1318,506 1344,528 1369,549 1395,563 1421,568 1446,573 1472,576 1498,569 1523,565 1549,564 1574,559 1600,556 1626,552 1651,548 1677,543 1702,536 1728,534 1754,538 1779,538 1805,534 1831,541 1856,541 1882,548 1907,547 1933,549 1959,550 1984,548 2010,545 2036,547 2061,550 2087,554 2112,554 2138,554 2164,556 2189,549 2215,554 2241,554 2266,554 2292,554 2317,553 2333,551" stroke="#00b7a3"/>
<polyline points="857,553 883,547 908,545 934,538 959,506 985,472 1011,430 1036,403 1062,384 1088,374 1113,366 1139,370 1164,377 1190,390 1216,406 1241,428 1267,450 1293,470 1318,489 1344,515 1369,540 1395,558 1421,567 1446,569 1472,576 1498,574 1523,570 1549,565 1574,560 1600,553 1626,552 1651,543 1677,543 1702,548 1728,541 1754,541 1779,536 1805,533 1831,541 1856,540 1882,544 1907,547 1933,544 1959,547 1984,553 2010,550 2036,547 2061,546 2087,547 2112,550 2138,550 2164,552 2189,552 2215,552 2241,553 2266,554 2292,558 2317,554 2333,553" stroke="#00b9a2"/>
<polyline points="857,563 883,551 908,549 934,531 959,508 985,467 1011,430 1036,406 1062,389 1088,375 1113,379 1139,379 1164,392 1190,401 1216,419 1241,441 1267,462 1293,481 1318,500 1344,525 1369,550 1395,565 1421,566 1446,568 1472,574 1498,575 1523,568 1549,563 1574,557 1600,556 1626,554 1651,549 1677,547 1702,545 1728,543 1754,542 1779,540 1805,542 1831,541 1856,538 1882,550 1907,550 1933,552 1959,550 1984,554 2010,545 2036,550 2061,549 2087,549 2112,547 2138,551 2164,557 2189,554 2215,555 2241,551 2266,552 2292,553 2317,555 2333,556" stroke="#00bba2"/>
<polyline points="857,559 883,553 908,548 934,537 959,513 985,479 1011,441 1036,414 1062,388 1088,370 1113,365 1139,369 1164,380 1190,391 1216,406 1241,427 1267,446 1293,467 1318,484 1344,508 1369,533 1395,546 1421,564 1446,570 1472,576 1498,579 1523,574 1549,566 1574,566 1600,556 1626,550 1651,542 1677,546 1702,541 1728,537 1754,540 1779,536 1805,538 1831,539 1856,538 1882,544 1907,548 1933,548 1959,547 1984,551 2010,544 2036,548 2061,541 2087,545 2112,546 2138,549 2164,554 2189,556 2215,559 2241,558 2266,557 2292,551 2317,552 2333,550" stroke="#00bda1"/>
<polyline points="857,558 883,547 908,542 934,524 959,493 985,456 1011,424 1036,397 1062,379 1088,367 1113,364 1139,375 1164,386 1190,394 1216,415 1241,431 1267,447 1293,468 1318,492 1344,516 1369,539 1395,555 1421,559 1446,569 1472,573 1498,568 1523,567 1549,559 1574,556 1600,552 1626,545 1651,542 1677,539 1702,537 1728,537 1754,538 1779,535 1805,534 1831,536 1856,539 1882,539 1907,541 1933,545 1959,547 1984,547 2010,544 2036,545 2061,543 2087,546 2112,546 2138,554 2164,555 2189,551 2215,547 2241,548 2266,548 2292,549 2317,548 2333,551" stroke="#00bfa0"/>
<polyline points="857,556 883,554 908,547 934,533 959,505 985,474 1011,435 1036,411 1062,392 1088,378 1113,374 1139,375 1164,386 1190,396 1216,415 1241,437 1267,457 1293,479 1318,499 1344,521 1369,538 1395,557 1421,562 1446,570 1472,572 1498,574 1523,571 1549,565 1574,558 1600,557 1626,553 1651,546 1677,543 1702,540 1728,538 1754,538 1779,535 1805,530 1831,535 1856,535 1882,540 1907,542 1933,548 1959,546 1984,550 2010,546 2036,548 2061,551 2087,546 2112,554 2138,556 2164,551 2189,555 2215,556 2241,553 2266,554 2292,547 2317,546 2333,545" stroke="#00c19f"/>
<polyline points="857,559 883,553 908,551 934,532 959,504 985,469 1011,438 1036,413 1062,395 1088,383 1113,378 1139,384 1164,392 1190,397 1216,413 1241,434 1267,457 1293,475 1318,499 1344,519 1369,540 1395,553 1421,562 1446,565 1472,571 1498,567 1523,565 1549,564 1574,559 1600,554 1626,551 1651,549 1677,541 1702,541 1728,540 1754,534 1779,538 1805,540 1831,538 1856,539 1882,545 1907,545 1933,547 1959,546 1984,545 2010,539 2036,544 2061,545 2087,544 2112,548 2138,546 2164,550 2189,542 2215,551 2241,549 2266,547 2292,549 2317,549 2333,551" stroke="#00c39e"/>
<polyline points="857,553 883,548 908,549 934,534 959,510 985,475 1011,443 1036,415 1062,393 1088,379 1113,373 1139,380 1164,387 1190,400 1216,414 1241,437 1267,456 1293,469 1318,496 1344,519 1369,537 1395,555 1421,561 1446,565 1472,571 1498,570 1523,568 1549,558 1574,560 1600,559 1626,552 1651,547 1677,542 1702,544 1728,542 1754,540 1779,536 1805,533 1831,532 1856,540 1882,542 1907,548 1933,549 1959,550 1984,548 2010,547 2036,543 2061,543 2087,548 2112,549 2138,549 2164,552 2189,554 2215,556 2241,554 2266,553 2292,550 2317,551 2333,550" stroke="#00c49d"/>
<polyline points="857,556 883,550 908,548 934,533 959,508 985,474 1011,434 1036,407 1062,387 1088,373 1113,372 1139,377 1164,382 1190,400 1216,414 1241,436 1267,460 1293,477 1318,494 1344,522 1369,541 1395,558 1421,563 1446,571 1472,572 1498,571 1523,568 1549,564 1574,555 1600,552 1626,551 1651,548 1677,539 1702,540 1728,537 1754,538 1779,538 1805,533 1831,540 1856,540 1882,541 1907,543 1933,544 1959,546 1984,549 2010,545 2036,540 2061,545 2087,545 2112,548 2138,553 2164,553 2189,551 2215,556 2241,552 2266,551 2292,555 2317,552 2333,553" stroke="#00c69c"/>
<polyline points="857,553 883,543 908,541 934,526 959,502 985,470 1011,440 1036,410 1062,386 1088,382 1113,375 1139,384 1164,389 1190,401 1216,419 1241,442 1267,461 1293,477 1318,502 1344,522 1369,541 1395,555 1421,561 1446,570 1472,565 1498,569 1523,563 1549,562 1574,559 1600,551 1626,549 1651,543 1677,541 1702,533 1728,538 1754,536 1779,534 1805,537 1831,538 1856,544 1882,546 1907,544 1933,545 1959,547 1984,550 2010,545 2036,542 2061,547 2087,548 2112,548 2138,547 2164,551 2189,553 2215,551 2241,550 2266,548 2292,547 2317,546 2333,550" stroke="#00c89b"/>
<polyline points="857,554 883,553 908,550 934,534 959,512 985,480 1011,445 1036,415 1062,394 1088,381 1113,377 1139,381 1164,386 1190,394 1216,413 1241,436 1267,459 1293,479 1318,497 1344,522 1369,542 1395,556 1421,572 1446,569 1472,573 1498,573 1523,568 1549,561 1574,557 1600,550 1626,551 1651,546 1677,541 1702,543 1728,541 1754,537 1779,535 1805,533 1831,535 1856,533 1882,543 1907,547 1933,546 1959,552 1984,551 2010,551 2036,543 2061,547 2087,551 2112,556 2138,554 2164,554 2189,545 2215,555 2241,553 2266,550 2292,550 2317,552 2333,553" stroke="#00ca9a"/>
<polyline points="857,556 883,552 908,545 934,532 959,505 985,475 1011,441 1036,410 1062,386 1088,375 1113,374 1139,379 1164,389 1190,401 1216,414 1241,439 1267,461 1293,482 1318,502 1344,529 1369,545 1395,563 1421,568 1446,575 1472,573 1498,572 1523,565 1549,566 1574,558 1600,558 1626,544 1651,546 1677,544 1702,543 1728,540 1754,537 1779,534 1805,538 1831,538 1856,540 1882,542 1907,542 1933,548 1959,550 1984,554 2010,547 2036,545 2061,548 2087,552 2112,552 2138,553 2164,554 2189,553 2215,552 2241,551 2266,547 2292,552 2317,551 2333,549" stroke="#00cc99"/>
<polyline points="857,551 883,552 908,544 934,526 959,501 985,470 1011,442 1036,410 1062,389 1088,378 1113,379 1139,384 1164,396 1190,415 1216,428 1241,450 1267,464 1293,484 1318,504 1344,531 1369,548 1395,559 1421,567 1446,569 1472,573 1498,574 1523,570 1549,562 1574,558 1600,553 1626,549 1651,542 1677,543 1702,541 1728,537 1754,539 1779,533 1805,533 1831,543 1856,537 1882,542 1907,546 1933,546 1959,548 1984,548 2010,541 2036,548 2061,545 2087,549 2112,551 2138,554 2164,555 2189,550 2215,553 2241,553 2266,551 2292,555 2317,553 2333,554" stroke="#00ce98"/>
<polyline points="857,551 883,551 908,546 934,537 959,516 985,490 1011,456 1036,426 1062,402 1088,387 1113,383 1139,389 1164,396 1190,408 1216,424 1241,440 1267,459 1293,475 1318,494 1344,516 1369,537 1395,553 1421,566 1446,567 1472,574 1498,573 1523,566 1549,564 1574,560 1600,555 1626,553 1651,545 1677,544 1702,541 1728,537 1754,538 1779,530 1805,530 1831,534 1856,541 1882,540 1907,541 1933,544 1959,546 1984,546 2010,544 2036,541 2061,543 2087,547 2112,546 2138,552 2164,549 2189,553 2215,555 2241,554 2266,553 2292,551 2317,550 2333,549" stroke="#00d097"/>
<polyline points="857,556 883,553 908,546 934,544 959,523 985,498 1011,465 1036,431 1062,408 1088,393 1113,383 1139,389 1164,396 1190,406 1216,416 1241,433 1267,456 1293,477 1318,495 1344,516 1369,542 1395,554 1421,568 1446,574 1472,581 1498,578 1523,575 1549,566 1574,558 1600,558 1626,554 1651,548 1677,541 1702,540 1728,538 1754,540 1779,538 1805,538 1831,541 1856,543 1882,547 1907,549 1933,549 1959,548 1984,554 2010,548 2036,543 2061,547 2087,551 2112,553 2138,552 2164,553 2189,553 2215,554 2241,556 2266,554 2292,551 2317,554 2333,554" stroke="#00d296"/>
<polyline points="857,563 883,554 908,547 934,542 959,519 985,495 1011,459 1036,432 1062,409 1088,396 1113,392 1139,399 1164,405 1190,416 1216,429 1241,446 1267,468 1293,486 1318,504 1344,525 1369,546 1395,560 1421,566 1446,573 1472,574 1498,577 1523,571 1549,565 1574,560 1600,560 1626,551 1651,549 1677,548 1702,540 1728,541 1754,543 1779,543 1805,536 1831,539 1856,541 1882,545 1907,545 1933,553 1959,552 1984,551 2010,544 2036,543 2061,550 2087,548 2112,553 2138,550 2164,557 2189,560 2215,555 2241,557 2266,555 2292,557 2317,555 2333,556" stroke="#00d495"/>
<polyline points="857,558 883,558 908,554 934,538 959,510 985,482 1011,449 1036,418 1062,398 1088,383 1113,379 1139,389 1164,395 1190,412 1216,431 1241,448 1267,470 1293,490 1318,511 1344,532 1369,553 1395,560 1421,570 1446,569 1472,573 1498,571 1523,562 1549,560 1574,561 1600,554 1626,550 1651,545 1677,540 1702,543 1728,545 1754,545 1779,539 1805,535 1831,536 1856,535 1882,543 1907,548 1933,547 1959,548 1984,547 2010,544 2036,547 2061,551 2087,554 2112,552 2138,551 2164,555 2189,551 2215,554 2241,550 2266,552 2292,546 2317,551 2333,553" stroke="#00d594"/>
<polyline points="857,556 883,550 908,545 934,532 959,516 985,489 1011,456 1036,429 1062,407 1088,388 1113,388 1139,394 1164,401 1190,412 1216,424 1241,445 1267,466 1293,482 1318,502 1344,524 1369,547 1395,557 1421,565 1446,570 1472,571 1498,569 1523,564 1549,563 1574,554 1600,554 1626,551 1651,544 1677,541 1702,539 1728,539 1754,541 1779,535 1805,531 1831,536 1856,538 1882,542 1907,548 1933,548 1959,550 1984,549 2010,539 2036,540 2061,542 2087,550 2112,548 2138,553 2164,552 2189,554 2215,553 2241,557 2266,550 2292,549 2317,551 2333,555" stroke="#00d793"/>
<polyline points="857,558 883,557 908,549 934,536 959,518 985,490 1011,460 1036,430 1062,407 1088,396 1113,394 1139,398 1164,405 1190,419 1216,432 1241,455 1267,474 1293,490 1318,514 1344,532 1369,551 1395,560 1421,564 1446,574 1472,573 1498,576 1523,569 1549,562 1574,559 1600,557 1626,550 1651,544 1677,547 1702,543 1728,539 1754,539 1779,540 1805,534 1831,539 1856,543 1882,545 1907,544 1933,548 1959,549 1984,554 2010,549 2036,545 2061,548 2087,550 2112,552 2138,551 2164,553 2189,558 2215,551 2241,557 2266,558 2292,557 2317,555 2333,554" stroke="#00d992"/>
<polyline points="857,559 883,553 908,548 934,542 959,525 985,510 1011,479 1036,446 1062,418 1088,400 1113,394 1139,398 1164,406 1190,410 1216,423 1241,439 1267,464 1293,483 1318,498 1344,518 1369,538 1395,557 1421,565 1446,571 1472,573 1498,575 1523,569 1549,568 1574,563 1600,555 1626,550 1651,546 1677,539 1702,543 1728,539 1754,541 1779,538 1805,537 1831,535 1856,544 1882,541 1907,542 1933,551 1959,549 1984,552 2010,549 2036,544 2061,546 2087,547 2112,550 2138,557 2164,556 2189,556 2215,557 2241,555 2266,554 2292,552 2317,556 2333,552" stroke="#00db91"/>
<polyline points="857,551 883,549 908,549 934,539 959,522 985,504 1011,470 1036,441 1062,415 1088,403 1113,401 1139,405 1164,412 1190,427 1216,439 1241,455 1267,473 1293,489 1318,503 1344,523 1369,542 1395,557 1421,565 1446,573 1472,578 1498,574 1523,569 1549,564 1574,559 1600,557 1626,555 1651,546 1677,540 1702,542 1728,542 1754,539 1779,537 1805,534 1831,539 1856,539 1882,545 1907,548 1933,549 1959,549 1984,548 2010,552 2036,547 2061,549 2087,549 2112,551 2138,551 2164,554 2189,557 2215,559 2241,550 2266,552 2292,547 2317,549 2333,548" stroke="#00dd90"/>
<polyline points="857,557 883,552 908,549 934,536 959,516 985,494 1011,464 1036,434 1062,406 1088,391 1113,388 1139,396 1164,403 1190,413 1216,434 1241,453 1267,470 1293,488 1318,507 1344,526 1369,548 1395,561 1421,565 1446,572 1472,571 1498,567 1523,562 1549,565 1574,557 1600,548 1626,549 1651,544 1677,538 1702,542 1728,543 1754,543 1779,536 1805,532 1831,537 1856,545 1882,548 1907,545 1933,548 1959,547 1984,544 2010,539 2036,540 2061,546 2087,545 2112,546 2138,545 2164,547 2189,546 2215,549 2241,554 2266,554 2292,550 2317,553 2333,552" stroke="#00df90"/>
<polyline points="857,556 883,551 908,543 934,536 959,517 985,496 1011,459 1036,427 1062,404 1088,388 1113,390 1139,394 1164,409 1190,420 1216,431 1241,451 1267,469 1293,488 1318,506 1344,525 1369,543 1395,561 1421,563 1446,576 1472,570 1498,570 1523,569 1549,560 1574,559 1600,557 1626,550 1651,541 1677,540 1702,540 1728,539 1754,539 1779,538 1805,531 1831,535 1856,542 1882,542 1907,546 1933,550 1959,547 1984,549 2010,548 2036,545 2061,546 2087,549 2112,548 2138,550 2164,551 2189,551 2215,556 2241,552 2266,547 2292,547 2317,550 2333,549" stroke="#00e18f"/>
<polyline points="857,555 883,550 908,548 934,542 959,528 985,508 1011,474 1036,438 1062,411 1088,395 1113,385 1139,389 1164,397 1190,407 1216,422 1241,448 1267,463 1293,486 1318,499 1344,523 1369,540 1395,553 1421,562 1446,566 1472,570 1498,575 1523,564 1549,559 1574,555 1600,554 1626,554 1651,548 1677,549 1702,540 1728,542 1754,542 1779,534 1805,530 1831,539 1856,534 1882,543 1907,546 1933,548 1959,544 1984,550 2010,545 2036,544 2061,553 2087,547 2112,551 2138,547 2164,552 2189,548 2215,547 2241,555 2266,550 2292,549 2317,547 2333,547" stroke="#00e38e"/>
<polyline points="857,555 883,552 908,547 934,542 959,529 985,514 1011,484 1036,444 1062,419 1088,401 1113,394 1139,396 1164,399 1190,408 1216,420 1241,441 1267,460 1293,477 1318,495 1344,512 1369,530 1395,550 1421,563 1446,565 1472,572 1498,571 1523,568 1549,563 1574,564 1600,557 1626,553 1651,547 1677,541 1702,536 1728,544 1754,541 1779,539 1805,530 1831,535 1856,536 1882,541 1907,543 1933,543 1959,540 1984,543 2010,543 2036,539 2061,544 2087,550 2112,551 2138,549 2164,552 2189,555 2215,556 2241,552 2266,552 2292,553 2317,550 2333,552" stroke="#00e58d"/>
<polyline points="857,554 883,547 908,544 934,539 959,524 985,509 1011,481 1036,445 1062,417 1088,399 1113,395 1139,399 1164,403 1190,412 1216,425 1241,447 1267,465 1293,480 1318,497 1344,517 1369,540 1395,557 1421,566 1446,575 1472,571 1498,570 1523,567 1549,563 1574,557 1600,552 1626,545 1651,545 1677,532 1702,539 1728,534 1754,539 1779,528 1805,521 1831,531 1856,538 1882,538 1907,544 1933,546 1959,549 1984,548 2010,546 2036,546 2061,544 2087,547 2112,552 2138,552 2164,551 2189,551 2215,547 2241,551 2266,546 2292,546 2317,548 2333,547" stroke="#00e68c"/>
<polyline points="857,555 883,554 908,550 934,541 959,529 985,508 1011,477 1036,444 1062,416 1088,395 1113,395 1139,398 1164,406 1190,415 1216,427 1241,448 1267,465 1293,481 1318,504 1344,521 1369,540 1395,554 1421,564 1446,575 1472,575 1498,579 1523,571 1549,562 1574,566 1600,555 1626,553 1651,544 1677,537 1702,540 1728,542 1754,539 1779,537 1805,529 1831,534 1856,536 1882,545 1907,544 1933,542 1959,546 1984,541 2010,542 2036,547 2061,545 2087,547 2112,551 2138,551 2164,557 2189,550 2215,553 2241,554 2266,548 2292,547 2317,552 2333,552" stroke="#00e88b"/>
<polyline points="857,557 883,554 908,555 934,545 959,529 985,516 1011,496 1036,456 1062,420 1088,398 1113,393 1139,390 1164,400 1190,403 1216,415 1241,439 1267,460 1293,476 1318,489 1344,512 1369,538 1395,557 1421,564 1446,574 1472,576 1498,578 1523,570 1549,565 1574,563 1600,560 1626,553 1651,548 1677,539 1702,538 1728,538 1754,540 1779,532 1805,530 1831,532 1856,534 1882,538 1907,543 1933,541 1959,544 1984,548 2010,548 2036,540 2061,542 2087,550 2112,553 2138,549 2164,548 2189,551 2215,554 2241,557 2266,552 2292,548 2317,549 2333,551" stroke="#00ea8a"/>
<polyline points="857,560 883,550 908,550 934,543 959,532 985,512 1011,480 1036,447 1062,424 1088,408 1113,401 1139,403 1164,413 1190,425 1216,438 1241,457 1267,475 1293,491 1318,512 1344,533 1369,547 1395,559 1421,568 1446,571 1472,576 1498,574 1523,567 1549,561 1574,558 1600,558 1626,550 1651,544 1677,540 1702,542 1728,539 1754,540 1779,529 1805,532 1831,536 1856,540 1882,545 1907,546 1933,546 1959,546 1984,550 2010,548 2036,544 2061,546 2087,552 2112,551 2138,552 2164,552 2189,555 2215,553 2241,559 2266,552 2292,553 2317,550 2333,551" stroke="#00ec89"/>
<polyline points="857,559 883,551 908,550 934,548 959,542 985,531 1011,496 1036,455 1062,426 1088,408 1113,401 1139,406 1164,412 1190,418 1216,431 1241,451 1267,476 1293,491 1318,504 1344,521 1369,542 1395,553 1421,563 1446,568 1472,572 1498,573 1523,564 1549,560 1574,563 1600,558 1626,556 1651,551 1677,542 1702,542 1728,547 1754,538 1779,538 1805,532 1831,533 1856,540 1882,543 1907,542 1933,550 1959,555 1984,549 2010,545 2036,546 2061,550 2087,549 2112,550 2138,554 2164,551 2189,551 2215,553 2241,557 2266,552 2292,553 2317,550 2333,552" stroke="#00ee88"/>
<polyline points="857,551 883,553 908,545 934,537 959,529 985,516 1011,491 1036,453 1062,427 1088,412 1113,404 1139,411 1164,418 1190,426 1216,439 1241,459 1267,477 1293,492 1318,505 1344,526 1369,539 1395,554 1421,565 1446,570 1472,576 1498,569 1523,566 1549,559 1574,558 1600,554 1626,552 1651,550 1677,542 1702,544 1728,543 1754,545 1779,537 1805,537 1831,540 1856,538 1882,542 1907,548 1933,547 1959,547 1984,543 2010,541 2036,541 2061,547 2087,544 2112,549 2138,550 2164,552 2189,551 2215,553 2241,559 2266,554 2292,552 2317,555 2333,551" stroke="#00f087"/>
<polyline points="857,549 883,546 908,544 934,539 959,527 985,513 1011,483 1036,446 1062,420 1088,401 1113,396 1139,403 1164,414 1190,415 1216,427 1241,448 1267,469 1293,482 1318,501 1344,523 1369,540 1395,555 1421,566 1446,569 1472,576 1498,571 1523,566 1549,567 1574,557 1600,551 1626,551 1651,546 1677,540 1702,538 1728,538 1754,539 1779,536 1805,533 1831,536 1856,536 1882,540 1907,544 1933,548 1959,548 1984,547 2010,543 2036,546 2061,545 2087,546 2112,549 2138,547 2164,549 2189,556 2215,552 2241,551 2266,553 2292,547 2317,547 2333,549" stroke="#00f286"/>
<polyline points="857,548 883,547 908,545 934,540 959,528 985,518 1011,491 1036,456 1062,426 1088,403 1113,397 1139,403 1164,407 1190,415 1216,425 1241,446 1267,461 1293,480 1318,501 1344,517 1369,533 1395,549 1421,563 1446,569 1472,572 1498,576 1523,565 1549,560 1574,560 1600,554 1626,546 1651,541 1677,535 1702,538 1728,539 1754,539 1779,532 1805,531 1831,537 1856,539 1882,543 1907,543 1933,546 1959,548 1984,545 2010,544 2036,542 2061,543 2087,547 2112,545 2138,546 2164,551 2189,553 2215,554 2241,551 2266,552 2292,545 2317,549 2333,547" stroke="#00f485"/>
<polyline points="857,554 883,550 908,546 934,543 959,529 985,514 1011,487 1036,452 1062,423 1088,409 1113,401 1139,403 1164,413 1190,421 1216,434 1241,455 1267,465 1293,485 1318,499 1344,521 1369,541 1395,556 1421,562 1446,568 1472,573 1498,571 1523,567 1549,565 1574,561 1600,551 1626,555 1651,545 1677,543 1702,542 1728,537 1754,542 1779,532 1805,525 1831,535 1856,537 1882,539 1907,549 1933,548 1959,548 1984,544 2010,545 2036,547 2061,550 2087,550 2112,551 2138,550 2164,553 2189,550 2215,551 2241,553 2266,550 2292,543 2317,548 2333,551" stroke="#00f684"/>
<polyline points="857,553 883,553 908,550 934,549 959,538 985,528 1011,508 1036,465 1062,428 1088,407 1113,397 1139,398 1164,408 1190,418 1216,432 1241,451 1267,467 1293,482 1318,498 1344,512 1369,531 1395,551 1421,562 1446,567 1472,573 1498,573 1523,572 1549,567 1574,559 1600,551 1626,551 1651,546 1677,540 1702,537 1728,538 1754,544 1779,537 1805,531 1831,532 1856,540 1882,541 1907,542 1933,544 1959,549 1984,545 2010,543 2036,543 2061,545 2087,547 2112,550 2138,551 2164,553 2189,552 2215,554 2241,555 2266,548 2292,547 2317,549 2333,550" stroke="#00f783"/>
<polyline points="857,559 883,556 908,556 934,551 959,539 985,533 1011,512 1036,467 1062,431 1088,409 1113,397 1139,398 1164,406 1190,411 1216,424 1241,444 1267,468 1293,484 1318,502 1344,521 1369,541 1395,553 1421,565 1446,570 1472,577 1498,575 1523,571 1549,566 1574,557 1600,553 1626,551 1651,547 1677,541 1702,543 1728,543 1754,546 1779,540 1805,533 1831,540 1856,543 1882,545 1907,541 1933,550 1959,551 1984,543 2010,545 2036,540 2061,545 2087,546 2112,552 2138,551 2164,554 2189,554 2215,555 2241,556 2266,549 2292,546 2317,550 2333,551" stroke="#00f982"/>
<polyline points="857,551 883,545 908,546 934,545 959,540 985,529 1011,506 1036,464 1062,428 1088,408 1113,399 1139,401 1164,406 1190,414 1216,427 1241,449 1267,469 1293,482 1318,498 1344,515 1369,538 1395,550 1421,560 1446,567 1472,571 1498,569 1523,568 1549,568 1574,560 1600,559 1626,550 1651,541 1677,541 1702,542 1728,540 1754,539 1779,531 1805,530 1831,535 1856,543 1882,537 1907,544 1933,544 1959,544 1984,546 2010,545 2036,541 2061,544 2087,546 2112,548 2138,553 2164,553 2189,554 2215,551 2241,547 2266,547 2292,548 2317,545 2333,548" stroke="#00fb81"/>
<polyline points="857,546 883,544 908,544 934,539 959,536 985,525 1011,493 1036,453 1062,422 1088,402 1113,398 1139,401 1164,407 1190,410 1216,431 1241,450 1267,466 1293,484 1318,499 1344,522 1369,538 1395,553 1421,567 1446,573 1472,577 1498,573 1523,568 1549,561 1574,555 1600,550 1626,545 1651,541 1677,538 1702,538 1728,536 1754,541 1779,536 1805,531 1831,535 1856,543 1882,542 1907,542 1933,544 1959,548 1984,542 2010,541 2036,534 2061,544 2087,550 2112,549 2138,549 2164,551 2189,549 2215,552 2241,550 2266,538 2292,546 2317,547 2333,550" stroke="#00fd80"/>
<polyline points="857,550 883,545 908,543 934,539 959,541 985,528 1011,506 1036,462 1062,427 1088,410 1113,409 1139,413 1164,417 1190,421 1216,434 1241,452 1267,473 1293,485 1318,501 1344,522 1369,535 1395,550 1421,564 1446,568 1472,573 1498,570 1523,563 1549,559 1574,558 1600,556 1626,547 1651,539 1677,535 1702,542 1728,541 1754,541 1779,534 1805,523 1831,534 1856,538 1882,540 1907,542 1933,543 1959,544 1984,541 2010,541 2036,541 2061,543 2087,545 2112,546 2138,548 2164,549 2189,550 2215,552 2241,550 2266,544 2292,546 2317,548 2333,550" stroke="#00ff80"/>
</g>
<path d="M857 199.9V630.7H2330.1" fill="none" stroke="#3a3a3a" stroke-width="1.6"/>
<path d="M857 631.6h11" stroke="#3a3a3a" stroke-width="1.5"/>
<text x="846.5" y="639.6" font-size="22.4" fill="#404040" text-anchor="end">-100</text>
<path d="M857 560.5h11" stroke="#3a3a3a" stroke-width="1.5"/>
<text x="846.5" y="568.5" font-size="22.4" fill="#404040" text-anchor="end">0</text>
<path d="M857 488.4h11" stroke="#3a3a3a" stroke-width="1.5"/>
<text x="846.5" y="496.4" font-size="22.4" fill="#404040" text-anchor="end">100</text>
<path d="M857 416.3h11" stroke="#3a3a3a" stroke-width="1.5"/>
<text x="846.5" y="424.3" font-size="22.4" fill="#404040" text-anchor="end">200</text>
<path d="M857 344.2h11" stroke="#3a3a3a" stroke-width="1.5"/>
<text x="846.5" y="352.2" font-size="22.4" fill="#404040" text-anchor="end">300</text>
<path d="M857 272.1h11" stroke="#3a3a3a" stroke-width="1.5"/>
<text x="846.5" y="280.1" font-size="22.4" fill="#404040" text-anchor="end">400</text>
<path d="M857 199.9h11" stroke="#3a3a3a" stroke-width="1.5"/>
<text x="846.5" y="207.9" font-size="22.4" fill="#404040" text-anchor="end">500</text>
<path d="M857 630.9v-11" stroke="#3a3a3a" stroke-width="1.5"/>
<text x="857" y="662.8" font-size="22.4" fill="#404040" text-anchor="middle">0</text>
<path d="M993.3 630.9v-11" stroke="#3a3a3a" stroke-width="1.5"/>
<text x="993.3" y="662.8" font-size="22.4" fill="#404040" text-anchor="middle">100</text>
<path d="M1129.6 630.9v-11" stroke="#3a3a3a" stroke-width="1.5"/>
<text x="1129.6" y="662.8" font-size="22.4" fill="#404040" text-anchor="middle">200</text>
<path d="M1265.8 630.9v-11" stroke="#3a3a3a" stroke-width="1.5"/>
<text x="1265.8" y="662.8" font-size="22.4" fill="#404040" text-anchor="middle">300</text>
<path d="M1402.1 630.9v-11" stroke="#3a3a3a" stroke-width="1.5"/>
<text x="1402.1" y="662.8" font-size="22.4" fill="#404040" text-anchor="middle">400</text>
<path d="M1538.4 630.9v-11" stroke="#3a3a3a" stroke-width="1.5"/>
<text x="1538.4" y="662.8" font-size="22.4" fill="#404040" text-anchor="middle">500</text>
<path d="M1674.7 630.9v-11" stroke="#3a3a3a" stroke-width="1.5"/>
<text x="1674.7" y="662.8" font-size="22.4" fill="#404040" text-anchor="middle">600</text>
<path d="M1811 630.9v-11" stroke="#3a3a3a" stroke-width="1.5"/>
<text x="1811" y="662.8" font-size="22.4" fill="#404040" text-anchor="middle">700</text>
<path d="M1947.2 630.9v-11" stroke="#3a3a3a" stroke-width="1.5"/>
<text x="1947.2" y="662.8" font-size="22.4" fill="#404040" text-anchor="middle">800</text>
<path d="M2083.5 630.9v-11" stroke="#3a3a3a" stroke-width="1.5"/>
<text x="2083.5" y="662.8" font-size="22.4" fill="#404040" text-anchor="middle">900</text>
<path d="M2219.8 630.9v-11" stroke="#3a3a3a" stroke-width="1.5"/>
<text x="2219.8" y="662.8" font-size="22.4" fill="#404040" text-anchor="middle">1000</text>
<text x="1594" y="705.5" font-size="36" fill="#404040" text-anchor="middle">Cardiac Time (ms)</text>
<text transform="translate(778 415.5) rotate(-90)" font-size="36.1" fill="#404040" text-anchor="middle">Flow (mL/s)</text>
<rect x="2351.4" y="199.8" width="35" height="431.1" fill="url(#winter)" stroke="#2a2a2a" stroke-width="1.5"/>
<text x="2247.9" y="178.2" font-size="36.1" fill="#1a1a1a" text-anchor="start">Point number</text>
<text x="2397.4" y="643.9" font-size="35.3" fill="#1a1a1a" text-anchor="start">15</text>
<path d="M2381 523.2H2386.4" stroke="#2a2a2a" stroke-width="1.5"/>
<text x="2397.4" y="536.1" font-size="35.3" fill="#1a1a1a" text-anchor="start">49</text>
<path d="M2381 415.5H2386.4" stroke="#2a2a2a" stroke-width="1.5"/>
<text x="2397.4" y="428.4" font-size="35.3" fill="#1a1a1a" text-anchor="start">83</text>
<path d="M2381 307.8H2386.4" stroke="#2a2a2a" stroke-width="1.5"/>
<text x="2397.4" y="320.6" font-size="35.3" fill="#1a1a1a" text-anchor="start">116</text>
<text x="2397.4" y="212.9" font-size="35.3" fill="#1a1a1a" text-anchor="start">150</text>
<rect x="907.5" y="755.5" width="282.7" height="34.9" fill="url(#pop)" stroke="#b9b9bd" stroke-width="1.6"/><path d="M906.7 792.7H1192.5V756.7" fill="none" stroke="#e6e6e8" stroke-width="2"/><path d="M1172.5 770.5h14l-7 7.5z" fill="#1a1a1a"/><text x="911.7" y="780.7" font-size="21.6" fill="#303030" text-anchor="start">Cross-correlation</text>
<rect x="1244.7" y="751.7" width="507.6" height="58.7" fill="url(#btn)"/><rect x="1244.7" y="751.7" width="14" height="58.7" fill="url(#btnl)"/><rect x="1738.3" y="751.7" width="14" height="58.7" fill="url(#btnr)"/><path d="M1246.2 808.4V753.2H1750.3" fill="none" stroke="#fbfbfb" stroke-width="3"/><path d="M1245.7 809.2H1751.1V753.7" fill="none" stroke="#9a9ca6" stroke-width="2.4"/><path d="M1247.7 806.6H1748.5V755.7" fill="none" stroke="#d4d4d6" stroke-width="3"/><text x="1498.5" y="790.4" font-size="25.9" fill="#303030" text-anchor="middle">Calculate PWV</text>
<rect x="908" y="827" width="846.5" height="312" fill="#fff"/>
<path d="M908 1129.1L1717.5 839.5" stroke="#3a8fd0" stroke-width="1.7" fill="none"/>
<g fill="#111"><circle cx="913.1" cy="1133.8" r="2.55"/><circle cx="916.9" cy="1133.8" r="2.55"/><circle cx="927.1" cy="1133.8" r="2.55"/><circle cx="932.2" cy="1133.8" r="2.55"/><circle cx="941.1" cy="1139" r="2.55"/><circle cx="947.5" cy="1139" r="2.55"/><circle cx="953.1" cy="1139" r="2.55"/><circle cx="958.9" cy="1133.8" r="2.55"/><circle cx="964.8" cy="1139" r="2.55"/><circle cx="970.9" cy="1139" r="2.55"/><circle cx="977.3" cy="1133.8" r="2.55"/><circle cx="983.1" cy="1133.8" r="2.55"/><circle cx="989.5" cy="1133.8" r="2.55"/><circle cx="995.3" cy="1133.8" r="2.55"/><circle cx="1006" cy="1123.4" r="2.55"/><circle cx="1011.1" cy="1123.4" r="2.55"/><circle cx="1016.2" cy="1123.4" r="2.55"/><circle cx="1023.9" cy="1118.2" r="2.55"/><circle cx="1031" cy="1118.2" r="2.55"/><circle cx="1038.4" cy="1118.2" r="2.55"/><circle cx="1045.5" cy="1087" r="2.55"/><circle cx="1053.2" cy="1076.6" r="2.55"/><circle cx="1058.3" cy="1066.2" r="2.55"/><circle cx="1067.2" cy="1092.2" r="2.55"/><circle cx="1072.8" cy="1087" r="2.55"/><circle cx="1078.1" cy="1081.8" r="2.55"/><circle cx="1086.8" cy="1071.4" r="2.55"/><circle cx="1092.1" cy="1055.8" r="2.55"/><circle cx="1097.7" cy="1061" r="2.55"/><circle cx="1102.8" cy="1050.6" r="2.55"/><circle cx="1110.5" cy="1045.4" r="2.55"/><circle cx="1115" cy="1045.4" r="2.55"/><circle cx="1122.7" cy="1050.6" r="2.55"/><circle cx="1130.1" cy="1040.2" r="2.55"/><circle cx="1137.5" cy="1024.6" r="2.55"/><circle cx="1144.8" cy="1009" r="2.55"/><circle cx="1150.4" cy="1003.8" r="2.55"/><circle cx="1158.8" cy="998.6" r="2.55"/><circle cx="1163.9" cy="998.6" r="2.55"/><circle cx="1172.1" cy="1009" r="2.55"/><circle cx="1177.2" cy="1003.8" r="2.55"/><circle cx="1184.8" cy="972.6" r="2.55"/><circle cx="1191.9" cy="962.2" r="2.55"/><circle cx="1199.6" cy="977.8" r="2.55"/><circle cx="1204.7" cy="988.2" r="2.55"/><circle cx="1209.8" cy="988.2" r="2.55"/><circle cx="1214.9" cy="983" r="2.55"/><circle cx="1220.5" cy="993.4" r="2.55"/><circle cx="1227.6" cy="1014.2" r="2.55"/><circle cx="1233.2" cy="1003.8" r="2.55"/><circle cx="1240.3" cy="988.2" r="2.55"/><circle cx="1245.4" cy="983" r="2.55"/><circle cx="1250.5" cy="988.2" r="2.55"/><circle cx="1258.2" cy="998.6" r="2.55"/><circle cx="1263.8" cy="993.4" r="2.55"/><circle cx="1268.9" cy="988.2" r="2.55"/><circle cx="1276" cy="977.8" r="2.55"/><circle cx="1281.1" cy="977.8" r="2.55"/><circle cx="1287.4" cy="988.2" r="2.55"/><circle cx="1292.5" cy="988.2" r="2.55"/><circle cx="1298.9" cy="993.4" r="2.55"/><circle cx="1304" cy="993.4" r="2.55"/><circle cx="1311.6" cy="983" r="2.55"/><circle cx="1316.7" cy="977.8" r="2.55"/><circle cx="1302.7" cy="993.4" r="2.55"/><circle cx="1311.6" cy="983" r="2.55"/><circle cx="1317.5" cy="977.8" r="2.55"/><circle cx="1323.1" cy="983" r="2.55"/><circle cx="1328.2" cy="967.4" r="2.55"/><circle cx="1333.3" cy="962.2" r="2.55"/><circle cx="1338.4" cy="962.2" r="2.55"/><circle cx="1344" cy="962.2" r="2.55"/><circle cx="1349.3" cy="957" r="2.55"/><circle cx="1354.9" cy="951.8" r="2.55"/><circle cx="1360.5" cy="967.4" r="2.55"/><circle cx="1365.9" cy="972.6" r="2.55"/><circle cx="1371" cy="977.8" r="2.55"/><circle cx="1376.1" cy="972.6" r="2.55"/><circle cx="1382.9" cy="951.8" r="2.55"/><circle cx="1388" cy="957" r="2.55"/><circle cx="1393.1" cy="957" r="2.55"/><circle cx="1398.2" cy="957" r="2.55"/><circle cx="1404.1" cy="962.2" r="2.55"/><circle cx="1409.2" cy="957" r="2.55"/><circle cx="1414.8" cy="946.6" r="2.55"/><circle cx="1419.9" cy="941.4" r="2.55"/><circle cx="1425" cy="946.6" r="2.55"/><circle cx="1430.6" cy="931" r="2.55"/><circle cx="1435.7" cy="915.4" r="2.55"/><circle cx="1441" cy="925.8" r="2.55"/><circle cx="1446.1" cy="931" r="2.55"/><circle cx="1455.5" cy="925.8" r="2.55"/><circle cx="1460.6" cy="920.6" r="2.55"/><circle cx="1465.7" cy="925.8" r="2.55"/><circle cx="1473.4" cy="936.2" r="2.55"/><circle cx="1478.4" cy="941.4" r="2.55"/><circle cx="1483.5" cy="936.2" r="2.55"/><circle cx="1489.1" cy="925.8" r="2.55"/><circle cx="1495.8" cy="925.8" r="2.55"/><circle cx="1501.4" cy="915.4" r="2.55"/><circle cx="1507" cy="910.2" r="2.55"/><circle cx="1511.6" cy="910.2" r="2.55"/><circle cx="1517.2" cy="899.8" r="2.55"/><circle cx="1522.2" cy="915.4" r="2.55"/><circle cx="1530.1" cy="905" r="2.55"/><circle cx="1535" cy="879" r="2.55"/><circle cx="1540.1" cy="873.8" r="2.55"/><circle cx="1547.7" cy="868.6" r="2.55"/><circle cx="1552.8" cy="868.6" r="2.55"/><circle cx="1558.2" cy="884.2" r="2.55"/><circle cx="1563.2" cy="879" r="2.55"/><circle cx="1572.7" cy="884.2" r="2.55"/><circle cx="1578.3" cy="889.4" r="2.55"/><circle cx="1582.9" cy="889.4" r="2.55"/><circle cx="1588.5" cy="884.2" r="2.55"/><circle cx="1594.3" cy="899.8" r="2.55"/><circle cx="1600.7" cy="899.8" r="2.55"/><circle cx="1606.5" cy="884.2" r="2.55"/><circle cx="1611.6" cy="884.2" r="2.55"/><circle cx="1618.5" cy="879" r="2.55"/><circle cx="1623.6" cy="884.2" r="2.55"/><circle cx="1629.2" cy="889.4" r="2.55"/><circle cx="1636.3" cy="894.6" r="2.55"/><circle cx="1641.9" cy="894.6" r="2.55"/><circle cx="1647" cy="884.2" r="2.55"/><circle cx="1654.2" cy="884.2" r="2.55"/><circle cx="1659.8" cy="879" r="2.55"/><circle cx="1665.6" cy="873.8" r="2.55"/><circle cx="1670.7" cy="868.6" r="2.55"/><circle cx="1675.8" cy="863.4" r="2.55"/><circle cx="1681.4" cy="868.6" r="2.55"/><circle cx="1687.8" cy="873.8" r="2.55"/><circle cx="1693.6" cy="868.6" r="2.55"/><circle cx="1698.7" cy="868.6" r="2.55"/><circle cx="1704.3" cy="863.4" r="2.55"/><circle cx="1711.5" cy="863.4" r="2.55"/><circle cx="1717.1" cy="858.2" r="2.55"/></g>
<path d="M908 827V1139H1754.5" fill="none" stroke="#3a3a3a" stroke-width="1.6"/>
<path d="M908 1139h8.5" stroke="#3a3a3a" stroke-width="1.5"/>
<text x="896.8" y="1147.2" font-size="20.5" fill="#404040" text-anchor="end">0</text>
<path d="M908 1087h8.5" stroke="#3a3a3a" stroke-width="1.5"/>
<text x="896.8" y="1095.2" font-size="20.5" fill="#404040" text-anchor="end">10</text>
<path d="M908 1035h8.5" stroke="#3a3a3a" stroke-width="1.5"/>
<text x="896.8" y="1043.2" font-size="20.5" fill="#404040" text-anchor="end">20</text>
<path d="M908 983h8.5" stroke="#3a3a3a" stroke-width="1.5"/>
<text x="896.8" y="991.2" font-size="20.5" fill="#404040" text-anchor="end">30</text>
<path d="M908 931h8.5" stroke="#3a3a3a" stroke-width="1.5"/>
<text x="896.8" y="939.2" font-size="20.5" fill="#404040" text-anchor="end">40</text>
<path d="M908 879h8.5" stroke="#3a3a3a" stroke-width="1.5"/>
<text x="896.8" y="887.2" font-size="20.5" fill="#404040" text-anchor="end">50</text>
<path d="M908 827h8.5" stroke="#3a3a3a" stroke-width="1.5"/>
<text x="896.8" y="835.2" font-size="20.5" fill="#404040" text-anchor="end">60</text>
<path d="M908 1139v-8.5" stroke="#3a3a3a" stroke-width="1.5"/>
<text x="908" y="1168.6" font-size="20.5" fill="#404040" text-anchor="middle">0</text>
<path d="M1013.8 1139v-8.5" stroke="#3a3a3a" stroke-width="1.5"/>
<text x="1013.8" y="1168.6" font-size="20.5" fill="#404040" text-anchor="middle">50</text>
<path d="M1119.6 1139v-8.5" stroke="#3a3a3a" stroke-width="1.5"/>
<text x="1119.6" y="1168.6" font-size="20.5" fill="#404040" text-anchor="middle">100</text>
<path d="M1225.4 1139v-8.5" stroke="#3a3a3a" stroke-width="1.5"/>
<text x="1225.4" y="1168.6" font-size="20.5" fill="#404040" text-anchor="middle">150</text>
<path d="M1331.2 1139v-8.5" stroke="#3a3a3a" stroke-width="1.5"/>
<text x="1331.2" y="1168.6" font-size="20.5" fill="#404040" text-anchor="middle">200</text>
<path d="M1437.1 1139v-8.5" stroke="#3a3a3a" stroke-width="1.5"/>
<text x="1437.1" y="1168.6" font-size="20.5" fill="#404040" text-anchor="middle">250</text>
<path d="M1542.9 1139v-8.5" stroke="#3a3a3a" stroke-width="1.5"/>
<text x="1542.9" y="1168.6" font-size="20.5" fill="#404040" text-anchor="middle">300</text>
<path d="M1648.7 1139v-8.5" stroke="#3a3a3a" stroke-width="1.5"/>
<text x="1648.7" y="1168.6" font-size="20.5" fill="#404040" text-anchor="middle">350</text>
<path d="M1754.5 1139v-8.5" stroke="#3a3a3a" stroke-width="1.5"/>
<text x="1754.5" y="1168.6" font-size="20.5" fill="#404040" text-anchor="middle">400</text>
<text x="1331" y="1197.5" font-size="23.4" fill="#404040" text-anchor="middle">distance (mm)</text>
<text transform="translate(857.5 983) rotate(-90)" font-size="23.3" fill="#404040" text-anchor="middle">cross-corr delay (ms)</text>
<rect x="926.4" y="842.8" width="166" height="53" fill="#fff" stroke="#262626" stroke-width="1.5"/>
<circle cx="966" cy="857.3" r="2.55" fill="#111"/>
<path d="M933 881.5H999.5" stroke="#3a8fd0" stroke-width="1.7"/>
<text x="1005.5" y="864.3" font-size="18.9" fill="#404040" text-anchor="start">delays</text>
<text x="1005.5" y="888.3" font-size="18.9" fill="#404040" text-anchor="start">linear fit</text>
<rect x="1795" y="808.6" width="317" height="33.2" fill="#f0f0f0"/><text x="1953.5" y="830.9" font-size="26.2" fill="#303030" text-anchor="middle">Calculated PWV (m/s)</text>
<rect x="1834.6" y="843.9" width="239" height="41.5" fill="#fff" stroke="#9094b4" stroke-width="2"/><path d="M1834.3 885.9V843.6H2074.1" fill="none" stroke="#6f7499" stroke-width="1.4"/><text x="1954.1" y="873.1" font-size="26.2" fill="#303030" text-anchor="middle">6.827</text>
<rect x="2158.6" y="816.8" width="257.1" height="33.9" fill="#f0f0f0"/><text x="2287.1" y="839.2" font-size="25.3" fill="#303030" text-anchor="middle">Saving</text>
<rect x="2144" y="877.2" width="282.2" height="36.3" fill="url(#pop)" stroke="#b9b9bd" stroke-width="1.6"/><path d="M2143.2 915.8H2428.5V878.4" fill="none" stroke="#e6e6e8" stroke-width="2"/><path d="M2408.5 892.8h14l-7 7.5z" fill="#1a1a1a"/><text x="2148.2" y="902.8" font-size="20.7" fill="#303030" text-anchor="start">Global PWV</text>
<rect x="1827.5" y="949" width="256.8" height="32.8" fill="#f0f0f0"/><text x="1955.9" y="971.1" font-size="26" fill="#303030" text-anchor="middle">Linear Fit RMSE</text>
<rect x="1834.6" y="985.6" width="239" height="42" fill="#fff" stroke="#9094b4" stroke-width="2"/><path d="M1834.3 1028.1V985.3H2074.1" fill="none" stroke="#6f7499" stroke-width="1.4"/><text x="1954.1" y="1015" font-size="26.2" fill="#303030" text-anchor="middle">3.9143</text>
<rect x="2140.7" y="956" width="294.7" height="59.7" fill="url(#btn)"/><rect x="2140.7" y="956" width="14" height="59.7" fill="url(#btnl)"/><rect x="2421.4" y="956" width="14" height="59.7" fill="url(#btnr)"/><path d="M2142.2 1013.7V957.5H2433.4" fill="none" stroke="#fbfbfb" stroke-width="3"/><path d="M2141.7 1014.5H2434.2V958" fill="none" stroke="#9a9ca6" stroke-width="2.4"/><path d="M2143.7 1011.9H2431.6V960" fill="none" stroke="#d4d4d6" stroke-width="3"/><rect x="2141.8" y="957.1" width="292.5" height="57.5" fill="none" stroke="#b0548a" stroke-width="2.2"/><text x="2288.1" y="994.9" font-size="25" fill="#303030" text-anchor="middle">Save</text>
</g>
<g transform="translate(0 1224.2) scale(1 0.9975)">
<rect x="178.4" y="4.3" width="557.6" height="40.6" fill="#f0f0f0"/><text x="472.7" y="31.6" font-size="29.2" fill="#303030" text-anchor="middle">3D view</text>
<rect x="15.8" y="61.4" width="31.9" height="1116.7" fill="url(#winter)" stroke="#2a2a2a" stroke-width="1.5"/>
<text x="58.3" y="1190.4" font-size="34.6" fill="#1a1a1a" text-anchor="start">0</text>
<path d="M37 1041.7H47.7" stroke="#2a2a2a" stroke-width="1.5"/>
<text x="58.3" y="1054" font-size="34.6" fill="#1a1a1a" text-anchor="start">10</text>
<path d="M37 905.3H47.7" stroke="#2a2a2a" stroke-width="1.5"/>
<text x="58.3" y="917.6" font-size="34.6" fill="#1a1a1a" text-anchor="start">20</text>
<path d="M37 768.9H47.7" stroke="#2a2a2a" stroke-width="1.5"/>
<text x="58.3" y="781.2" font-size="34.6" fill="#1a1a1a" text-anchor="start">30</text>
<path d="M37 632.4H47.7" stroke="#2a2a2a" stroke-width="1.5"/>
<text x="58.3" y="644.7" font-size="34.6" fill="#1a1a1a" text-anchor="start">40</text>
<path d="M37 496H47.7" stroke="#2a2a2a" stroke-width="1.5"/>
<text x="58.3" y="508.3" font-size="34.6" fill="#1a1a1a" text-anchor="start">50</text>
<path d="M37 359.6H47.7" stroke="#2a2a2a" stroke-width="1.5"/>
<text x="58.3" y="371.9" font-size="34.6" fill="#1a1a1a" text-anchor="start">60</text>
<path d="M37 223.2H47.7" stroke="#2a2a2a" stroke-width="1.5"/>
<text x="58.3" y="235.5" font-size="34.6" fill="#1a1a1a" text-anchor="start">70</text>
<path d="M37 86.8H47.7" stroke="#2a2a2a" stroke-width="1.5"/>
<text x="58.3" y="99.1" font-size="34.6" fill="#1a1a1a" text-anchor="start">80</text>
<text transform="translate(139.5 619) rotate(-90)" font-size="33.1" fill="#262626" text-anchor="middle">Flow (mL/cycle)</text>
<text x="1121.8" y="62.5" style="font-family:'Liberation Sans',sans-serif" font-weight="bold" font-size="51.4" fill="#000" text-anchor="middle" textLength="364" lengthAdjust="spacingAndGlyphs">Marfan patient</text>
<rect x="938.8" y="67" width="366" height="3" fill="#000"/>
<rect x="1699" y="22" width="510" height="33.4" fill="#f0f0f0"/><text x="1954" y="44.1" font-size="25.2" fill="#303030" text-anchor="middle">Set PWV measurement points</text>
<rect x="1644.6" y="74.3" width="256.4" height="33.6" fill="#f0f0f0"/><text x="1772.8" y="95" font-size="21" fill="#303030" text-anchor="middle">PWV points</text>
<rect x="1963.5" y="67" width="251.5" height="42.7" fill="#fff" stroke="#9094b4" stroke-width="2"/><path d="M1963.2 110.2V66.7H2215.5" fill="none" stroke="#6f7499" stroke-width="1.4"/><text x="2089.2" y="96.6" font-size="25.7" fill="#303030" text-anchor="middle">15: 139</text>
<rect x="1388.2" y="135.4" width="506.5" height="59.8" fill="url(#btn)"/><rect x="1388.2" y="135.4" width="14" height="59.8" fill="url(#btnl)"/><rect x="1880.7" y="135.4" width="14" height="59.8" fill="url(#btnr)"/><path d="M1389.7 193.2V136.9H1892.7" fill="none" stroke="#fbfbfb" stroke-width="3"/><path d="M1389.2 194H1893.5V137.4" fill="none" stroke="#9a9ca6" stroke-width="2.4"/><path d="M1391.2 191.4H1890.9V139.4" fill="none" stroke="#d4d4d6" stroke-width="3"/><text x="1641.5" y="174.8" font-size="26.3" fill="#303030" text-anchor="middle">Examine flow waveforms</text>
<rect x="856.5" y="199.5" width="1476.1" height="431.9" fill="#fff"/>
<g clip-path="url(#clipA)" fill="none" stroke-width="3.7" stroke-opacity="0.72" stroke-linejoin="round">
<polyline points="857,573 882,576 907,527 932,460 956,378 981,295 1006,266 1031,252 1056,226 1081,216 1106,217 1131,226 1155,237 1180,257 1205,296 1230,325 1255,358 1280,388 1305,421 1330,455 1354,493 1379,537 1404,575 1429,602 1454,594 1479,581 1504,572 1528,565 1553,559 1578,550 1603,545 1628,544 1653,548 1678,549 1703,552 1727,552 1752,556 1777,564 1802,559 1827,554 1852,545 1877,550 1902,549 1926,554 1951,562 1976,560 2001,561 2026,564 2051,570 2076,562 2100,565 2125,567 2150,554 2175,552 2200,550 2225,546 2250,547 2275,557 2299,564 2324,563 2333,570" stroke="#0000ff"/>
<polyline points="857,583 882,582 907,542 932,479 956,399 981,314 1006,286 1031,269 1056,248 1081,238 1106,238 1131,248 1155,253 1180,272 1205,305 1230,341 1255,376 1280,409 1305,434 1330,466 1354,506 1379,540 1404,574 1429,593 1454,590 1479,574 1504,567 1528,564 1553,559 1578,560 1603,564 1628,563 1653,559 1678,556 1703,558 1727,562 1752,556 1777,559 1802,561 1827,553 1852,551 1877,558 1902,559 1926,562 1951,563 1976,575 2001,572 2026,574 2051,570 2076,569 2100,555 2125,549 2150,541 2175,540 2200,539 2225,553 2250,562 2275,575 2299,579 2324,584 2333,587" stroke="#0002fe"/>
<polyline points="857,569 882,560 907,511 932,446 956,372 981,311 1006,285 1031,273 1056,250 1081,249 1106,250 1131,260 1155,260 1180,283 1205,316 1230,347 1255,379 1280,411 1305,443 1330,477 1354,512 1379,560 1404,594 1429,609 1454,595 1479,578 1504,565 1528,553 1553,553 1578,547 1603,551 1628,542 1653,552 1678,551 1703,560 1727,567 1752,566 1777,567 1802,559 1827,552 1852,549 1877,559 1902,554 1926,559 1951,558 1976,554 2001,563 2026,557 2051,556 2076,565 2100,568 2125,557 2150,555 2175,545 2200,550 2225,568 2250,565 2275,573 2299,570 2324,566 2333,574" stroke="#0004fd"/>
<polyline points="857,575 882,576 907,535 932,471 956,390 981,314 1006,290 1031,274 1056,249 1081,239 1106,246 1131,252 1155,261 1180,281 1205,317 1230,342 1255,371 1280,400 1305,432 1330,464 1354,502 1379,546 1404,581 1429,603 1454,595 1479,579 1504,573 1528,565 1553,556 1578,557 1603,548 1628,554 1653,554 1678,557 1703,564 1727,554 1752,558 1777,559 1802,556 1827,556 1852,552 1877,545 1902,555 1926,558 1951,558 1976,557 2001,563 2026,561 2051,559 2076,557 2100,560 2125,555 2150,558 2175,553 2200,559 2225,560 2250,562 2275,569 2299,573 2324,580 2333,579" stroke="#0006fc"/>
<polyline points="857,563 882,567 907,531 932,475 956,394 981,322 1006,288 1031,279 1056,263 1081,255 1106,259 1131,263 1155,270 1180,283 1205,313 1230,339 1255,368 1280,398 1305,430 1330,456 1354,490 1379,524 1404,565 1429,584 1454,585 1479,577 1504,570 1528,563 1553,565 1578,549 1603,552 1628,552 1653,552 1678,567 1703,564 1727,562 1752,561 1777,551 1802,545 1827,548 1852,548 1877,549 1902,556 1926,557 1951,558 1976,562 2001,565 2026,567 2051,568 2076,564 2100,569 2125,562 2150,551 2175,540 2200,546 2225,545 2250,551 2275,564 2299,561 2324,574 2333,568" stroke="#0008fb"/>
<polyline points="857,574 882,575 907,535 932,477 956,401 981,325 1006,296 1031,285 1056,267 1081,259 1106,256 1131,263 1155,268 1180,281 1205,314 1230,342 1255,368 1280,400 1305,435 1330,461 1354,503 1379,540 1404,573 1429,593 1454,585 1479,574 1504,557 1528,549 1553,546 1578,542 1603,538 1628,538 1653,547 1678,548 1703,550 1727,554 1752,554 1777,566 1802,562 1827,553 1852,558 1877,551 1902,553 1926,562 1951,562 1976,557 2001,554 2026,550 2051,551 2076,548 2100,552 2125,548 2150,549 2175,541 2200,545 2225,561 2250,560 2275,569 2299,564 2324,573 2333,566" stroke="#000afa"/>
<polyline points="857,571 882,574 907,526 932,452 956,375 981,294 1006,269 1031,258 1056,241 1081,241 1106,239 1131,249 1155,260 1180,282 1205,314 1230,343 1255,366 1280,395 1305,421 1330,450 1354,485 1379,525 1404,562 1429,583 1454,578 1479,566 1504,558 1528,547 1553,552 1578,549 1603,549 1628,542 1653,542 1678,551 1703,553 1727,548 1752,552 1777,549 1802,550 1827,539 1852,536 1877,541 1902,545 1926,538 1951,555 1976,558 2001,568 2026,559 2051,561 2076,559 2100,562 2125,551 2150,546 2175,539 2200,535 2225,538 2250,545 2275,553 2299,555 2324,562 2333,567" stroke="#000cf9"/>
<polyline points="857,566 882,567 907,529 932,465 956,391 981,308 1006,281 1031,260 1056,248 1081,236 1106,233 1131,241 1155,254 1180,269 1205,300 1230,326 1255,359 1280,388 1305,421 1330,458 1354,493 1379,530 1404,570 1429,589 1454,585 1479,570 1504,565 1528,556 1553,549 1578,540 1603,543 1628,528 1653,533 1678,552 1703,554 1727,550 1752,553 1777,552 1802,548 1827,549 1852,548 1877,549 1902,555 1926,554 1951,552 1976,552 2001,558 2026,553 2051,562 2076,556 2100,550 2125,551 2150,541 2175,539 2200,540 2225,546 2250,552 2275,557 2299,558 2324,560 2333,562" stroke="#000ef8"/>
<polyline points="857,565 882,567 907,520 932,456 956,384 981,313 1006,292 1031,279 1056,264 1081,252 1106,248 1131,251 1155,259 1180,277 1205,312 1230,343 1255,369 1280,397 1305,427 1330,455 1354,495 1379,537 1404,575 1429,598 1454,592 1479,572 1504,564 1528,557 1553,544 1578,537 1603,540 1628,536 1653,545 1678,554 1703,559 1727,551 1752,560 1777,557 1802,553 1827,549 1852,556 1877,554 1902,559 1926,553 1951,559 1976,559 2001,549 2026,554 2051,550 2076,551 2100,553 2125,549 2150,550 2175,548 2200,548 2225,549 2250,559 2275,559 2299,565 2324,571 2333,569" stroke="#0010f7"/>
<polyline points="857,564 882,566 907,522 932,457 956,381 981,320 1006,315 1031,306 1056,294 1081,283 1106,267 1131,274 1155,287 1180,299 1205,326 1230,344 1255,375 1280,400 1305,427 1330,458 1354,494 1379,534 1404,566 1429,583 1454,575 1479,567 1504,555 1528,554 1553,550 1578,548 1603,551 1628,547 1653,559 1678,556 1703,562 1727,560 1752,560 1777,566 1802,558 1827,547 1852,552 1877,552 1902,544 1926,545 1951,560 1976,555 2001,557 2026,552 2051,551 2076,554 2100,553 2125,547 2150,551 2175,543 2200,545 2225,548 2250,559 2275,567 2299,575 2324,573 2333,569" stroke="#0013f6"/>
<polyline points="857,571 882,576 907,527 932,463 956,381 981,320 1006,309 1031,301 1056,290 1081,273 1106,260 1131,263 1155,274 1180,290 1205,313 1230,335 1255,364 1280,396 1305,419 1330,456 1354,495 1379,534 1404,568 1429,583 1454,578 1479,566 1504,562 1528,559 1553,556 1578,564 1603,544 1628,548 1653,553 1678,550 1703,559 1727,555 1752,558 1777,557 1802,545 1827,544 1852,547 1877,541 1902,543 1926,549 1951,547 1976,545 2001,547 2026,549 2051,548 2076,546 2100,552 2125,553 2150,549 2175,532 2200,551 2225,553 2250,566 2275,565 2299,570 2324,572 2333,570" stroke="#0015f5"/>
<polyline points="857,571 882,572 907,520 932,450 956,374 981,317 1006,299 1031,293 1056,280 1081,261 1106,251 1131,254 1155,261 1180,283 1205,313 1230,338 1255,362 1280,398 1305,429 1330,464 1354,499 1379,541 1404,575 1429,588 1454,579 1479,566 1504,561 1528,553 1553,554 1578,551 1603,558 1628,553 1653,548 1678,553 1703,549 1727,557 1752,549 1777,553 1802,550 1827,551 1852,550 1877,553 1902,552 1926,549 1951,557 1976,556 2001,557 2026,556 2051,550 2076,553 2100,555 2125,549 2150,547 2175,545 2200,550 2225,559 2250,558 2275,567 2299,565 2324,566 2333,563" stroke="#0017f4"/>
<polyline points="857,567 882,556 907,507 932,433 956,359 981,306 1006,298 1031,292 1056,283 1081,266 1106,257 1131,259 1155,276 1180,299 1205,322 1230,352 1255,375 1280,401 1305,429 1330,466 1354,508 1379,551 1404,580 1429,588 1454,577 1479,567 1504,561 1528,554 1553,554 1578,551 1603,545 1628,549 1653,552 1678,549 1703,555 1727,553 1752,554 1777,556 1802,555 1827,549 1852,544 1877,549 1902,545 1926,549 1951,549 1976,551 2001,544 2026,554 2051,554 2076,545 2100,546 2125,543 2150,545 2175,536 2200,547 2225,547 2250,554 2275,561 2299,561 2324,566 2333,575" stroke="#0019f3"/>
<polyline points="857,561 882,565 907,527 932,463 956,381 981,313 1006,299 1031,292 1056,276 1081,264 1106,254 1131,259 1155,270 1180,290 1205,315 1230,341 1255,367 1280,390 1305,420 1330,453 1354,496 1379,538 1404,578 1429,591 1454,587 1479,571 1504,562 1528,558 1553,554 1578,548 1603,552 1628,548 1653,548 1678,542 1703,545 1727,549 1752,545 1777,543 1802,549 1827,544 1852,540 1877,549 1902,543 1926,545 1951,543 1976,544 2001,554 2026,561 2051,558 2076,555 2100,556 2125,550 2150,550 2175,540 2200,543 2225,547 2250,561 2275,563 2299,572 2324,573 2333,573" stroke="#001bf2"/>
<polyline points="857,572 882,565 907,512 932,446 956,367 981,323 1006,314 1031,304 1056,294 1081,280 1106,274 1131,284 1155,293 1180,309 1205,335 1230,357 1255,380 1280,406 1305,442 1330,471 1354,509 1379,550 1404,578 1429,591 1454,584 1479,566 1504,560 1528,550 1553,545 1578,544 1603,539 1628,548 1653,548 1678,558 1703,549 1727,558 1752,555 1777,558 1802,554 1827,550 1852,548 1877,550 1902,554 1926,554 1951,566 1976,565 2001,559 2026,563 2051,569 2076,567 2100,565 2125,558 2150,549 2175,546 2200,548 2225,560 2250,560 2275,564 2299,565 2324,567 2333,570" stroke="#001df1"/>
<polyline points="857,575 882,576 907,536 932,478 956,401 981,330 1006,310 1031,305 1056,290 1081,273 1106,259 1131,262 1155,273 1180,286 1205,307 1230,335 1255,361 1280,389 1305,420 1330,454 1354,491 1379,535 1404,565 1429,589 1454,586 1479,576 1504,566 1528,564 1553,558 1578,548 1603,546 1628,547 1653,545 1678,552 1703,551 1727,553 1752,548 1777,545 1802,549 1827,549 1852,544 1877,550 1902,552 1926,552 1951,550 1976,560 2001,563 2026,563 2051,563 2076,560 2100,552 2125,560 2150,548 2175,543 2200,542 2225,548 2250,550 2275,556 2299,563 2324,559 2333,560" stroke="#001ff0"/>
<polyline points="857,567 882,567 907,549 932,488 956,420 981,343 1006,312 1031,301 1056,295 1081,284 1106,270 1131,270 1155,275 1180,289 1205,308 1230,330 1255,357 1280,382 1305,408 1330,434 1354,469 1379,508 1404,544 1429,569 1454,576 1479,573 1504,565 1528,557 1553,553 1578,553 1603,550 1628,544 1653,550 1678,543 1703,554 1727,557 1752,545 1777,549 1802,546 1827,551 1852,542 1877,543 1902,547 1926,551 1951,556 1976,560 2001,565 2026,554 2051,560 2076,559 2100,550 2125,549 2150,547 2175,529 2200,537 2225,550 2250,550 2275,555 2299,558 2324,559 2333,560" stroke="#0021ef"/>
<polyline points="857,567 882,570 907,527 932,462 956,381 981,315 1006,301 1031,289 1056,278 1081,266 1106,259 1131,263 1155,274 1180,292 1205,319 1230,344 1255,366 1280,397 1305,422 1330,460 1354,496 1379,541 1404,569 1429,584 1454,580 1479,560 1504,558 1528,553 1553,553 1578,548 1603,544 1628,543 1653,545 1678,557 1703,556 1727,563 1752,559 1777,563 1802,563 1827,547 1852,549 1877,551 1902,552 1926,555 1951,554 1976,551 2001,558 2026,552 2051,550 2076,555 2100,549 2125,548 2150,550 2175,548 2200,553 2225,550 2250,559 2275,561 2299,570 2324,570 2333,576" stroke="#0023ee"/>
<polyline points="857,573 882,568 907,523 932,457 956,381 981,331 1006,310 1031,308 1056,293 1081,284 1106,278 1131,280 1155,291 1180,303 1205,327 1230,344 1255,373 1280,403 1305,430 1330,459 1354,503 1379,542 1404,571 1429,586 1454,579 1479,564 1504,561 1528,556 1553,555 1578,547 1603,555 1628,541 1653,555 1678,557 1703,554 1727,560 1752,554 1777,553 1802,546 1827,546 1852,543 1877,547 1902,550 1926,553 1951,555 1976,554 2001,552 2026,555 2051,566 2076,554 2100,563 2125,559 2150,551 2175,558 2200,554 2225,553 2250,557 2275,562 2299,568 2324,559 2333,571" stroke="#0025ec"/>
<polyline points="857,572 882,575 907,533 932,472 956,389 981,325 1006,315 1031,312 1056,306 1081,293 1106,277 1131,286 1155,295 1180,313 1205,336 1230,359 1255,382 1280,403 1305,432 1330,457 1354,492 1379,528 1404,555 1429,577 1454,570 1479,563 1504,555 1528,554 1553,551 1578,553 1603,542 1628,547 1653,554 1678,546 1703,557 1727,551 1752,550 1777,552 1802,547 1827,548 1852,541 1877,547 1902,548 1926,550 1951,551 1976,557 2001,553 2026,564 2051,552 2076,559 2100,557 2125,554 2150,544 2175,544 2200,540 2225,547 2250,556 2275,555 2299,551 2324,564 2333,558" stroke="#0027eb"/>
<polyline points="857,560 882,556 907,514 932,454 956,383 981,331 1006,315 1031,311 1056,302 1081,287 1106,286 1131,292 1155,299 1180,317 1205,343 1230,366 1255,391 1280,414 1305,438 1330,473 1354,505 1379,547 1404,578 1429,588 1454,579 1479,567 1504,555 1528,560 1553,552 1578,549 1603,550 1628,544 1653,550 1678,551 1703,548 1727,553 1752,549 1777,548 1802,540 1827,539 1852,542 1877,547 1902,545 1926,551 1951,541 1976,549 2001,552 2026,556 2051,555 2076,556 2100,553 2125,554 2150,549 2175,546 2200,552 2225,561 2250,562 2275,565 2299,565 2324,564 2333,570" stroke="#0029ea"/>
<polyline points="857,561 882,564 907,545 932,503 956,451 981,400 1006,374 1031,348 1056,334 1081,322 1106,309 1131,302 1155,309 1180,326 1205,348 1230,366 1255,389 1280,402 1305,426 1330,458 1354,489 1379,524 1404,552 1429,571 1454,571 1479,565 1504,562 1528,557 1553,558 1578,555 1603,547 1628,549 1653,552 1678,552 1703,565 1727,555 1752,550 1777,553 1802,547 1827,555 1852,549 1877,549 1902,548 1926,552 1951,550 1976,555 2001,556 2026,550 2051,551 2076,556 2100,553 2125,551 2150,549 2175,548 2200,544 2225,553 2250,559 2275,562 2299,561 2324,571 2333,555" stroke="#002be9"/>
<polyline points="857,565 882,569 907,542 932,498 956,438 981,393 1006,365 1031,343 1056,329 1081,318 1106,303 1131,301 1155,312 1180,334 1205,350 1230,371 1255,388 1280,409 1305,431 1330,459 1354,486 1379,525 1404,560 1429,579 1454,581 1479,570 1504,564 1528,557 1553,556 1578,558 1603,556 1628,554 1653,555 1678,553 1703,556 1727,553 1752,550 1777,555 1802,546 1827,562 1852,553 1877,561 1902,557 1926,558 1951,557 1976,558 2001,554 2026,557 2051,553 2076,556 2100,558 2125,548 2150,550 2175,552 2200,549 2225,552 2250,553 2275,562 2299,563 2324,570 2333,559" stroke="#002de8"/>
<polyline points="857,562 882,566 907,550 932,509 956,459 981,400 1006,376 1031,350 1056,336 1081,324 1106,315 1131,310 1155,313 1180,331 1205,344 1230,365 1255,388 1280,414 1305,435 1330,460 1354,490 1379,522 1404,552 1429,575 1454,575 1479,569 1504,562 1528,558 1553,563 1578,552 1603,551 1628,557 1653,553 1678,558 1703,565 1727,553 1752,555 1777,558 1802,562 1827,554 1852,565 1877,556 1902,549 1926,548 1951,553 1976,551 2001,561 2026,563 2051,549 2076,549 2100,552 2125,549 2150,550 2175,551 2200,550 2225,547 2250,557 2275,557 2299,558 2324,563 2333,562" stroke="#002fe7"/>
<polyline points="857,562 882,562 907,547 932,510 956,464 981,415 1006,386 1031,360 1056,343 1081,331 1106,324 1131,322 1155,330 1180,345 1205,358 1230,376 1255,399 1280,416 1305,438 1330,469 1354,493 1379,521 1404,556 1429,574 1454,580 1479,571 1504,565 1528,555 1553,553 1578,551 1603,549 1628,545 1653,556 1678,556 1703,558 1727,556 1752,550 1777,558 1802,554 1827,561 1852,560 1877,560 1902,544 1926,556 1951,553 1976,561 2001,561 2026,565 2051,555 2076,554 2100,559 2125,554 2150,551 2175,549 2200,551 2225,548 2250,549 2275,556 2299,566 2324,566 2333,557" stroke="#0031e6"/>
<polyline points="857,566 882,568 907,542 932,501 956,453 981,406 1006,380 1031,355 1056,344 1081,332 1106,323 1131,318 1155,330 1180,347 1205,362 1230,381 1255,399 1280,415 1305,437 1330,463 1354,498 1379,528 1404,552 1429,572 1454,576 1479,572 1504,568 1528,568 1553,566 1578,557 1603,558 1628,552 1653,550 1678,558 1703,553 1727,550 1752,549 1777,556 1802,556 1827,555 1852,557 1877,558 1902,556 1926,558 1951,556 1976,553 2001,560 2026,562 2051,562 2076,561 2100,553 2125,546 2150,547 2175,548 2200,548 2225,549 2250,559 2275,559 2299,564 2324,567 2333,562" stroke="#0033e5"/>
<polyline points="857,563 882,562 907,539 932,494 956,448 981,398 1006,376 1031,352 1056,338 1081,321 1106,313 1131,309 1155,313 1180,328 1205,348 1230,364 1255,386 1280,411 1305,439 1330,466 1354,500 1379,536 1404,563 1429,579 1454,579 1479,570 1504,564 1528,563 1553,551 1578,555 1603,549 1628,552 1653,554 1678,553 1703,551 1727,562 1752,555 1777,547 1802,554 1827,552 1852,548 1877,552 1902,551 1926,554 1951,560 1976,555 2001,557 2026,551 2051,561 2076,558 2100,546 2125,553 2150,544 2175,550 2200,546 2225,558 2250,562 2275,562 2299,562 2324,567 2333,560" stroke="#0035e4"/>
<polyline points="857,564 882,567 907,544 932,501 956,446 981,394 1006,371 1031,349 1056,333 1081,321 1106,309 1131,306 1155,313 1180,334 1205,356 1230,378 1255,391 1280,410 1305,434 1330,466 1354,495 1379,531 1404,560 1429,579 1454,574 1479,564 1504,566 1528,558 1553,557 1578,552 1603,546 1628,542 1653,547 1678,558 1703,553 1727,553 1752,554 1777,547 1802,553 1827,549 1852,549 1877,553 1902,552 1926,553 1951,554 1976,556 2001,560 2026,559 2051,558 2076,554 2100,551 2125,545 2150,554 2175,552 2200,545 2225,546 2250,548 2275,553 2299,548 2324,560 2333,561" stroke="#0038e3"/>
<polyline points="857,563 882,568 907,545 932,506 956,459 981,405 1006,377 1031,350 1056,332 1081,316 1106,305 1131,304 1155,312 1180,324 1205,342 1230,362 1255,386 1280,406 1305,433 1330,465 1354,497 1379,529 1404,562 1429,580 1454,581 1479,576 1504,567 1528,559 1553,553 1578,550 1603,548 1628,551 1653,552 1678,552 1703,550 1727,553 1752,552 1777,557 1802,560 1827,557 1852,553 1877,561 1902,554 1926,561 1951,552 1976,551 2001,553 2026,550 2051,550 2076,549 2100,554 2125,544 2150,550 2175,549 2200,554 2225,554 2250,556 2275,563 2299,568 2324,562 2333,569" stroke="#003ae2"/>
<polyline points="857,565 882,563 907,532 932,490 956,439 981,393 1006,365 1031,346 1056,328 1081,312 1106,297 1131,297 1155,311 1180,329 1205,351 1230,368 1255,386 1280,408 1305,433 1330,466 1354,501 1379,536 1404,559 1429,580 1454,579 1479,567 1504,561 1528,561 1553,558 1578,552 1603,555 1628,554 1653,555 1678,552 1703,556 1727,555 1752,553 1777,560 1802,560 1827,550 1852,549 1877,550 1902,551 1926,546 1951,550 1976,554 2001,554 2026,553 2051,553 2076,555 2100,552 2125,549 2150,544 2175,551 2200,553 2225,557 2250,552 2275,564 2299,564 2324,568 2333,567" stroke="#003ce1"/>
<polyline points="857,564 882,564 907,539 932,494 956,439 981,385 1006,359 1031,342 1056,325 1081,315 1106,302 1131,300 1155,311 1180,331 1205,355 1230,378 1255,395 1280,416 1305,437 1330,461 1354,493 1379,531 1404,558 1429,575 1454,573 1479,564 1504,558 1528,548 1553,556 1578,555 1603,549 1628,551 1653,551 1678,558 1703,555 1727,561 1752,555 1777,558 1802,562 1827,557 1852,565 1877,558 1902,555 1926,558 1951,557 1976,552 2001,547 2026,543 2051,550 2076,552 2100,553 2125,554 2150,545 2175,545 2200,554 2225,553 2250,560 2275,563 2299,569 2324,566 2333,568" stroke="#003ee0"/>
<polyline points="857,564 882,569 907,554 932,518 956,471 981,416 1006,380 1031,351 1056,338 1081,327 1106,306 1131,302 1155,310 1180,326 1205,339 1230,361 1255,385 1280,407 1305,428 1330,456 1354,483 1379,516 1404,542 1429,568 1454,574 1479,567 1504,565 1528,563 1553,553 1578,548 1603,553 1628,550 1653,547 1678,554 1703,563 1727,560 1752,558 1777,559 1802,557 1827,557 1852,560 1877,554 1902,554 1926,554 1951,549 1976,546 2001,546 2026,544 2051,554 2076,548 2100,553 2125,552 2150,555 2175,554 2200,546 2225,549 2250,556 2275,562 2299,560 2324,565 2333,563" stroke="#0040df"/>
<polyline points="857,564 882,571 907,551 932,507 956,452 981,401 1006,367 1031,345 1056,328 1081,315 1106,299 1131,297 1155,302 1180,326 1205,343 1230,370 1255,389 1280,406 1305,430 1330,458 1354,491 1379,525 1404,553 1429,572 1454,573 1479,568 1504,564 1528,565 1553,553 1578,547 1603,544 1628,545 1653,548 1678,553 1703,562 1727,561 1752,560 1777,555 1802,553 1827,561 1852,547 1877,556 1902,564 1926,553 1951,549 1976,553 2001,551 2026,559 2051,552 2076,551 2100,546 2125,544 2150,546 2175,558 2200,550 2225,555 2250,560 2275,559 2299,559 2324,565 2333,567" stroke="#0042de"/>
<polyline points="857,558 882,559 907,542 932,502 956,455 981,402 1006,365 1031,341 1056,330 1081,315 1106,308 1131,302 1155,310 1180,326 1205,344 1230,366 1255,382 1280,405 1305,425 1330,452 1354,483 1379,524 1404,555 1429,575 1454,578 1479,572 1504,570 1528,566 1553,567 1578,562 1603,557 1628,552 1653,556 1678,552 1703,556 1727,557 1752,551 1777,554 1802,552 1827,549 1852,556 1877,558 1902,558 1926,560 1951,557 1976,560 2001,560 2026,569 2051,557 2076,560 2100,553 2125,548 2150,557 2175,546 2200,552 2225,552 2250,556 2275,557 2299,555 2324,571 2333,574" stroke="#0044dd"/>
<polyline points="857,554 882,563 907,551 932,513 956,467 981,407 1006,373 1031,348 1056,334 1081,313 1106,302 1131,296 1155,305 1180,315 1205,336 1230,355 1255,374 1280,397 1305,423 1330,451 1354,486 1379,520 1404,550 1429,569 1454,574 1479,568 1504,557 1528,547 1553,548 1578,549 1603,547 1628,545 1653,548 1678,555 1703,558 1727,555 1752,554 1777,555 1802,556 1827,555 1852,548 1877,556 1902,550 1926,543 1951,552 1976,545 2001,541 2026,551 2051,555 2076,559 2100,550 2125,563 2150,553 2175,557 2200,549 2225,549 2250,547 2275,555 2299,553 2324,560 2333,554" stroke="#0046dc"/>
<polyline points="857,555 882,557 907,548 932,519 956,467 981,414 1006,377 1031,352 1056,337 1081,329 1106,314 1131,307 1155,315 1180,322 1205,337 1230,356 1255,373 1280,396 1305,424 1330,451 1354,478 1379,514 1404,543 1429,567 1454,579 1479,579 1504,576 1528,571 1553,550 1578,554 1603,547 1628,542 1653,546 1678,552 1703,557 1727,553 1752,550 1777,550 1802,551 1827,560 1852,556 1877,560 1902,557 1926,551 1951,557 1976,550 2001,550 2026,550 2051,549 2076,553 2100,548 2125,543 2150,549 2175,554 2200,550 2225,559 2250,561 2275,566 2299,562 2324,562 2333,558" stroke="#0048db"/>
<polyline points="857,562 882,564 907,549 932,519 956,473 981,425 1006,392 1031,366 1056,348 1081,333 1106,321 1131,315 1155,320 1180,333 1205,352 1230,366 1255,388 1280,406 1305,432 1330,455 1354,493 1379,523 1404,555 1429,571 1454,581 1479,575 1504,567 1528,561 1553,559 1578,557 1603,554 1628,552 1653,553 1678,559 1703,551 1727,559 1752,556 1777,563 1802,558 1827,552 1852,561 1877,551 1902,553 1926,555 1951,551 1976,551 2001,560 2026,562 2051,554 2076,556 2100,557 2125,555 2150,555 2175,552 2200,553 2225,553 2250,560 2275,556 2299,565 2324,554 2333,560" stroke="#004ada"/>
<polyline points="857,556 882,557 907,543 932,510 956,467 981,410 1006,377 1031,350 1056,333 1081,316 1106,304 1131,297 1155,307 1180,322 1205,338 1230,360 1255,377 1280,400 1305,424 1330,453 1354,482 1379,505 1404,544 1429,569 1454,575 1479,570 1504,567 1528,562 1553,561 1578,564 1603,553 1628,543 1653,553 1678,542 1703,551 1727,548 1752,549 1777,555 1802,548 1827,543 1852,550 1877,544 1902,548 1926,543 1951,541 1976,545 2001,550 2026,544 2051,548 2076,556 2100,554 2125,554 2150,550 2175,544 2200,549 2225,556 2250,556 2275,555 2299,560 2324,567 2333,556" stroke="#004cd9"/>
<polyline points="857,567 882,565 907,545 932,501 956,449 981,399 1006,360 1031,336 1056,315 1081,304 1106,295 1131,294 1155,308 1180,328 1205,346 1230,366 1255,383 1280,405 1305,428 1330,454 1354,481 1379,518 1404,545 1429,562 1454,569 1479,569 1504,564 1528,555 1553,559 1578,554 1603,555 1628,556 1653,552 1678,551 1703,550 1727,549 1752,550 1777,554 1802,542 1827,548 1852,539 1877,546 1902,548 1926,553 1951,552 1976,552 2001,551 2026,554 2051,552 2076,551 2100,546 2125,551 2150,543 2175,550 2200,543 2225,545 2250,556 2275,563 2299,555 2324,561 2333,557" stroke="#004ed8"/>
<polyline points="857,552 882,549 907,552 932,529 956,490 981,434 1006,392 1031,361 1056,341 1081,325 1106,311 1131,304 1155,307 1180,318 1205,332 1230,347 1255,361 1280,379 1305,404 1330,430 1354,459 1379,492 1404,526 1429,553 1454,567 1479,570 1504,565 1528,567 1553,567 1578,559 1603,560 1628,554 1653,560 1678,550 1703,558 1727,551 1752,560 1777,547 1802,550 1827,544 1852,553 1877,546 1902,546 1926,546 1951,541 1976,549 2001,547 2026,549 2051,558 2076,558 2100,551 2125,547 2150,550 2175,555 2200,552 2225,552 2250,556 2275,555 2299,546 2324,555 2333,558" stroke="#0050d7"/>
<polyline points="857,561 882,565 907,547 932,507 956,460 981,414 1006,380 1031,361 1056,345 1081,333 1106,316 1131,316 1155,323 1180,342 1205,359 1230,374 1255,389 1280,407 1305,431 1330,460 1354,494 1379,524 1404,550 1429,570 1454,578 1479,577 1504,573 1528,576 1553,566 1578,555 1603,563 1628,565 1653,568 1678,563 1703,556 1727,552 1752,555 1777,557 1802,558 1827,559 1852,550 1877,551 1902,550 1926,549 1951,559 1976,554 2001,555 2026,560 2051,558 2076,563 2100,565 2125,560 2150,553 2175,559 2200,551 2225,561 2250,561 2275,563 2299,558 2324,557 2333,555" stroke="#0052d6"/>
<polyline points="857,565 882,565 907,553 932,529 956,487 981,436 1006,397 1031,364 1056,347 1081,330 1106,316 1131,310 1155,314 1180,326 1205,343 1230,358 1255,377 1280,399 1305,425 1330,450 1354,479 1379,510 1404,539 1429,566 1454,576 1479,583 1504,577 1528,565 1553,568 1578,560 1603,560 1628,558 1653,555 1678,551 1703,552 1727,558 1752,560 1777,557 1802,557 1827,564 1852,552 1877,546 1902,557 1926,558 1951,561 1976,555 2001,557 2026,560 2051,557 2076,551 2100,565 2125,553 2150,559 2175,554 2200,552 2225,559 2250,561 2275,554 2299,562 2324,565 2333,560" stroke="#0054d5"/>
<polyline points="857,571 882,569 907,549 932,511 956,467 981,416 1006,382 1031,354 1056,334 1081,317 1106,309 1131,306 1155,313 1180,336 1205,353 1230,369 1255,385 1280,405 1305,426 1330,460 1354,489 1379,521 1404,551 1429,567 1454,575 1479,568 1504,569 1528,576 1553,564 1578,561 1603,556 1628,553 1653,557 1678,555 1703,565 1727,559 1752,566 1777,562 1802,555 1827,551 1852,555 1877,550 1902,552 1926,559 1951,549 1976,554 2001,551 2026,558 2051,559 2076,560 2100,561 2125,559 2150,549 2175,554 2200,552 2225,550 2250,556 2275,560 2299,564 2324,558 2333,559" stroke="#0056d4"/>
<polyline points="857,564 882,561 907,548 932,509 956,464 981,417 1006,385 1031,358 1056,340 1081,326 1106,315 1131,311 1155,317 1180,332 1205,350 1230,370 1255,387 1280,404 1305,436 1330,459 1354,488 1379,523 1404,550 1429,568 1454,575 1479,572 1504,568 1528,563 1553,561 1578,555 1603,556 1628,550 1653,554 1678,554 1703,554 1727,557 1752,552 1777,557 1802,552 1827,548 1852,552 1877,553 1902,559 1926,555 1951,558 1976,562 2001,560 2026,558 2051,558 2076,557 2100,557 2125,556 2150,558 2175,556 2200,551 2225,551 2250,553 2275,563 2299,565 2324,567 2333,557" stroke="#0058d3"/>
<polyline points="857,566 882,565 907,555 932,524 956,479 981,426 1006,389 1031,363 1056,345 1081,334 1106,321 1131,315 1155,317 1180,330 1205,347 1230,364 1255,382 1280,400 1305,426 1330,449 1354,482 1379,510 1404,539 1429,560 1454,573 1479,577 1504,570 1528,571 1553,571 1578,561 1603,559 1628,549 1653,553 1678,560 1703,566 1727,553 1752,557 1777,558 1802,558 1827,552 1852,551 1877,555 1902,546 1926,559 1951,546 1976,548 2001,541 2026,552 2051,552 2076,540 2100,550 2125,546 2150,541 2175,542 2200,543 2225,545 2250,549 2275,549 2299,560 2324,561 2333,563" stroke="#005ad2"/>
<polyline points="857,559 882,567 907,551 932,515 956,467 981,413 1006,383 1031,355 1056,342 1081,331 1106,320 1131,316 1155,324 1180,335 1205,348 1230,363 1255,379 1280,403 1305,427 1330,456 1354,484 1379,518 1404,545 1429,570 1454,579 1479,575 1504,577 1528,575 1553,571 1578,562 1603,556 1628,554 1653,551 1678,552 1703,551 1727,550 1752,559 1777,555 1802,554 1827,551 1852,554 1877,555 1902,551 1926,558 1951,563 1976,558 2001,558 2026,554 2051,559 2076,559 2100,546 2125,548 2150,550 2175,556 2200,550 2225,552 2250,554 2275,553 2299,559 2324,558 2333,564" stroke="#005dd1"/>
<polyline points="857,560 882,567 907,549 932,516 956,472 981,425 1006,390 1031,365 1056,349 1081,335 1106,327 1131,321 1155,323 1180,341 1205,355 1230,372 1255,388 1280,405 1305,434 1330,461 1354,492 1379,523 1404,554 1429,573 1454,581 1479,581 1504,570 1528,568 1553,567 1578,555 1603,558 1628,560 1653,550 1678,556 1703,557 1727,553 1752,555 1777,555 1802,546 1827,545 1852,555 1877,560 1902,558 1926,549 1951,564 1976,557 2001,555 2026,557 2051,550 2076,548 2100,551 2125,546 2150,548 2175,543 2200,546 2225,557 2250,556 2275,559 2299,562 2324,562 2333,563" stroke="#005fd0"/>
<polyline points="857,563 882,562 907,537 932,500 956,451 981,409 1006,378 1031,354 1056,342 1081,328 1106,322 1131,318 1155,329 1180,344 1205,358 1230,380 1255,394 1280,414 1305,442 1330,468 1354,501 1379,534 1404,557 1429,578 1454,579 1479,576 1504,567 1528,563 1553,560 1578,564 1603,560 1628,552 1653,552 1678,550 1703,548 1727,541 1752,548 1777,546 1802,552 1827,549 1852,547 1877,542 1902,552 1926,560 1951,561 1976,560 2001,560 2026,556 2051,558 2076,554 2100,553 2125,557 2150,548 2175,538 2200,543 2225,545 2250,553 2275,551 2299,554 2324,552 2333,556" stroke="#0061cf"/>
<polyline points="857,553 882,553 907,547 932,523 956,487 981,443 1006,406 1031,380 1056,364 1081,351 1106,334 1131,332 1155,335 1180,340 1205,357 1230,369 1255,385 1280,406 1305,429 1330,455 1354,484 1379,517 1404,545 1429,564 1454,577 1479,573 1504,572 1528,562 1553,560 1578,560 1603,555 1628,558 1653,549 1678,559 1703,549 1727,554 1752,556 1777,562 1802,550 1827,554 1852,554 1877,555 1902,553 1926,555 1951,550 1976,557 2001,545 2026,558 2051,553 2076,551 2100,550 2125,550 2150,551 2175,549 2200,551 2225,560 2250,558 2275,563 2299,560 2324,564 2333,566" stroke="#0063ce"/>
<polyline points="857,556 882,561 907,550 932,529 956,490 981,439 1006,405 1031,374 1056,358 1081,346 1106,334 1131,334 1155,339 1180,354 1205,370 1230,385 1255,399 1280,414 1305,433 1330,455 1354,480 1379,508 1404,534 1429,558 1454,572 1479,573 1504,567 1528,565 1553,557 1578,558 1603,551 1628,551 1653,558 1678,547 1703,564 1727,559 1752,553 1777,558 1802,553 1827,551 1852,550 1877,550 1902,542 1926,545 1951,550 1976,546 2001,553 2026,548 2051,553 2076,549 2100,555 2125,558 2150,557 2175,550 2200,549 2225,555 2250,557 2275,565 2299,558 2324,554 2333,561" stroke="#0065cd"/>
<polyline points="857,558 882,559 907,548 932,524 956,484 981,440 1006,411 1031,383 1056,370 1081,355 1106,346 1131,339 1155,348 1180,356 1205,374 1230,387 1255,402 1280,417 1305,439 1330,461 1354,488 1379,515 1404,548 1429,566 1454,578 1479,583 1504,577 1528,572 1553,563 1578,558 1603,562 1628,543 1653,547 1678,556 1703,555 1727,556 1752,556 1777,557 1802,564 1827,557 1852,556 1877,551 1902,558 1926,551 1951,559 1976,551 2001,547 2026,557 2051,551 2076,554 2100,556 2125,553 2150,557 2175,552 2200,559 2225,558 2250,557 2275,558 2299,559 2324,556 2333,553" stroke="#0067cc"/>
<polyline points="857,562 882,566 907,553 932,520 956,479 981,427 1006,399 1031,370 1056,355 1081,347 1106,336 1131,330 1155,340 1180,352 1205,368 1230,382 1255,394 1280,413 1305,436 1330,462 1354,489 1379,517 1404,542 1429,561 1454,575 1479,574 1504,576 1528,572 1553,566 1578,571 1603,562 1628,559 1653,561 1678,560 1703,561 1727,555 1752,550 1777,552 1802,552 1827,549 1852,547 1877,548 1902,555 1926,556 1951,555 1976,556 2001,561 2026,564 2051,562 2076,564 2100,555 2125,554 2150,554 2175,556 2200,545 2225,545 2250,557 2275,560 2299,561 2324,561 2333,561" stroke="#0069cb"/>
<polyline points="857,558 882,567 907,557 932,536 956,492 981,441 1006,403 1031,379 1056,361 1081,346 1106,339 1131,336 1155,342 1180,352 1205,364 1230,383 1255,398 1280,418 1305,442 1330,466 1354,487 1379,516 1404,540 1429,567 1454,579 1479,582 1504,576 1528,568 1553,568 1578,561 1603,559 1628,560 1653,563 1678,560 1703,563 1727,559 1752,559 1777,562 1802,563 1827,560 1852,561 1877,560 1902,560 1926,559 1951,561 1976,560 2001,561 2026,559 2051,566 2076,553 2100,556 2125,551 2150,556 2175,560 2200,551 2225,567 2250,559 2275,563 2299,560 2324,568 2333,567" stroke="#006bca"/>
<polyline points="857,563 882,564 907,538 932,506 956,455 981,417 1006,386 1031,362 1056,344 1081,333 1106,328 1131,327 1155,332 1180,353 1205,367 1230,384 1255,401 1280,422 1305,448 1330,477 1354,507 1379,533 1404,560 1429,579 1454,579 1479,576 1504,576 1528,576 1553,565 1578,560 1603,556 1628,554 1653,550 1678,556 1703,556 1727,557 1752,551 1777,556 1802,550 1827,553 1852,550 1877,548 1902,556 1926,554 1951,557 1976,562 2001,559 2026,566 2051,565 2076,561 2100,560 2125,551 2150,550 2175,552 2200,552 2225,551 2250,552 2275,555 2299,552 2324,558 2333,554" stroke="#006dc9"/>
<polyline points="857,567 882,567 907,552 932,523 956,478 981,432 1006,391 1031,368 1056,352 1081,330 1106,324 1131,329 1155,331 1180,348 1205,369 1230,382 1255,398 1280,420 1305,447 1330,472 1354,502 1379,531 1404,555 1429,572 1454,573 1479,577 1504,567 1528,569 1553,563 1578,568 1603,552 1628,551 1653,554 1678,555 1703,558 1727,565 1752,556 1777,570 1802,560 1827,561 1852,552 1877,556 1902,560 1926,557 1951,551 1976,546 2001,544 2026,548 2051,554 2076,555 2100,564 2125,559 2150,559 2175,552 2200,558 2225,563 2250,561 2275,567 2299,562 2324,558 2333,558" stroke="#006fc7"/>
<polyline points="857,566 882,564 907,553 932,525 956,482 981,433 1006,399 1031,371 1056,353 1081,340 1106,334 1131,339 1155,341 1180,354 1205,370 1230,386 1255,400 1280,423 1305,448 1330,474 1354,498 1379,522 1404,550 1429,569 1454,582 1479,581 1504,583 1528,577 1553,569 1578,569 1603,565 1628,555 1653,562 1678,565 1703,562 1727,559 1752,559 1777,557 1802,550 1827,555 1852,554 1877,552 1902,557 1926,555 1951,552 1976,551 2001,555 2026,559 2051,568 2076,565 2100,567 2125,559 2150,555 2175,553 2200,557 2225,563 2250,558 2275,564 2299,562 2324,562 2333,572" stroke="#0071c6"/>
<polyline points="857,566 882,572 907,562 932,534 956,491 981,435 1006,397 1031,369 1056,352 1081,336 1106,328 1131,329 1155,333 1180,348 1205,367 1230,379 1255,394 1280,412 1305,439 1330,464 1354,490 1379,515 1404,540 1429,558 1454,567 1479,570 1504,571 1528,576 1553,572 1578,568 1603,568 1628,570 1653,565 1678,554 1703,554 1727,554 1752,549 1777,550 1802,555 1827,547 1852,554 1877,550 1902,546 1926,555 1951,552 1976,569 2001,555 2026,560 2051,565 2076,555 2100,554 2125,548 2150,548 2175,547 2200,549 2225,552 2250,556 2275,562 2299,566 2324,565 2333,561" stroke="#0073c5"/>
<polyline points="857,556 882,560 907,549 932,523 956,487 981,436 1006,399 1031,372 1056,356 1081,343 1106,334 1131,335 1155,342 1180,354 1205,374 1230,389 1255,400 1280,421 1305,439 1330,464 1354,489 1379,515 1404,533 1429,561 1454,571 1479,575 1504,569 1528,564 1553,560 1578,558 1603,558 1628,547 1653,546 1678,553 1703,555 1727,549 1752,551 1777,559 1802,556 1827,559 1852,555 1877,552 1902,553 1926,557 1951,544 1976,547 2001,546 2026,549 2051,553 2076,558 2100,552 2125,551 2150,546 2175,551 2200,550 2225,554 2250,559 2275,560 2299,563 2324,561 2333,559" stroke="#0075c4"/>
<polyline points="857,561 882,561 907,555 932,535 956,497 981,449 1006,409 1031,381 1056,365 1081,346 1106,338 1131,332 1155,335 1180,351 1205,366 1230,383 1255,392 1280,406 1305,430 1330,451 1354,481 1379,507 1404,532 1429,548 1454,568 1479,571 1504,575 1528,577 1553,573 1578,563 1603,559 1628,557 1653,560 1678,562 1703,559 1727,554 1752,557 1777,551 1802,546 1827,548 1852,550 1877,552 1902,547 1926,548 1951,548 1976,550 2001,551 2026,560 2051,559 2076,556 2100,557 2125,558 2150,556 2175,554 2200,547 2225,551 2250,551 2275,551 2299,557 2324,555 2333,557" stroke="#0077c3"/>
<polyline points="857,563 882,566 907,554 932,528 956,490 981,444 1006,406 1031,377 1056,360 1081,345 1106,333 1131,335 1155,348 1180,355 1205,369 1230,384 1255,396 1280,416 1305,441 1330,464 1354,491 1379,515 1404,538 1429,563 1454,575 1479,577 1504,575 1528,569 1553,563 1578,561 1603,564 1628,565 1653,561 1678,563 1703,553 1727,557 1752,553 1777,559 1802,551 1827,551 1852,545 1877,551 1902,553 1926,555 1951,554 1976,557 2001,554 2026,557 2051,553 2076,563 2100,556 2125,550 2150,549 2175,551 2200,548 2225,559 2250,555 2275,552 2299,557 2324,560 2333,550" stroke="#0079c2"/>
<polyline points="857,554 882,554 907,544 932,517 956,472 981,425 1006,387 1031,363 1056,346 1081,333 1106,330 1131,325 1155,329 1180,340 1205,357 1230,373 1255,385 1280,409 1305,432 1330,458 1354,482 1379,513 1404,542 1429,564 1454,577 1479,578 1504,573 1528,569 1553,569 1578,562 1603,558 1628,553 1653,556 1678,555 1703,546 1727,549 1752,545 1777,549 1802,548 1827,553 1852,544 1877,546 1902,556 1926,552 1951,552 1976,546 2001,554 2026,553 2051,563 2076,555 2100,548 2125,546 2150,550 2175,545 2200,546 2225,548 2250,542 2275,547 2299,551 2324,553 2333,555" stroke="#007bc1"/>
<polyline points="857,559 882,565 907,555 932,531 956,488 981,437 1006,397 1031,367 1056,347 1081,331 1106,319 1131,313 1155,320 1180,332 1205,351 1230,365 1255,387 1280,403 1305,428 1330,456 1354,482 1379,508 1404,537 1429,556 1454,569 1479,574 1504,572 1528,573 1553,562 1578,559 1603,561 1628,553 1653,564 1678,553 1703,554 1727,558 1752,554 1777,550 1802,559 1827,545 1852,548 1877,554 1902,544 1926,545 1951,551 1976,549 2001,550 2026,561 2051,554 2076,558 2100,558 2125,555 2150,551 2175,553 2200,549 2225,553 2250,550 2275,558 2299,558 2324,553 2333,553" stroke="#007dc0"/>
<polyline points="857,560 882,561 907,558 932,542 956,505 981,458 1006,413 1031,375 1056,353 1081,338 1106,325 1131,328 1155,327 1180,335 1205,351 1230,362 1255,375 1280,396 1305,420 1330,445 1354,473 1379,501 1404,526 1429,547 1454,567 1479,577 1504,581 1528,580 1553,574 1578,565 1603,568 1628,557 1653,556 1678,556 1703,556 1727,563 1752,556 1777,556 1802,549 1827,551 1852,557 1877,556 1902,554 1926,551 1951,550 1976,551 2001,553 2026,552 2051,554 2076,557 2100,556 2125,550 2150,547 2175,549 2200,544 2225,555 2250,556 2275,558 2299,558 2324,556 2333,559" stroke="#0080bf"/>
<polyline points="857,554 882,554 907,542 932,517 956,474 981,423 1006,388 1031,357 1056,343 1081,326 1106,320 1131,319 1155,325 1180,336 1205,354 1230,368 1255,382 1280,404 1305,428 1330,452 1354,479 1379,510 1404,538 1429,561 1454,576 1479,576 1504,575 1528,569 1553,555 1578,567 1603,562 1628,556 1653,556 1678,552 1703,556 1727,557 1752,548 1777,542 1802,552 1827,549 1852,545 1877,541 1902,540 1926,547 1951,540 1976,552 2001,548 2026,545 2051,550 2076,546 2100,545 2125,559 2150,553 2175,551 2200,546 2225,549 2250,557 2275,558 2299,558 2324,556 2333,559" stroke="#0082be"/>
<polyline points="857,555 882,560 907,557 932,531 956,494 981,450 1006,407 1031,375 1056,351 1081,336 1106,321 1131,322 1155,324 1180,337 1205,355 1230,372 1255,387 1280,408 1305,427 1330,455 1354,479 1379,506 1404,528 1429,549 1454,567 1479,572 1504,568 1528,561 1553,556 1578,560 1603,564 1628,554 1653,553 1678,554 1703,550 1727,552 1752,547 1777,552 1802,545 1827,547 1852,553 1877,544 1902,544 1926,547 1951,547 1976,545 2001,550 2026,556 2051,561 2076,555 2100,547 2125,544 2150,549 2175,550 2200,550 2225,549 2250,548 2275,554 2299,555 2324,557 2333,560" stroke="#0084bd"/>
<polyline points="857,561 882,567 907,558 932,538 956,507 981,455 1006,420 1031,391 1056,368 1081,345 1106,331 1131,329 1155,334 1180,351 1205,364 1230,380 1255,389 1280,408 1305,430 1330,456 1354,484 1379,512 1404,532 1429,553 1454,564 1479,572 1504,574 1528,569 1553,564 1578,561 1603,558 1628,552 1653,545 1678,561 1703,556 1727,555 1752,553 1777,556 1802,546 1827,551 1852,557 1877,555 1902,544 1926,554 1951,542 1976,547 2001,547 2026,549 2051,554 2076,551 2100,550 2125,554 2150,550 2175,550 2200,554 2225,553 2250,556 2275,559 2299,548 2324,552 2333,557" stroke="#0086bc"/>
<polyline points="857,552 882,557 907,551 932,538 956,498 981,449 1006,406 1031,376 1056,355 1081,345 1106,333 1131,327 1155,335 1180,345 1205,359 1230,371 1255,383 1280,401 1305,426 1330,451 1354,475 1379,501 1404,526 1429,542 1454,565 1479,568 1504,571 1528,570 1553,569 1578,561 1603,562 1628,555 1653,555 1678,565 1703,561 1727,564 1752,558 1777,556 1802,555 1827,552 1852,551 1877,549 1902,544 1926,539 1951,550 1976,545 2001,541 2026,551 2051,541 2076,544 2100,544 2125,553 2150,556 2175,552 2200,554 2225,555 2250,552 2275,564 2299,560 2324,560 2333,561" stroke="#0088bb"/>
<polyline points="857,560 882,557 907,547 932,526 956,488 981,440 1006,401 1031,374 1056,353 1081,340 1106,335 1131,333 1155,344 1180,349 1205,367 1230,379 1255,400 1280,417 1305,441 1330,463 1354,488 1379,519 1404,542 1429,564 1454,573 1479,576 1504,571 1528,563 1553,560 1578,554 1603,555 1628,557 1653,551 1678,549 1703,549 1727,553 1752,552 1777,551 1802,549 1827,550 1852,545 1877,551 1902,552 1926,546 1951,547 1976,547 2001,546 2026,551 2051,547 2076,554 2100,545 2125,554 2150,551 2175,545 2200,552 2225,552 2250,549 2275,558 2299,548 2324,559 2333,549" stroke="#008aba"/>
<polyline points="857,552 882,556 907,553 932,540 956,503 981,461 1006,420 1031,388 1056,365 1081,351 1106,338 1131,329 1155,332 1180,339 1205,353 1230,370 1255,380 1280,401 1305,427 1330,454 1354,473 1379,506 1404,530 1429,548 1454,564 1479,564 1504,565 1528,565 1553,566 1578,558 1603,554 1628,558 1653,547 1678,554 1703,554 1727,551 1752,551 1777,545 1802,537 1827,542 1852,541 1877,538 1902,542 1926,545 1951,548 1976,545 2001,549 2026,544 2051,553 2076,545 2100,546 2125,542 2150,546 2175,544 2200,545 2225,548 2250,546 2275,547 2299,550 2324,548 2333,549" stroke="#008cb9"/>
<polyline points="857,556 882,563 907,562 932,543 956,507 981,461 1006,423 1031,388 1056,369 1081,350 1106,333 1131,333 1155,335 1180,342 1205,360 1230,379 1255,389 1280,404 1305,425 1330,455 1354,477 1379,503 1404,536 1429,556 1454,570 1479,578 1504,577 1528,580 1553,579 1578,565 1603,566 1628,563 1653,557 1678,563 1703,556 1727,561 1752,549 1777,558 1802,539 1827,548 1852,555 1877,554 1902,554 1926,552 1951,547 1976,543 2001,539 2026,549 2051,552 2076,558 2100,555 2125,554 2150,542 2175,555 2200,552 2225,555 2250,549 2275,556 2299,553 2324,557 2333,560" stroke="#008eb8"/>
<polyline points="857,558 882,557 907,555 932,541 956,511 981,467 1006,427 1031,395 1056,374 1081,355 1106,344 1131,337 1155,339 1180,350 1205,359 1230,377 1255,385 1280,401 1305,423 1330,450 1354,475 1379,508 1404,531 1429,552 1454,567 1479,578 1504,575 1528,569 1553,568 1578,566 1603,561 1628,560 1653,553 1678,560 1703,550 1727,553 1752,547 1777,552 1802,557 1827,548 1852,549 1877,552 1902,555 1926,550 1951,549 1976,550 2001,545 2026,554 2051,552 2076,543 2100,551 2125,547 2150,547 2175,545 2200,543 2225,556 2250,555 2275,554 2299,551 2324,558 2333,556" stroke="#0090b7"/>
<polyline points="857,554 882,558 907,552 932,534 956,497 981,452 1006,411 1031,381 1056,364 1081,349 1106,338 1131,335 1155,336 1180,349 1205,362 1230,380 1255,393 1280,408 1305,429 1330,453 1354,476 1379,502 1404,530 1429,553 1454,572 1479,578 1504,572 1528,573 1553,572 1578,565 1603,564 1628,557 1653,551 1678,553 1703,547 1727,549 1752,544 1777,548 1802,556 1827,550 1852,549 1877,543 1902,545 1926,550 1951,548 1976,550 2001,550 2026,547 2051,549 2076,548 2100,542 2125,554 2150,548 2175,548 2200,542 2225,541 2250,547 2275,555 2299,555 2324,560 2333,559" stroke="#0092b6"/>
<polyline points="857,563 882,566 907,554 932,531 956,494 981,447 1006,410 1031,376 1056,347 1081,332 1106,325 1131,322 1155,332 1180,343 1205,363 1230,378 1255,386 1280,410 1305,436 1330,458 1354,485 1379,506 1404,531 1429,555 1454,568 1479,573 1504,570 1528,576 1553,559 1578,562 1603,559 1628,563 1653,557 1678,549 1703,559 1727,558 1752,551 1777,549 1802,546 1827,543 1852,546 1877,546 1902,546 1926,550 1951,546 1976,548 2001,551 2026,560 2051,556 2076,550 2100,554 2125,548 2150,545 2175,543 2200,545 2225,553 2250,551 2275,548 2299,553 2324,558 2333,562" stroke="#0094b5"/>
<polyline points="857,558 882,556 907,549 932,538 956,504 981,461 1006,418 1031,388 1056,362 1081,353 1106,343 1131,340 1155,343 1180,357 1205,364 1230,377 1255,392 1280,409 1305,430 1330,456 1354,481 1379,499 1404,529 1429,548 1454,570 1479,578 1504,581 1528,579 1553,565 1578,563 1603,567 1628,561 1653,559 1678,562 1703,556 1727,548 1752,549 1777,549 1802,551 1827,552 1852,550 1877,548 1902,550 1926,548 1951,552 1976,555 2001,556 2026,547 2051,552 2076,555 2100,552 2125,552 2150,550 2175,549 2200,547 2225,552 2250,543 2275,546 2299,547 2324,558 2333,550" stroke="#0096b4"/>
<polyline points="857,557 882,560 907,559 932,540 956,506 981,462 1006,423 1031,385 1056,361 1081,345 1106,335 1131,335 1155,332 1180,345 1205,365 1230,376 1255,390 1280,410 1305,434 1330,461 1354,486 1379,514 1404,534 1429,556 1454,570 1479,571 1504,576 1528,572 1553,576 1578,565 1603,556 1628,561 1653,562 1678,557 1703,561 1727,556 1752,542 1777,557 1802,545 1827,549 1852,542 1877,548 1902,547 1926,545 1951,537 1976,538 2001,554 2026,540 2051,547 2076,554 2100,555 2125,550 2150,558 2175,548 2200,549 2225,549 2250,552 2275,552 2299,554 2324,557 2333,557" stroke="#0098b3"/>
<polyline points="857,556 882,557 907,554 932,543 956,511 981,467 1006,428 1031,398 1056,367 1081,349 1106,335 1131,330 1155,335 1180,345 1205,357 1230,373 1255,384 1280,401 1305,429 1330,454 1354,482 1379,507 1404,530 1429,555 1454,571 1479,577 1504,579 1528,575 1553,568 1578,569 1603,563 1628,555 1653,550 1678,555 1703,555 1727,552 1752,554 1777,547 1802,554 1827,556 1852,550 1877,550 1902,558 1926,543 1951,549 1976,551 2001,549 2026,550 2051,550 2076,550 2100,550 2125,543 2150,550 2175,545 2200,550 2225,553 2250,552 2275,561 2299,553 2324,553 2333,557" stroke="#009ab2"/>
<polyline points="857,552 882,557 907,549 932,532 956,500 981,456 1006,419 1031,386 1056,368 1081,352 1106,338 1131,336 1155,340 1180,351 1205,362 1230,373 1255,382 1280,400 1305,423 1330,451 1354,481 1379,506 1404,528 1429,554 1454,572 1479,580 1504,581 1528,578 1553,572 1578,565 1603,557 1628,552 1653,546 1678,545 1703,543 1727,539 1752,552 1777,548 1802,547 1827,549 1852,553 1877,550 1902,549 1926,535 1951,540 1976,545 2001,550 2026,542 2051,546 2076,543 2100,545 2125,544 2150,551 2175,544 2200,558 2225,551 2250,552 2275,559 2299,556 2324,550 2333,552" stroke="#009cb1"/>
<polyline points="857,547 882,551 907,552 932,536 956,505 981,461 1006,419 1031,386 1056,361 1081,343 1106,333 1131,329 1155,331 1180,340 1205,357 1230,368 1255,379 1280,401 1305,426 1330,450 1354,475 1379,502 1404,524 1429,551 1454,564 1479,567 1504,572 1528,565 1553,563 1578,555 1603,554 1628,548 1653,556 1678,546 1703,547 1727,545 1752,540 1777,548 1802,549 1827,555 1852,546 1877,546 1902,548 1926,548 1951,540 1976,543 2001,556 2026,549 2051,541 2076,546 2100,548 2125,544 2150,543 2175,549 2200,548 2225,546 2250,541 2275,544 2299,554 2324,549 2333,554" stroke="#009eb0"/>
<polyline points="857,555 882,552 907,546 932,537 956,509 981,464 1006,425 1031,392 1056,364 1081,344 1106,336 1131,333 1155,337 1180,346 1205,362 1230,379 1255,381 1280,403 1305,433 1330,458 1354,484 1379,506 1404,530 1429,547 1454,564 1479,574 1504,574 1528,574 1553,568 1578,555 1603,555 1628,549 1653,555 1678,550 1703,556 1727,543 1752,547 1777,543 1802,551 1827,540 1852,548 1877,551 1902,546 1926,545 1951,549 1976,553 2001,549 2026,547 2051,551 2076,548 2100,542 2125,544 2150,545 2175,540 2200,544 2225,545 2250,546 2275,546 2299,547 2324,550 2333,555" stroke="#00a0af"/>
<polyline points="857,555 882,557 907,563 932,552 956,528 981,489 1006,449 1031,409 1056,383 1081,360 1106,343 1131,337 1155,334 1180,344 1205,356 1230,369 1255,385 1280,396 1305,413 1330,436 1354,465 1379,495 1404,523 1429,546 1454,569 1479,578 1504,582 1528,583 1553,580 1578,571 1603,569 1628,566 1653,562 1678,561 1703,559 1727,554 1752,557 1777,550 1802,546 1827,544 1852,551 1877,547 1902,551 1926,546 1951,549 1976,543 2001,548 2026,551 2051,548 2076,549 2100,543 2125,546 2150,555 2175,551 2200,552 2225,553 2250,564 2275,560 2299,552 2324,559 2333,553" stroke="#00a2ae"/>
<polyline points="857,555 882,556 907,548 932,546 956,523 981,488 1006,447 1031,412 1056,382 1081,359 1106,346 1131,343 1155,339 1180,347 1205,370 1230,382 1255,390 1280,401 1305,421 1330,444 1354,470 1379,491 1404,518 1429,542 1454,561 1479,573 1504,577 1528,580 1553,571 1578,569 1603,567 1628,561 1653,559 1678,561 1703,555 1727,553 1752,555 1777,556 1802,548 1827,543 1852,550 1877,547 1902,548 1926,543 1951,550 1976,546 2001,550 2026,550 2051,551 2076,551 2100,551 2125,560 2150,556 2175,552 2200,549 2225,556 2250,553 2275,557 2299,552 2324,545 2333,555" stroke="#00a5ad"/>
<polyline points="857,559 882,559 907,556 932,544 956,523 981,482 1006,445 1031,410 1056,383 1081,361 1106,348 1131,342 1155,340 1180,350 1205,366 1230,381 1255,395 1280,410 1305,432 1330,455 1354,480 1379,503 1404,525 1429,546 1454,566 1479,572 1504,576 1528,573 1553,571 1578,559 1603,560 1628,560 1653,556 1678,554 1703,553 1727,556 1752,553 1777,550 1802,562 1827,550 1852,556 1877,551 1902,552 1926,548 1951,548 1976,550 2001,548 2026,551 2051,549 2076,551 2100,548 2125,546 2150,549 2175,551 2200,551 2225,552 2250,554 2275,550 2299,553 2324,561 2333,562" stroke="#00a7ac"/>
<polyline points="857,557 882,557 907,551 932,535 956,502 981,465 1006,426 1031,396 1056,371 1081,355 1106,343 1131,334 1155,340 1180,354 1205,377 1230,389 1255,397 1280,414 1305,442 1330,466 1354,488 1379,513 1404,532 1429,554 1454,567 1479,574 1504,574 1528,574 1553,567 1578,568 1603,563 1628,559 1653,549 1678,555 1703,547 1727,557 1752,555 1777,557 1802,548 1827,547 1852,549 1877,542 1902,544 1926,538 1951,548 1976,545 2001,547 2026,549 2051,550 2076,546 2100,547 2125,549 2150,550 2175,547 2200,551 2225,546 2250,554 2275,553 2299,549 2324,554 2333,555" stroke="#00a9ab"/>
<polyline points="857,548 882,554 907,555 932,551 956,532 981,497 1006,458 1031,422 1056,392 1081,372 1106,361 1131,352 1155,351 1180,361 1205,374 1230,389 1255,396 1280,407 1305,428 1330,453 1354,479 1379,504 1404,526 1429,544 1454,563 1479,574 1504,575 1528,575 1553,568 1578,565 1603,566 1628,564 1653,561 1678,556 1703,545 1727,554 1752,551 1777,546 1802,545 1827,547 1852,553 1877,552 1902,545 1926,548 1951,544 1976,541 2001,545 2026,544 2051,551 2076,548 2100,559 2125,561 2150,558 2175,550 2200,554 2225,552 2250,552 2275,548 2299,551 2324,556 2333,551" stroke="#00abaa"/>
<polyline points="857,555 882,553 907,549 932,533 956,504 981,465 1006,430 1031,404 1056,376 1081,361 1106,353 1131,350 1155,347 1180,363 1205,375 1230,388 1255,397 1280,412 1305,440 1330,467 1354,491 1379,513 1404,537 1429,557 1454,567 1479,575 1504,574 1528,573 1553,565 1578,561 1603,556 1628,561 1653,555 1678,556 1703,560 1727,551 1752,554 1777,551 1802,556 1827,553 1852,552 1877,546 1902,549 1926,551 1951,541 1976,545 2001,549 2026,549 2051,553 2076,550 2100,547 2125,543 2150,549 2175,542 2200,541 2225,547 2250,552 2275,544 2299,553 2324,560 2333,555" stroke="#00ada9"/>
<polyline points="857,560 882,558 907,553 932,541 956,514 981,472 1006,429 1031,400 1056,376 1081,356 1106,346 1131,341 1155,345 1180,361 1205,376 1230,385 1255,394 1280,406 1305,429 1330,455 1354,481 1379,506 1404,533 1429,553 1454,575 1479,581 1504,584 1528,580 1553,583 1578,567 1603,566 1628,558 1653,558 1678,553 1703,546 1727,553 1752,555 1777,544 1802,552 1827,552 1852,555 1877,551 1902,551 1926,544 1951,544 1976,542 2001,543 2026,551 2051,548 2076,549 2100,548 2125,551 2150,551 2175,551 2200,557 2225,547 2250,551 2275,558 2299,555 2324,546 2333,554" stroke="#00afa8"/>
<polyline points="857,551 882,555 907,550 932,544 956,518 981,479 1006,440 1031,402 1056,372 1081,355 1106,342 1131,339 1155,342 1180,360 1205,373 1230,385 1255,393 1280,414 1305,443 1330,466 1354,490 1379,515 1404,532 1429,551 1454,565 1479,570 1504,578 1528,571 1553,573 1578,562 1603,564 1628,556 1653,563 1678,558 1703,557 1727,550 1752,550 1777,546 1802,540 1827,543 1852,546 1877,551 1902,545 1926,539 1951,545 1976,540 2001,552 2026,556 2051,554 2076,557 2100,549 2125,540 2150,544 2175,546 2200,545 2225,549 2250,555 2275,555 2299,553 2324,549 2333,551" stroke="#00b1a7"/>
<polyline points="857,550 882,553 907,553 932,546 956,525 981,496 1006,457 1031,422 1056,393 1081,372 1106,351 1131,346 1155,348 1180,354 1205,370 1230,381 1255,390 1280,404 1305,431 1330,456 1354,478 1379,505 1404,523 1429,551 1454,567 1479,575 1504,579 1528,580 1553,563 1578,565 1603,564 1628,556 1653,555 1678,547 1703,547 1727,552 1752,544 1777,552 1802,551 1827,549 1852,553 1877,545 1902,545 1926,537 1951,547 1976,537 2001,548 2026,547 2051,559 2076,543 2100,545 2125,552 2150,549 2175,555 2200,552 2225,542 2250,546 2275,555 2299,548 2324,557 2333,550" stroke="#00b3a6"/>
<polyline points="857,554 882,561 907,558 932,552 956,529 981,494 1006,458 1031,423 1056,394 1081,371 1106,353 1131,347 1155,349 1180,362 1205,380 1230,393 1255,402 1280,410 1305,433 1330,461 1354,479 1379,504 1404,520 1429,542 1454,555 1479,567 1504,571 1528,585 1553,572 1578,571 1603,568 1628,563 1653,556 1678,561 1703,556 1727,549 1752,547 1777,544 1802,550 1827,553 1852,549 1877,546 1902,550 1926,543 1951,538 1976,547 2001,549 2026,549 2051,547 2076,545 2100,544 2125,552 2150,544 2175,546 2200,545 2225,550 2250,547 2275,551 2299,560 2324,559 2333,552" stroke="#00b5a5"/>
<polyline points="857,559 882,559 907,556 932,543 956,519 981,479 1006,437 1031,407 1056,381 1081,365 1106,352 1131,343 1155,343 1180,361 1205,373 1230,385 1255,391 1280,413 1305,440 1330,465 1354,489 1379,512 1404,534 1429,556 1454,571 1479,581 1504,580 1528,585 1553,570 1578,570 1603,571 1628,564 1653,558 1678,554 1703,550 1727,558 1752,549 1777,548 1802,553 1827,540 1852,545 1877,543 1902,536 1926,547 1951,538 1976,545 2001,547 2026,552 2051,552 2076,552 2100,546 2125,548 2150,551 2175,548 2200,554 2225,552 2250,557 2275,560 2299,551 2324,547 2333,556" stroke="#00b7a3"/>
<polyline points="857,554 882,550 907,552 932,539 956,525 981,483 1006,444 1031,407 1056,379 1081,358 1106,346 1131,341 1155,342 1180,354 1205,369 1230,386 1255,393 1280,411 1305,433 1330,456 1354,483 1379,506 1404,529 1429,549 1454,564 1479,573 1504,574 1528,574 1553,567 1578,563 1603,558 1628,553 1653,549 1678,546 1703,553 1727,552 1752,556 1777,553 1802,555 1827,546 1852,557 1877,550 1902,545 1926,542 1951,544 1976,536 2001,550 2026,544 2051,550 2076,548 2100,553 2125,550 2150,543 2175,541 2200,547 2225,550 2250,550 2275,550 2299,551 2324,550 2333,557" stroke="#00b9a2"/>
<polyline points="857,555 882,554 907,554 932,543 956,523 981,483 1006,445 1031,407 1056,378 1081,353 1106,341 1131,331 1155,332 1180,345 1205,364 1230,379 1255,386 1280,404 1305,435 1330,458 1354,486 1379,507 1404,532 1429,551 1454,563 1479,578 1504,580 1528,578 1553,572 1578,568 1603,568 1628,556 1653,559 1678,547 1703,547 1727,547 1752,548 1777,546 1802,549 1827,555 1852,549 1877,549 1902,550 1926,550 1951,532 1976,540 2001,540 2026,547 2051,546 2076,543 2100,545 2125,548 2150,546 2175,545 2200,548 2225,548 2250,548 2275,551 2299,556 2324,552 2333,552" stroke="#00bba1"/>
<polyline points="857,552 882,549 907,547 932,549 956,531 981,501 1006,463 1031,419 1056,387 1081,363 1106,344 1131,339 1155,337 1180,346 1205,359 1230,372 1255,386 1280,399 1305,421 1330,450 1354,474 1379,493 1404,520 1429,543 1454,560 1479,574 1504,577 1528,578 1553,578 1578,570 1603,563 1628,564 1653,551 1678,548 1703,546 1727,551 1752,548 1777,551 1802,552 1827,554 1852,551 1877,542 1902,546 1926,553 1951,539 1976,545 2001,545 2026,551 2051,552 2076,549 2100,557 2125,559 2150,549 2175,541 2200,548 2225,546 2250,549 2275,545 2299,553 2324,550 2333,549" stroke="#00bda0"/>
<polyline points="857,560 882,561 907,560 932,551 956,534 981,505 1006,471 1031,429 1056,398 1081,372 1106,353 1131,350 1155,349 1180,355 1205,368 1230,380 1255,384 1280,403 1305,426 1330,455 1354,479 1379,496 1404,523 1429,540 1454,562 1479,576 1504,583 1528,588 1553,575 1578,582 1603,574 1628,571 1653,564 1678,559 1703,558 1727,550 1752,555 1777,543 1802,555 1827,551 1852,555 1877,545 1902,543 1926,544 1951,539 1976,545 2001,541 2026,542 2051,546 2076,548 2100,543 2125,550 2150,543 2175,544 2200,541 2225,543 2250,549 2275,553 2299,553 2324,560 2333,560" stroke="#00bf9f"/>
<polyline points="857,558 882,557 907,560 932,548 956,532 981,494 1006,462 1031,426 1056,398 1081,379 1106,365 1131,362 1155,365 1180,374 1205,391 1230,398 1255,407 1280,421 1305,441 1330,471 1354,493 1379,509 1404,533 1429,552 1454,563 1479,572 1504,583 1528,585 1553,583 1578,577 1603,570 1628,564 1653,556 1678,555 1703,560 1727,558 1752,554 1777,554 1802,554 1827,552 1852,553 1877,546 1902,544 1926,536 1951,536 1976,542 2001,536 2026,552 2051,542 2076,555 2100,556 2125,557 2150,551 2175,556 2200,549 2225,548 2250,550 2275,561 2299,555 2324,553 2333,555" stroke="#00c19e"/>
<polyline points="857,556 882,554 907,557 932,553 956,534 981,502 1006,465 1031,428 1056,399 1081,374 1106,361 1131,350 1155,349 1180,359 1205,376 1230,389 1255,396 1280,406 1305,432 1330,457 1354,480 1379,509 1404,530 1429,546 1454,562 1479,575 1504,583 1528,584 1553,579 1578,570 1603,568 1628,555 1653,553 1678,552 1703,551 1727,542 1752,555 1777,544 1802,554 1827,556 1852,543 1877,544 1902,547 1926,548 1951,549 1976,545 2001,551 2026,550 2051,551 2076,550 2100,545 2125,549 2150,546 2175,540 2200,542 2225,546 2250,545 2275,549 2299,553 2324,548 2333,550" stroke="#00c39d"/>
<polyline points="857,548 882,549 907,550 932,546 956,535 981,499 1006,465 1031,430 1056,396 1081,374 1106,358 1131,347 1155,344 1180,355 1205,369 1230,385 1255,391 1280,405 1305,431 1330,453 1354,482 1379,503 1404,522 1429,541 1454,557 1479,567 1504,577 1528,582 1553,575 1578,576 1603,573 1628,565 1653,558 1678,558 1703,546 1727,554 1752,548 1777,545 1802,541 1827,545 1852,544 1877,553 1902,546 1926,542 1951,538 1976,543 2001,538 2026,541 2051,542 2076,539 2100,552 2125,546 2150,542 2175,551 2200,548 2225,543 2250,549 2275,552 2299,552 2324,547 2333,548" stroke="#00c59c"/>
<polyline points="857,550 882,549 907,552 932,550 956,530 981,498 1006,466 1031,435 1056,402 1081,377 1106,364 1131,360 1155,356 1180,372 1205,387 1230,401 1255,405 1280,418 1305,446 1330,466 1354,487 1379,511 1404,530 1429,545 1454,559 1479,568 1504,574 1528,576 1553,570 1578,570 1603,561 1628,560 1653,548 1678,543 1703,547 1727,542 1752,535 1777,551 1802,547 1827,548 1852,548 1877,548 1902,544 1926,544 1951,539 1976,539 2001,554 2026,544 2051,540 2076,545 2100,555 2125,548 2150,546 2175,554 2200,548 2225,547 2250,551 2275,546 2299,551 2324,556 2333,549" stroke="#00c79b"/>
<polyline points="857,556 882,555 907,557 932,551 956,535 981,503 1006,464 1031,430 1056,400 1081,374 1106,364 1131,359 1155,355 1180,372 1205,385 1230,399 1255,406 1280,425 1305,446 1330,469 1354,491 1379,511 1404,530 1429,551 1454,565 1479,570 1504,575 1528,567 1553,568 1578,568 1603,562 1628,558 1653,558 1678,551 1703,550 1727,554 1752,554 1777,553 1802,550 1827,554 1852,555 1877,544 1902,556 1926,545 1951,542 1976,540 2001,542 2026,540 2051,546 2076,548 2100,547 2125,544 2150,547 2175,557 2200,542 2225,544 2250,553 2275,551 2299,549 2324,540 2333,549" stroke="#00ca9a"/>
<polyline points="857,550 882,549 907,548 932,541 956,523 981,493 1006,456 1031,420 1056,394 1081,381 1106,367 1131,362 1155,365 1180,377 1205,396 1230,408 1255,414 1280,427 1305,453 1330,474 1354,496 1379,518 1404,538 1429,553 1454,567 1479,577 1504,581 1528,580 1553,569 1578,567 1603,567 1628,558 1653,552 1678,547 1703,545 1727,547 1752,540 1777,538 1802,541 1827,536 1852,542 1877,537 1902,543 1926,536 1951,542 1976,537 2001,539 2026,537 2051,542 2076,547 2100,552 2125,549 2150,554 2175,546 2200,549 2225,554 2250,553 2275,553 2299,549 2324,548 2333,550" stroke="#00cc99"/>
<polyline points="857,544 882,548 907,550 932,544 956,528 981,499 1006,464 1031,428 1056,397 1081,376 1106,367 1131,359 1155,360 1180,371 1205,387 1230,399 1255,395 1280,414 1305,444 1330,465 1354,489 1379,509 1404,530 1429,548 1454,564 1479,572 1504,581 1528,580 1553,584 1578,579 1603,568 1628,570 1653,565 1678,552 1703,552 1727,556 1752,544 1777,550 1802,540 1827,548 1852,538 1877,538 1902,536 1926,541 1951,536 1976,539 2001,545 2026,546 2051,548 2076,549 2100,552 2125,557 2150,549 2175,555 2200,539 2225,548 2250,547 2275,552 2299,553 2324,548 2333,555" stroke="#00ce98"/>
<polyline points="857,552 882,550 907,554 932,547 956,535 981,504 1006,467 1031,429 1056,403 1081,381 1106,365 1131,359 1155,360 1180,372 1205,388 1230,400 1255,399 1280,419 1305,443 1330,465 1354,488 1379,511 1404,530 1429,544 1454,558 1479,572 1504,581 1528,574 1553,574 1578,571 1603,569 1628,563 1653,559 1678,558 1703,543 1727,553 1752,550 1777,549 1802,545 1827,555 1852,544 1877,545 1902,541 1926,544 1951,539 1976,547 2001,545 2026,548 2051,549 2076,547 2100,549 2125,544 2150,543 2175,546 2200,539 2225,541 2250,542 2275,544 2299,552 2324,544 2333,549" stroke="#00d097"/>
<polyline points="857,555 882,555 907,556 932,549 956,534 981,507 1006,473 1031,434 1056,398 1081,375 1106,360 1131,352 1155,357 1180,369 1205,384 1230,396 1255,398 1280,414 1305,438 1330,467 1354,490 1379,511 1404,534 1429,548 1454,568 1479,576 1504,584 1528,587 1553,576 1578,570 1603,563 1628,565 1653,559 1678,551 1703,548 1727,542 1752,552 1777,552 1802,544 1827,555 1852,556 1877,554 1902,543 1926,543 1951,539 1976,549 2001,551 2026,543 2051,550 2076,547 2100,548 2125,547 2150,548 2175,550 2200,550 2225,551 2250,545 2275,549 2299,553 2324,552 2333,554" stroke="#00d296"/>
<polyline points="857,554 882,555 907,553 932,550 956,540 981,512 1006,476 1031,444 1056,410 1081,389 1106,374 1131,361 1155,369 1180,381 1205,396 1230,409 1255,408 1280,422 1305,446 1330,469 1354,494 1379,516 1404,532 1429,550 1454,563 1479,569 1504,580 1528,585 1553,582 1578,577 1603,570 1628,568 1653,564 1678,549 1703,555 1727,555 1752,556 1777,560 1802,548 1827,548 1852,551 1877,556 1902,545 1926,546 1951,540 1976,541 2001,548 2026,548 2051,541 2076,544 2100,549 2125,548 2150,555 2175,553 2200,557 2225,548 2250,549 2275,556 2299,548 2324,559 2333,557" stroke="#00d495"/>
<polyline points="857,553 882,553 907,555 932,560 956,544 981,518 1006,489 1031,458 1056,419 1081,398 1106,380 1131,369 1155,373 1180,374 1205,391 1230,408 1255,406 1280,419 1305,437 1330,459 1354,480 1379,501 1404,522 1429,542 1454,560 1479,567 1504,578 1528,577 1553,577 1578,577 1603,571 1628,563 1653,562 1678,563 1703,554 1727,545 1752,554 1777,554 1802,545 1827,547 1852,543 1877,552 1902,548 1926,540 1951,538 1976,537 2001,541 2026,541 2051,543 2076,546 2100,546 2125,543 2150,546 2175,547 2200,545 2225,544 2250,546 2275,554 2299,552 2324,553 2333,554" stroke="#00d694"/>
<polyline points="857,554 882,555 907,558 932,554 956,537 981,511 1006,475 1031,440 1056,405 1081,383 1106,370 1131,360 1155,364 1180,380 1205,396 1230,405 1255,410 1280,429 1305,457 1330,480 1354,504 1379,526 1404,535 1429,555 1454,569 1479,574 1504,581 1528,578 1553,582 1578,566 1603,572 1628,554 1653,560 1678,562 1703,561 1727,556 1752,551 1777,545 1802,547 1827,549 1852,543 1877,543 1902,543 1926,544 1951,533 1976,544 2001,546 2026,547 2051,551 2076,550 2100,552 2125,554 2150,551 2175,549 2200,548 2225,545 2250,548 2275,550 2299,550 2324,545 2333,551" stroke="#00d893"/>
<polyline points="857,548 882,552 907,556 932,554 956,542 981,519 1006,484 1031,449 1056,415 1081,391 1106,374 1131,371 1155,365 1180,378 1205,393 1230,404 1255,405 1280,415 1305,438 1330,464 1354,486 1379,509 1404,529 1429,549 1454,565 1479,579 1504,587 1528,590 1553,583 1578,580 1603,567 1628,556 1653,556 1678,555 1703,554 1727,553 1752,554 1777,546 1802,548 1827,551 1852,548 1877,551 1902,546 1926,545 1951,539 1976,552 2001,551 2026,554 2051,548 2076,548 2100,546 2125,546 2150,547 2175,548 2200,547 2225,546 2250,553 2275,554 2299,554 2324,549 2333,552" stroke="#00da92"/>
<polyline points="857,550 882,549 907,553 932,549 956,539 981,515 1006,483 1031,453 1056,419 1081,393 1106,378 1131,375 1155,369 1180,381 1205,392 1230,402 1255,407 1280,419 1305,438 1330,462 1354,481 1379,505 1404,523 1429,539 1454,556 1479,569 1504,583 1528,588 1553,579 1578,577 1603,568 1628,566 1653,557 1678,547 1703,547 1727,548 1752,543 1777,541 1802,538 1827,542 1852,549 1877,546 1902,545 1926,541 1951,539 1976,544 2001,545 2026,551 2051,541 2076,546 2100,549 2125,551 2150,546 2175,541 2200,542 2225,541 2250,546 2275,548 2299,546 2324,548 2333,549" stroke="#00dc91"/>
<polyline points="857,552 882,552 907,552 932,551 956,537 981,510 1006,478 1031,444 1056,409 1081,386 1106,371 1131,361 1155,366 1180,378 1205,398 1230,409 1255,404 1280,423 1305,452 1330,477 1354,502 1379,518 1404,536 1429,550 1454,563 1479,573 1504,580 1528,583 1553,573 1578,569 1603,557 1628,558 1653,562 1678,554 1703,549 1727,543 1752,552 1777,547 1802,539 1827,549 1852,554 1877,544 1902,538 1926,547 1951,531 1976,541 2001,549 2026,547 2051,554 2076,548 2100,546 2125,548 2150,547 2175,551 2200,550 2225,545 2250,543 2275,548 2299,547 2324,542 2333,541" stroke="#00de90"/>
<polyline points="857,551 882,552 907,551 932,551 956,544 981,528 1006,495 1031,461 1056,423 1081,391 1106,371 1131,357 1155,354 1180,358 1205,378 1230,390 1255,398 1280,401 1305,424 1330,450 1354,475 1379,499 1404,517 1429,539 1454,552 1479,568 1504,580 1528,591 1553,582 1578,575 1603,567 1628,567 1653,563 1678,553 1703,550 1727,548 1752,546 1777,540 1802,550 1827,536 1852,547 1877,549 1902,547 1926,542 1951,534 1976,529 2001,541 2026,543 2051,546 2076,546 2100,543 2125,551 2150,548 2175,545 2200,543 2225,548 2250,543 2275,545 2299,549 2324,551 2333,548" stroke="#00e08f"/>
<polyline points="857,556 882,558 907,554 932,553 956,541 981,517 1006,491 1031,449 1056,420 1081,394 1106,377 1131,367 1155,367 1180,377 1205,396 1230,407 1255,410 1280,426 1305,452 1330,473 1354,491 1379,512 1404,531 1429,549 1454,566 1479,573 1504,586 1528,586 1553,570 1578,572 1603,569 1628,565 1653,556 1678,552 1703,546 1727,554 1752,557 1777,553 1802,545 1827,547 1852,548 1877,551 1902,543 1926,542 1951,534 1976,542 2001,547 2026,550 2051,545 2076,549 2100,551 2125,547 2150,549 2175,556 2200,543 2225,547 2250,550 2275,551 2299,556 2324,551 2333,552" stroke="#00e28e"/>
<polyline points="857,551 882,556 907,551 932,555 956,544 981,527 1006,500 1031,464 1056,431 1081,403 1106,387 1131,379 1155,378 1180,383 1205,398 1230,412 1255,410 1280,420 1305,442 1330,468 1354,490 1379,506 1404,524 1429,538 1454,556 1479,568 1504,580 1528,579 1553,574 1578,572 1603,569 1628,556 1653,560 1678,557 1703,552 1727,551 1752,552 1777,551 1802,549 1827,545 1852,555 1877,546 1902,539 1926,547 1951,528 1976,544 2001,544 2026,548 2051,546 2076,549 2100,547 2125,546 2150,547 2175,547 2200,542 2225,547 2250,546 2275,555 2299,550 2324,548 2333,546" stroke="#00e48d"/>
<polyline points="857,557 882,556 907,561 932,557 956,550 981,524 1006,496 1031,460 1056,424 1081,396 1106,377 1131,367 1155,366 1180,377 1205,395 1230,410 1255,409 1280,422 1305,449 1330,470 1354,490 1379,507 1404,524 1429,546 1454,560 1479,577 1504,584 1528,577 1553,580 1578,573 1603,570 1628,570 1653,567 1678,556 1703,550 1727,551 1752,543 1777,544 1802,540 1827,547 1852,555 1877,544 1902,541 1926,542 1951,531 1976,543 2001,550 2026,549 2051,549 2076,546 2100,545 2125,551 2150,544 2175,549 2200,544 2225,548 2250,547 2275,548 2299,549 2324,553 2333,553" stroke="#00e68c"/>
<polyline points="857,552 882,552 907,553 932,553 956,544 981,525 1006,496 1031,459 1056,424 1081,396 1106,379 1131,368 1155,368 1180,380 1205,394 1230,402 1255,398 1280,415 1305,437 1330,464 1354,488 1379,506 1404,521 1429,542 1454,558 1479,572 1504,586 1528,596 1553,588 1578,575 1603,575 1628,561 1653,554 1678,553 1703,549 1727,547 1752,549 1777,547 1802,541 1827,539 1852,549 1877,551 1902,540 1926,548 1951,539 1976,535 2001,544 2026,543 2051,543 2076,544 2100,548 2125,548 2150,547 2175,546 2200,540 2225,549 2250,550 2275,553 2299,556 2324,549 2333,546" stroke="#00e88b"/>
<polyline points="857,553 882,551 907,557 932,560 956,551 981,531 1006,502 1031,464 1056,427 1081,398 1106,377 1131,364 1155,363 1180,377 1205,389 1230,401 1255,399 1280,417 1305,440 1330,468 1354,487 1379,508 1404,528 1429,545 1454,567 1479,576 1504,590 1528,595 1553,590 1578,580 1603,572 1628,561 1653,562 1678,548 1703,543 1727,548 1752,550 1777,543 1802,546 1827,543 1852,544 1877,551 1902,550 1926,548 1951,543 1976,541 2001,554 2026,548 2051,545 2076,554 2100,550 2125,543 2150,548 2175,546 2200,542 2225,544 2250,545 2275,547 2299,540 2324,549 2333,554" stroke="#00ea8a"/>
<polyline points="857,554 882,555 907,556 932,553 956,543 981,523 1006,495 1031,458 1056,424 1081,394 1106,377 1131,368 1155,369 1180,384 1205,398 1230,409 1255,400 1280,424 1305,448 1330,478 1354,497 1379,511 1404,531 1429,546 1454,559 1479,576 1504,586 1528,590 1553,588 1578,565 1603,566 1628,556 1653,550 1678,551 1703,547 1727,538 1752,543 1777,538 1802,536 1827,542 1852,553 1877,549 1902,545 1926,533 1951,531 1976,541 2001,551 2026,551 2051,546 2076,550 2100,541 2125,550 2150,547 2175,548 2200,545 2225,542 2250,534 2275,549 2299,549 2324,546 2333,545" stroke="#00ec89"/>
<polyline points="857,555 882,557 907,554 932,552 956,536 981,516 1006,485 1031,449 1056,412 1081,390 1106,371 1131,367 1155,368 1180,383 1205,399 1230,410 1255,408 1280,427 1305,451 1330,476 1354,497 1379,516 1404,536 1429,554 1454,566 1479,578 1504,587 1528,583 1553,578 1578,571 1603,565 1628,569 1653,557 1678,545 1703,547 1727,542 1752,543 1777,552 1802,530 1827,539 1852,546 1877,543 1902,538 1926,543 1951,529 1976,540 2001,554 2026,543 2051,550 2076,548 2100,549 2125,553 2150,548 2175,552 2200,554 2225,550 2250,550 2275,548 2299,549 2324,547 2333,539" stroke="#00ef88"/>
<polyline points="857,550 882,554 907,554 932,553 956,544 981,526 1006,497 1031,460 1056,419 1081,391 1106,378 1131,371 1155,368 1180,380 1205,398 1230,407 1255,396 1280,416 1305,445 1330,471 1354,493 1379,509 1404,530 1429,542 1454,558 1479,571 1504,585 1528,581 1553,580 1578,576 1603,572 1628,560 1653,560 1678,552 1703,543 1727,548 1752,544 1777,546 1802,542 1827,548 1852,543 1877,544 1902,542 1926,531 1951,534 1976,537 2001,545 2026,533 2051,545 2076,541 2100,544 2125,550 2150,548 2175,539 2200,545 2225,545 2250,549 2275,544 2299,542 2324,550 2333,549" stroke="#00f187"/>
<polyline points="857,548 882,547 907,548 932,552 956,543 981,529 1006,505 1031,464 1056,425 1081,395 1106,376 1131,365 1155,360 1180,371 1205,390 1230,403 1255,397 1280,411 1305,437 1330,462 1354,486 1379,499 1404,519 1429,541 1454,554 1479,572 1504,589 1528,590 1553,583 1578,575 1603,568 1628,565 1653,556 1678,553 1703,555 1727,546 1752,543 1777,546 1802,536 1827,539 1852,547 1877,541 1902,546 1926,539 1951,532 1976,537 2001,547 2026,542 2051,546 2076,549 2100,544 2125,548 2150,550 2175,549 2200,545 2225,539 2250,537 2275,544 2299,545 2324,538 2333,546" stroke="#00f386"/>
<polyline points="857,552 882,552 907,556 932,555 956,549 981,532 1006,511 1031,480 1056,442 1081,404 1106,386 1131,370 1155,365 1180,374 1205,395 1230,405 1255,404 1280,411 1305,437 1330,464 1354,488 1379,502 1404,524 1429,540 1454,555 1479,563 1504,584 1528,596 1553,590 1578,577 1603,568 1628,565 1653,565 1678,559 1703,552 1727,554 1752,549 1777,541 1802,539 1827,537 1852,548 1877,549 1902,538 1926,548 1951,532 1976,534 2001,551 2026,552 2051,554 2076,545 2100,550 2125,547 2150,552 2175,552 2200,549 2225,540 2250,550 2275,551 2299,553 2324,550 2333,550" stroke="#00f585"/>
<polyline points="857,548 882,546 907,549 932,552 956,543 981,525 1006,496 1031,457 1056,419 1081,393 1106,369 1131,360 1155,360 1180,376 1205,392 1230,404 1255,397 1280,418 1305,449 1330,474 1354,492 1379,513 1404,529 1429,542 1454,562 1479,575 1504,586 1528,597 1553,586 1578,574 1603,574 1628,567 1653,554 1678,544 1703,548 1727,541 1752,542 1777,542 1802,533 1827,538 1852,547 1877,547 1902,543 1926,532 1951,528 1976,542 2001,538 2026,545 2051,544 2076,555 2100,560 2125,550 2150,554 2175,548 2200,545 2225,545 2250,549 2275,549 2299,556 2324,543 2333,547" stroke="#00f784"/>
<polyline points="857,549 882,551 907,553 932,553 956,548 981,536 1006,508 1031,472 1056,432 1081,403 1106,384 1131,374 1155,374 1180,385 1205,402 1230,417 1255,404 1280,424 1305,448 1330,470 1354,492 1379,512 1404,523 1429,542 1454,550 1479,564 1504,580 1528,590 1553,582 1578,568 1603,571 1628,558 1653,558 1678,547 1703,550 1727,540 1752,548 1777,547 1802,536 1827,537 1852,546 1877,544 1902,537 1926,543 1951,530 1976,539 2001,546 2026,537 2051,541 2076,543 2100,546 2125,542 2150,542 2175,547 2200,549 2225,537 2250,544 2275,542 2299,552 2324,545 2333,552" stroke="#00f983"/>
<polyline points="857,550 882,553 907,554 932,559 956,557 981,546 1006,516 1031,481 1056,440 1081,410 1106,390 1131,372 1155,371 1180,387 1205,405 1230,415 1255,409 1280,426 1305,448 1330,472 1354,490 1379,508 1404,524 1429,536 1454,556 1479,568 1504,582 1528,585 1553,588 1578,577 1603,568 1628,565 1653,566 1678,551 1703,550 1727,551 1752,543 1777,549 1802,542 1827,547 1852,544 1877,553 1902,542 1926,537 1951,536 1976,545 2001,541 2026,541 2051,543 2076,550 2100,540 2125,549 2150,549 2175,538 2200,549 2225,545 2250,543 2275,551 2299,548 2324,545 2333,545" stroke="#00fb82"/>
<polyline points="857,548 882,546 907,552 932,555 956,555 981,544 1006,526 1031,490 1056,456 1081,420 1106,398 1131,378 1155,369 1180,375 1205,394 1230,409 1255,404 1280,410 1305,435 1330,463 1354,484 1379,504 1404,526 1429,537 1454,552 1479,566 1504,580 1528,588 1553,583 1578,578 1603,560 1628,565 1653,558 1678,552 1703,546 1727,556 1752,548 1777,552 1802,540 1827,546 1852,540 1877,547 1902,543 1926,539 1951,529 1976,536 2001,540 2026,542 2051,545 2076,551 2100,552 2125,549 2150,549 2175,549 2200,546 2225,543 2250,550 2275,544 2299,557 2324,541 2333,547" stroke="#00fd81"/>
<polyline points="857,554 882,549 907,552 932,556 956,552 981,539 1006,519 1031,482 1056,444 1081,406 1106,389 1131,375 1155,370 1180,384 1205,399 1230,408 1255,408 1280,416 1305,437 1330,465 1354,484 1379,502 1404,520 1429,535 1454,549 1479,568 1504,581 1528,594 1553,594 1578,581 1603,571 1628,568 1653,555 1678,552 1703,549 1727,547 1752,548 1777,542 1802,535 1827,533 1852,547 1877,548 1902,540 1926,540 1951,526 1976,533 2001,544 2026,546 2051,555 2076,544 2100,546 2125,543 2150,546 2175,542 2200,547 2225,540 2250,535 2275,540 2299,545 2324,545 2333,549" stroke="#00ff80"/>
</g>
<path d="M857 199.9V630.7H2330.1" fill="none" stroke="#3a3a3a" stroke-width="1.6"/>
<path d="M857 631.6h11" stroke="#3a3a3a" stroke-width="1.5"/>
<text x="846.5" y="639.6" font-size="22.4" fill="#404040" text-anchor="end">-100</text>
<path d="M857 560.5h11" stroke="#3a3a3a" stroke-width="1.5"/>
<text x="846.5" y="568.5" font-size="22.4" fill="#404040" text-anchor="end">0</text>
<path d="M857 488.4h11" stroke="#3a3a3a" stroke-width="1.5"/>
<text x="846.5" y="496.4" font-size="22.4" fill="#404040" text-anchor="end">100</text>
<path d="M857 416.3h11" stroke="#3a3a3a" stroke-width="1.5"/>
<text x="846.5" y="424.3" font-size="22.4" fill="#404040" text-anchor="end">200</text>
<path d="M857 344.2h11" stroke="#3a3a3a" stroke-width="1.5"/>
<text x="846.5" y="352.2" font-size="22.4" fill="#404040" text-anchor="end">300</text>
<path d="M857 272.1h11" stroke="#3a3a3a" stroke-width="1.5"/>
<text x="846.5" y="280.1" font-size="22.4" fill="#404040" text-anchor="end">400</text>
<path d="M857 199.9h11" stroke="#3a3a3a" stroke-width="1.5"/>
<text x="846.5" y="207.9" font-size="22.4" fill="#404040" text-anchor="end">500</text>
<path d="M857 630.9v-11" stroke="#3a3a3a" stroke-width="1.5"/>
<text x="857" y="662.8" font-size="22.4" fill="#404040" text-anchor="middle">0</text>
<path d="M1022.8 630.9v-11" stroke="#3a3a3a" stroke-width="1.5"/>
<text x="1022.8" y="662.8" font-size="22.4" fill="#404040" text-anchor="middle">100</text>
<path d="M1188.6 630.9v-11" stroke="#3a3a3a" stroke-width="1.5"/>
<text x="1188.6" y="662.8" font-size="22.4" fill="#404040" text-anchor="middle">200</text>
<path d="M1354.4 630.9v-11" stroke="#3a3a3a" stroke-width="1.5"/>
<text x="1354.4" y="662.8" font-size="22.4" fill="#404040" text-anchor="middle">300</text>
<path d="M1520.2 630.9v-11" stroke="#3a3a3a" stroke-width="1.5"/>
<text x="1520.2" y="662.8" font-size="22.4" fill="#404040" text-anchor="middle">400</text>
<path d="M1686 630.9v-11" stroke="#3a3a3a" stroke-width="1.5"/>
<text x="1686" y="662.8" font-size="22.4" fill="#404040" text-anchor="middle">500</text>
<path d="M1851.8 630.9v-11" stroke="#3a3a3a" stroke-width="1.5"/>
<text x="1851.8" y="662.8" font-size="22.4" fill="#404040" text-anchor="middle">600</text>
<path d="M2017.6 630.9v-11" stroke="#3a3a3a" stroke-width="1.5"/>
<text x="2017.6" y="662.8" font-size="22.4" fill="#404040" text-anchor="middle">700</text>
<path d="M2183.4 630.9v-11" stroke="#3a3a3a" stroke-width="1.5"/>
<text x="2183.4" y="662.8" font-size="22.4" fill="#404040" text-anchor="middle">800</text>
<text x="1594" y="705.5" font-size="36" fill="#404040" text-anchor="middle">Cardiac Time (ms)</text>
<text transform="translate(778 415.5) rotate(-90)" font-size="36.1" fill="#404040" text-anchor="middle">Flow (mL/s)</text>
<rect x="2351.4" y="199.8" width="35" height="431.1" fill="url(#winter)" stroke="#2a2a2a" stroke-width="1.5"/>
<text x="2247.9" y="178.2" font-size="36.1" fill="#1a1a1a" text-anchor="start">Point number</text>
<text x="2397.4" y="643.9" font-size="35.3" fill="#1a1a1a" text-anchor="start">15</text>
<path d="M2381 523.2H2386.4" stroke="#2a2a2a" stroke-width="1.5"/>
<text x="2397.4" y="536.1" font-size="35.3" fill="#1a1a1a" text-anchor="start">46</text>
<path d="M2381 415.5H2386.4" stroke="#2a2a2a" stroke-width="1.5"/>
<text x="2397.4" y="428.4" font-size="35.3" fill="#1a1a1a" text-anchor="start">77</text>
<path d="M2381 307.8H2386.4" stroke="#2a2a2a" stroke-width="1.5"/>
<text x="2397.4" y="320.6" font-size="35.3" fill="#1a1a1a" text-anchor="start">108</text>
<text x="2397.4" y="212.9" font-size="35.3" fill="#1a1a1a" text-anchor="start">139</text>
<rect x="907.5" y="755.5" width="282.7" height="34.9" fill="url(#pop)" stroke="#b9b9bd" stroke-width="1.6"/><path d="M906.7 792.7H1192.5V756.7" fill="none" stroke="#e6e6e8" stroke-width="2"/><path d="M1172.5 770.5h14l-7 7.5z" fill="#1a1a1a"/><text x="911.7" y="780.7" font-size="21.6" fill="#303030" text-anchor="start">Cross-correlation</text>
<rect x="1244.7" y="751.7" width="507.6" height="58.7" fill="url(#btn)"/><rect x="1244.7" y="751.7" width="14" height="58.7" fill="url(#btnl)"/><rect x="1738.3" y="751.7" width="14" height="58.7" fill="url(#btnr)"/><path d="M1246.2 808.4V753.2H1750.3" fill="none" stroke="#fbfbfb" stroke-width="3"/><path d="M1245.7 809.2H1751.1V753.7" fill="none" stroke="#9a9ca6" stroke-width="2.4"/><path d="M1247.7 806.6H1748.5V755.7" fill="none" stroke="#d4d4d6" stroke-width="3"/><text x="1498.5" y="790.4" font-size="25.9" fill="#303030" text-anchor="middle">Calculate PWV</text>
<rect x="908" y="827" width="846.5" height="312" fill="#fff"/>
<path d="M908 1139L1686.8 828.9" stroke="#3a8fd0" stroke-width="1.7" fill="none"/>
<g fill="#111"><circle cx="911.8" cy="1139" r="2.55"/><circle cx="917" cy="1139" r="2.55"/><circle cx="922.1" cy="1139" r="2.55"/><circle cx="928.5" cy="1139" r="2.55"/><circle cx="933.6" cy="1139" r="2.55"/><circle cx="940" cy="1139" r="2.55"/><circle cx="945.1" cy="1139" r="2.55"/><circle cx="950.2" cy="1139" r="2.55"/><circle cx="955.3" cy="1139" r="2.55"/><circle cx="959.2" cy="1132.8" r="2.55"/><circle cx="964.3" cy="1132.8" r="2.55"/><circle cx="969.4" cy="1139" r="2.55"/><circle cx="975.8" cy="1139" r="2.55"/><circle cx="980.9" cy="1139" r="2.55"/><circle cx="987.3" cy="1139" r="2.55"/><circle cx="1036.7" cy="1132.8" r="2.55"/><circle cx="1046.2" cy="1107.8" r="2.55"/><circle cx="1055.1" cy="1114" r="2.55"/><circle cx="1062.8" cy="1107.8" r="2.55"/><circle cx="1070.5" cy="1107.8" r="2.55"/><circle cx="1077.7" cy="1107.8" r="2.55"/><circle cx="1085.3" cy="1101.6" r="2.55"/><circle cx="1092.8" cy="1089.1" r="2.55"/><circle cx="1098.1" cy="1070.4" r="2.55"/><circle cx="1105" cy="1064.1" r="2.55"/><circle cx="1112.7" cy="1045.4" r="2.55"/><circle cx="1118.3" cy="1032.9" r="2.55"/><circle cx="1123.5" cy="1039.2" r="2.55"/><circle cx="1132.4" cy="1045.4" r="2.55"/><circle cx="1137.5" cy="1064.1" r="2.55"/><circle cx="1143.4" cy="1051.6" r="2.55"/><circle cx="1151.9" cy="1008" r="2.55"/><circle cx="1157.5" cy="1014.2" r="2.55"/><circle cx="1165.2" cy="1008" r="2.55"/><circle cx="1172.9" cy="1008" r="2.55"/><circle cx="1180" cy="1008" r="2.55"/><circle cx="1185.6" cy="1001.7" r="2.55"/><circle cx="1192.8" cy="1001.7" r="2.55"/><circle cx="1200.2" cy="1001.7" r="2.55"/><circle cx="1207.4" cy="1014.2" r="2.55"/><circle cx="1215.1" cy="1001.7" r="2.55"/><circle cx="1220.2" cy="1001.7" r="2.55"/><circle cx="1228.6" cy="989.2" r="2.55"/><circle cx="1234.3" cy="995.5" r="2.55"/><circle cx="1241.9" cy="1001.7" r="2.55"/><circle cx="1247.1" cy="995.5" r="2.55"/><circle cx="1254.2" cy="989.2" r="2.55"/><circle cx="1259.9" cy="995.5" r="2.55"/><circle cx="1265" cy="989.2" r="2.55"/><circle cx="1271.4" cy="995.5" r="2.55"/><circle cx="1276.5" cy="995.5" r="2.55"/><circle cx="1283.4" cy="995.5" r="2.55"/><circle cx="1288.5" cy="983" r="2.55"/><circle cx="1294.4" cy="970.5" r="2.55"/><circle cx="1299.5" cy="970.5" r="2.55"/><circle cx="1305.9" cy="970.5" r="2.55"/><circle cx="1313.6" cy="970.5" r="2.55"/><circle cx="1318.7" cy="964.3" r="2.55"/><circle cx="1304.6" cy="970.5" r="2.55"/><circle cx="1311.5" cy="970.5" r="2.55"/><circle cx="1317.4" cy="964.3" r="2.55"/><circle cx="1324.3" cy="951.8" r="2.55"/><circle cx="1330.2" cy="945.6" r="2.55"/><circle cx="1335.9" cy="945.6" r="2.55"/><circle cx="1341" cy="951.8" r="2.55"/><circle cx="1346.6" cy="951.8" r="2.55"/><circle cx="1353.3" cy="945.6" r="2.55"/><circle cx="1358.9" cy="951.8" r="2.55"/><circle cx="1364" cy="939.3" r="2.55"/><circle cx="1369.1" cy="939.3" r="2.55"/><circle cx="1374.8" cy="939.3" r="2.55"/><circle cx="1381.9" cy="933.1" r="2.55"/><circle cx="1388.3" cy="933.1" r="2.55"/><circle cx="1393.4" cy="933.1" r="2.55"/><circle cx="1399.8" cy="933.1" r="2.55"/><circle cx="1407.5" cy="933.1" r="2.55"/><circle cx="1412.6" cy="933.1" r="2.55"/><circle cx="1418.3" cy="933.1" r="2.55"/><circle cx="1424.1" cy="933.1" r="2.55"/><circle cx="1428" cy="926.8" r="2.55"/><circle cx="1433.6" cy="920.6" r="2.55"/><circle cx="1440.8" cy="914.4" r="2.55"/><circle cx="1445.9" cy="914.4" r="2.55"/><circle cx="1451" cy="914.4" r="2.55"/><circle cx="1456.6" cy="914.4" r="2.55"/><circle cx="1462" cy="914.4" r="2.55"/><circle cx="1467.6" cy="908.1" r="2.55"/><circle cx="1473.5" cy="908.1" r="2.55"/><circle cx="1477.9" cy="895.6" r="2.55"/><circle cx="1483.8" cy="901.9" r="2.55"/><circle cx="1488.9" cy="895.6" r="2.55"/><circle cx="1494" cy="889.4" r="2.55"/><circle cx="1500.9" cy="889.4" r="2.55"/><circle cx="1506.8" cy="895.6" r="2.55"/><circle cx="1511.9" cy="895.6" r="2.55"/><circle cx="1517.5" cy="901.9" r="2.55"/><circle cx="1523.2" cy="895.6" r="2.55"/><circle cx="1529.6" cy="895.6" r="2.55"/><circle cx="1538" cy="889.4" r="2.55"/><circle cx="1543.1" cy="889.4" r="2.55"/><circle cx="1547.7" cy="883.2" r="2.55"/><circle cx="1554.6" cy="883.2" r="2.55"/><circle cx="1560.5" cy="889.4" r="2.55"/><circle cx="1566.2" cy="889.4" r="2.55"/><circle cx="1573.3" cy="870.7" r="2.55"/><circle cx="1580.2" cy="876.9" r="2.55"/><circle cx="1586.1" cy="876.9" r="2.55"/><circle cx="1593" cy="883.2" r="2.55"/><circle cx="1598.9" cy="883.2" r="2.55"/><circle cx="1605.8" cy="883.2" r="2.55"/><circle cx="1611.5" cy="870.7" r="2.55"/><circle cx="1617.9" cy="876.9" r="2.55"/><circle cx="1623.7" cy="876.9" r="2.55"/><circle cx="1631.4" cy="870.7" r="2.55"/><circle cx="1637.3" cy="870.7" r="2.55"/><circle cx="1644.2" cy="870.7" r="2.55"/><circle cx="1650.1" cy="870.7" r="2.55"/><circle cx="1657" cy="864.4" r="2.55"/><circle cx="1662.1" cy="864.4" r="2.55"/><circle cx="1669.8" cy="864.4" r="2.55"/><circle cx="1674.9" cy="858.2" r="2.55"/><circle cx="1682.6" cy="858.2" r="2.55"/><circle cx="1688.2" cy="845.7" r="2.55"/></g>
<path d="M908 827V1139H1754.5" fill="none" stroke="#3a3a3a" stroke-width="1.6"/>
<path d="M908 1139h8.5" stroke="#3a3a3a" stroke-width="1.5"/>
<text x="896.8" y="1147.2" font-size="20.5" fill="#404040" text-anchor="end">0</text>
<path d="M908 1076.6h8.5" stroke="#3a3a3a" stroke-width="1.5"/>
<text x="896.8" y="1084.8" font-size="20.5" fill="#404040" text-anchor="end">10</text>
<path d="M908 1014.2h8.5" stroke="#3a3a3a" stroke-width="1.5"/>
<text x="896.8" y="1022.4" font-size="20.5" fill="#404040" text-anchor="end">20</text>
<path d="M908 951.8h8.5" stroke="#3a3a3a" stroke-width="1.5"/>
<text x="896.8" y="960" font-size="20.5" fill="#404040" text-anchor="end">30</text>
<path d="M908 889.4h8.5" stroke="#3a3a3a" stroke-width="1.5"/>
<text x="896.8" y="897.6" font-size="20.5" fill="#404040" text-anchor="end">40</text>
<path d="M908 827h8.5" stroke="#3a3a3a" stroke-width="1.5"/>
<text x="896.8" y="835.2" font-size="20.5" fill="#404040" text-anchor="end">50</text>
<path d="M908 1139v-8.5" stroke="#3a3a3a" stroke-width="1.5"/>
<text x="908" y="1168.6" font-size="20.5" fill="#404040" text-anchor="middle">0</text>
<path d="M1013.8 1139v-8.5" stroke="#3a3a3a" stroke-width="1.5"/>
<text x="1013.8" y="1168.6" font-size="20.5" fill="#404040" text-anchor="middle">50</text>
<path d="M1119.6 1139v-8.5" stroke="#3a3a3a" stroke-width="1.5"/>
<text x="1119.6" y="1168.6" font-size="20.5" fill="#404040" text-anchor="middle">100</text>
<path d="M1225.4 1139v-8.5" stroke="#3a3a3a" stroke-width="1.5"/>
<text x="1225.4" y="1168.6" font-size="20.5" fill="#404040" text-anchor="middle">150</text>
<path d="M1331.2 1139v-8.5" stroke="#3a3a3a" stroke-width="1.5"/>
<text x="1331.2" y="1168.6" font-size="20.5" fill="#404040" text-anchor="middle">200</text>
<path d="M1437.1 1139v-8.5" stroke="#3a3a3a" stroke-width="1.5"/>
<text x="1437.1" y="1168.6" font-size="20.5" fill="#404040" text-anchor="middle">250</text>
<path d="M1542.9 1139v-8.5" stroke="#3a3a3a" stroke-width="1.5"/>
<text x="1542.9" y="1168.6" font-size="20.5" fill="#404040" text-anchor="middle">300</text>
<path d="M1648.7 1139v-8.5" stroke="#3a3a3a" stroke-width="1.5"/>
<text x="1648.7" y="1168.6" font-size="20.5" fill="#404040" text-anchor="middle">350</text>
<path d="M1754.5 1139v-8.5" stroke="#3a3a3a" stroke-width="1.5"/>
<text x="1754.5" y="1168.6" font-size="20.5" fill="#404040" text-anchor="middle">400</text>
<text x="1331" y="1197.5" font-size="23.4" fill="#404040" text-anchor="middle">distance (mm)</text>
<text transform="translate(857.5 983) rotate(-90)" font-size="23.3" fill="#404040" text-anchor="middle">cross-corr delay (ms)</text>
<rect x="926.4" y="842.8" width="166" height="53" fill="#fff" stroke="#262626" stroke-width="1.5"/>
<circle cx="966" cy="857.3" r="2.55" fill="#111"/>
<path d="M933 881.5H999.5" stroke="#3a8fd0" stroke-width="1.7"/>
<text x="1005.5" y="864.3" font-size="18.9" fill="#404040" text-anchor="start">delays</text>
<text x="1005.5" y="888.3" font-size="18.9" fill="#404040" text-anchor="start">linear fit</text>
<rect x="1795" y="808.6" width="317" height="33.2" fill="#f0f0f0"/><text x="1953.5" y="830.9" font-size="26.2" fill="#303030" text-anchor="middle">Calculated PWV (m/s)</text>
<rect x="1834.6" y="843.9" width="239" height="41.5" fill="#fff" stroke="#9094b4" stroke-width="2"/><path d="M1834.3 885.9V843.6H2074.1" fill="none" stroke="#6f7499" stroke-width="1.4"/><text x="1954.1" y="873.1" font-size="26.2" fill="#303030" text-anchor="middle">7.3642</text>
<rect x="2158.6" y="816.8" width="257.1" height="33.9" fill="#f0f0f0"/><text x="2287.1" y="839.2" font-size="25.3" fill="#303030" text-anchor="middle">Saving</text>
<rect x="2144" y="877.2" width="282.2" height="36.3" fill="url(#pop)" stroke="#b9b9bd" stroke-width="1.6"/><path d="M2143.2 915.8H2428.5V878.4" fill="none" stroke="#e6e6e8" stroke-width="2"/><path d="M2408.5 892.8h14l-7 7.5z" fill="#1a1a1a"/><text x="2148.2" y="902.8" font-size="20.7" fill="#303030" text-anchor="start">Global PWV</text>
<rect x="1827.5" y="949" width="256.8" height="32.8" fill="#f0f0f0"/><text x="1955.9" y="971.1" font-size="26" fill="#303030" text-anchor="middle">Linear Fit RMSE</text>
<rect x="1834.6" y="985.6" width="239" height="42" fill="#fff" stroke="#9094b4" stroke-width="2"/><path d="M1834.3 1028.1V985.3H2074.1" fill="none" stroke="#6f7499" stroke-width="1.4"/><text x="1954.1" y="1015" font-size="26.2" fill="#303030" text-anchor="middle">2.8015</text>
<rect x="2140.7" y="956" width="294.7" height="59.7" fill="url(#btn)"/><rect x="2140.7" y="956" width="14" height="59.7" fill="url(#btnl)"/><rect x="2421.4" y="956" width="14" height="59.7" fill="url(#btnr)"/><path d="M2142.2 1013.7V957.5H2433.4" fill="none" stroke="#fbfbfb" stroke-width="3"/><path d="M2141.7 1014.5H2434.2V958" fill="none" stroke="#9a9ca6" stroke-width="2.4"/><path d="M2143.7 1011.9H2431.6V960" fill="none" stroke="#d4d4d6" stroke-width="3"/><rect x="2141.8" y="957.1" width="292.5" height="57.5" fill="none" stroke="#b0548a" stroke-width="2.2"/><text x="2288.1" y="994.9" font-size="25" fill="#303030" text-anchor="middle">Save</text>
</g>
</g></svg></body></html>
